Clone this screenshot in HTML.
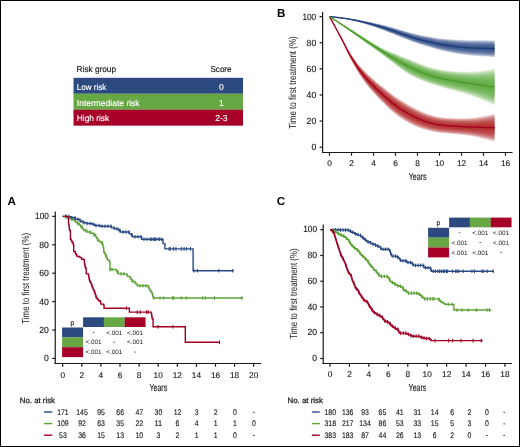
<!DOCTYPE html>
<html><head><meta charset="utf-8"><style>
html,body{margin:0;padding:0;background:#fff;}
body{width:520px;height:447px;overflow:hidden;}
svg{display:block;will-change:transform;font-family:"Liberation Sans", sans-serif;}
</style></head><body>
<svg width="520" height="447" viewBox="0 0 520 447" text-rendering="geometricPrecision">
<rect x="0" y="0" width="520" height="447" fill="#fff"/>
<text x="76.60" y="72.30" font-size="8.6" text-anchor="start" font-weight="normal" fill="#1a1a1a" textLength="39.4" lengthAdjust="spacingAndGlyphs" stroke="#1a1a1a" stroke-width="0.18">Risk group</text>
<text x="221.00" y="72.30" font-size="8.6" text-anchor="middle" font-weight="normal" fill="#1a1a1a" textLength="21" lengthAdjust="spacingAndGlyphs" stroke="#1a1a1a" stroke-width="0.18">Score</text>
<rect x="73.50" y="77.80" width="169.50" height="15.98" fill="#2c4a80"/>
<text x="76.80" y="89.60" font-size="8.6" text-anchor="start" font-weight="normal" fill="#ffffff" textLength="29.4" lengthAdjust="spacingAndGlyphs" stroke="#ffffff" stroke-width="0.15">Low risk</text>
<text x="221.40" y="89.60" font-size="8.6" text-anchor="middle" font-weight="normal" fill="#ffffff" stroke="#ffffff" stroke-width="0.15">0</text>
<rect x="73.50" y="93.73" width="169.50" height="15.98" fill="#67a844"/>
<text x="76.80" y="105.53" font-size="8.6" text-anchor="start" font-weight="normal" fill="#ffffff" textLength="62.8" lengthAdjust="spacingAndGlyphs" stroke="#ffffff" stroke-width="0.15">Intermediate risk</text>
<text x="221.40" y="105.53" font-size="8.6" text-anchor="middle" font-weight="normal" fill="#ffffff" stroke="#ffffff" stroke-width="0.15">1</text>
<rect x="73.50" y="109.66" width="169.50" height="15.98" fill="#a60029"/>
<text x="76.80" y="121.46" font-size="8.6" text-anchor="start" font-weight="normal" fill="#ffffff" textLength="32.3" lengthAdjust="spacingAndGlyphs" stroke="#ffffff" stroke-width="0.15">High risk</text>
<text x="221.40" y="121.46" font-size="8.6" text-anchor="middle" font-weight="normal" fill="#ffffff" stroke="#ffffff" stroke-width="0.15">2-3</text>
<text x="277.00" y="17.00" font-size="11.6" text-anchor="start" font-weight="bold" fill="#000">B</text>
<line x1="322.60" y1="12.00" x2="322.60" y2="153.10" stroke="#1a1a1a" stroke-width="1.2"/>
<line x1="322.00" y1="152.50" x2="512.50" y2="152.50" stroke="#1a1a1a" stroke-width="1.2"/>
<line x1="319.60" y1="147.20" x2="322.60" y2="147.20" stroke="#1a1a1a" stroke-width="1.2"/>
<text x="316.20" y="150.30" font-size="9.0" text-anchor="end" font-weight="normal" fill="#1a1a1a" textLength="4.8" lengthAdjust="spacingAndGlyphs" stroke="#1a1a1a" stroke-width="0.14">0</text>
<line x1="319.60" y1="121.09" x2="322.60" y2="121.09" stroke="#1a1a1a" stroke-width="1.2"/>
<text x="316.20" y="124.19" font-size="9.0" text-anchor="end" font-weight="normal" fill="#1a1a1a" textLength="9.6" lengthAdjust="spacingAndGlyphs" stroke="#1a1a1a" stroke-width="0.14">20</text>
<line x1="319.60" y1="94.98" x2="322.60" y2="94.98" stroke="#1a1a1a" stroke-width="1.2"/>
<text x="316.20" y="98.08" font-size="9.0" text-anchor="end" font-weight="normal" fill="#1a1a1a" textLength="9.6" lengthAdjust="spacingAndGlyphs" stroke="#1a1a1a" stroke-width="0.14">40</text>
<line x1="319.60" y1="68.87" x2="322.60" y2="68.87" stroke="#1a1a1a" stroke-width="1.2"/>
<text x="316.20" y="71.97" font-size="9.0" text-anchor="end" font-weight="normal" fill="#1a1a1a" textLength="9.6" lengthAdjust="spacingAndGlyphs" stroke="#1a1a1a" stroke-width="0.14">60</text>
<line x1="319.60" y1="42.76" x2="322.60" y2="42.76" stroke="#1a1a1a" stroke-width="1.2"/>
<text x="316.20" y="45.86" font-size="9.0" text-anchor="end" font-weight="normal" fill="#1a1a1a" textLength="9.6" lengthAdjust="spacingAndGlyphs" stroke="#1a1a1a" stroke-width="0.14">80</text>
<line x1="319.60" y1="16.65" x2="322.60" y2="16.65" stroke="#1a1a1a" stroke-width="1.2"/>
<text x="316.20" y="19.75" font-size="9.0" text-anchor="end" font-weight="normal" fill="#1a1a1a" textLength="13.8" lengthAdjust="spacingAndGlyphs" stroke="#1a1a1a" stroke-width="0.14">100</text>
<line x1="329.50" y1="152.50" x2="329.50" y2="155.70" stroke="#1a1a1a" stroke-width="1.2"/>
<text x="329.50" y="166.10" font-size="8.3" text-anchor="middle" font-weight="normal" fill="#1a1a1a" stroke="#1a1a1a" stroke-width="0.14">0</text>
<line x1="351.50" y1="152.50" x2="351.50" y2="155.70" stroke="#1a1a1a" stroke-width="1.2"/>
<text x="351.50" y="166.10" font-size="8.3" text-anchor="middle" font-weight="normal" fill="#1a1a1a" stroke="#1a1a1a" stroke-width="0.14">2</text>
<line x1="373.50" y1="152.50" x2="373.50" y2="155.70" stroke="#1a1a1a" stroke-width="1.2"/>
<text x="373.50" y="166.10" font-size="8.3" text-anchor="middle" font-weight="normal" fill="#1a1a1a" stroke="#1a1a1a" stroke-width="0.14">4</text>
<line x1="395.50" y1="152.50" x2="395.50" y2="155.70" stroke="#1a1a1a" stroke-width="1.2"/>
<text x="395.50" y="166.10" font-size="8.3" text-anchor="middle" font-weight="normal" fill="#1a1a1a" stroke="#1a1a1a" stroke-width="0.14">6</text>
<line x1="417.50" y1="152.50" x2="417.50" y2="155.70" stroke="#1a1a1a" stroke-width="1.2"/>
<text x="417.50" y="166.10" font-size="8.3" text-anchor="middle" font-weight="normal" fill="#1a1a1a" stroke="#1a1a1a" stroke-width="0.14">8</text>
<line x1="439.50" y1="152.50" x2="439.50" y2="155.70" stroke="#1a1a1a" stroke-width="1.2"/>
<text x="439.50" y="166.10" font-size="8.3" text-anchor="middle" font-weight="normal" fill="#1a1a1a" stroke="#1a1a1a" stroke-width="0.14">10</text>
<line x1="461.50" y1="152.50" x2="461.50" y2="155.70" stroke="#1a1a1a" stroke-width="1.2"/>
<text x="461.50" y="166.10" font-size="8.3" text-anchor="middle" font-weight="normal" fill="#1a1a1a" stroke="#1a1a1a" stroke-width="0.14">12</text>
<line x1="483.50" y1="152.50" x2="483.50" y2="155.70" stroke="#1a1a1a" stroke-width="1.2"/>
<text x="483.50" y="166.10" font-size="8.3" text-anchor="middle" font-weight="normal" fill="#1a1a1a" stroke="#1a1a1a" stroke-width="0.14">14</text>
<line x1="505.50" y1="152.50" x2="505.50" y2="155.70" stroke="#1a1a1a" stroke-width="1.2"/>
<text x="505.50" y="166.10" font-size="8.3" text-anchor="middle" font-weight="normal" fill="#1a1a1a" stroke="#1a1a1a" stroke-width="0.14">16</text>
<text x="417.60" y="179.80" font-size="10.2" text-anchor="middle" font-weight="normal" fill="#1a1a1a" textLength="17.8" lengthAdjust="spacingAndGlyphs" stroke="#1a1a1a" stroke-width="0.14">Years</text>
<text transform="translate(295.7,82.45) rotate(-90)" font-size="10.2" text-anchor="middle" fill="#1a1a1a" textLength="92.5" lengthAdjust="spacingAndGlyphs">Time to first treatment (%)</text>
<polygon points="329.5,16.6 330.9,16.2 332.3,16.3 333.7,16.4 335.0,16.6 336.4,16.7 337.8,16.9 339.2,17.1 340.6,17.2 342.0,17.4 343.4,17.6 344.8,17.8 346.1,18.0 347.5,18.3 348.9,18.5 350.3,18.6 351.7,18.8 353.1,19.0 354.5,19.2 355.8,19.5 357.2,19.7 358.6,19.9 360.0,20.2 361.4,20.4 362.8,20.7 364.2,20.9 365.6,21.2 366.9,21.5 368.3,21.7 369.7,22.0 371.1,22.3 372.5,22.6 373.9,22.9 375.3,23.2 376.6,23.5 378.0,23.8 379.4,24.1 380.8,24.4 382.2,24.8 383.6,25.1 385.0,25.5 386.3,25.8 387.7,26.2 389.1,26.6 390.5,26.9 391.9,27.3 393.3,27.7 394.7,28.1 396.1,28.5 397.4,28.9 398.8,29.3 400.2,29.7 401.6,30.1 403.0,30.5 404.4,30.9 405.8,31.3 407.1,31.7 408.5,32.1 409.9,32.5 411.3,32.9 412.7,33.3 414.1,33.6 415.5,34.0 416.9,34.3 418.2,34.6 419.6,34.9 421.0,35.2 422.4,35.5 423.8,35.7 425.2,36.0 426.6,36.2 427.9,36.5 429.3,36.7 430.7,37.0 432.1,37.2 433.5,37.4 434.9,37.7 436.3,37.9 437.7,38.1 439.0,38.2 440.4,38.4 441.8,38.5 443.2,38.6 444.6,38.8 446.0,38.9 447.4,39.0 448.7,39.1 450.1,39.2 451.5,39.3 452.9,39.4 454.3,39.5 455.7,39.6 457.1,39.7 458.4,39.8 459.8,39.9 461.2,40.0 462.6,40.0 464.0,40.1 465.4,40.1 466.8,40.2 468.2,40.2 469.5,40.2 470.9,40.3 472.3,40.3 473.7,40.3 475.1,40.3 476.5,40.3 477.9,40.3 479.2,40.3 480.6,40.3 482.0,40.3 483.4,40.3 484.8,40.3 486.2,40.3 487.6,40.3 489.0,40.3 490.3,40.3 491.7,40.4 493.1,40.4 494.5,40.4 494.5,57.1 493.1,57.0 491.7,57.0 490.3,56.9 489.0,56.8 487.6,56.7 486.2,56.6 484.8,56.5 483.4,56.5 482.0,56.4 480.6,56.3 479.2,56.2 477.9,56.1 476.5,56.0 475.1,55.9 473.7,55.8 472.3,55.7 470.9,55.5 469.5,55.4 468.2,55.3 466.8,55.1 465.4,54.9 464.0,54.8 462.6,54.6 461.2,54.4 459.8,54.2 458.4,54.0 457.1,53.8 455.7,53.5 454.3,53.3 452.9,53.0 451.5,52.8 450.1,52.5 448.7,52.2 447.4,51.9 446.0,51.6 444.6,51.3 443.2,51.0 441.8,50.7 440.4,50.3 439.0,50.0 437.7,49.6 436.3,49.2 434.9,48.8 433.5,48.4 432.1,48.0 430.7,47.5 429.3,47.1 427.9,46.7 426.6,46.3 425.2,45.9 423.8,45.5 422.4,45.1 421.0,44.6 419.6,44.2 418.2,43.7 416.9,43.3 415.5,42.8 414.1,42.3 412.7,41.8 411.3,41.2 409.9,40.7 408.5,40.2 407.1,39.6 405.8,39.1 404.4,38.5 403.0,38.0 401.6,37.4 400.2,36.9 398.8,36.3 397.4,35.8 396.1,35.2 394.7,34.7 393.3,34.1 391.9,33.6 390.5,33.0 389.1,32.5 387.7,31.9 386.3,31.4 385.0,30.8 383.6,30.3 382.2,29.8 380.8,29.3 379.4,28.8 378.0,28.3 376.6,27.8 375.3,27.3 373.9,26.8 372.5,26.3 371.1,25.9 369.7,25.4 368.3,24.9 366.9,24.5 365.6,24.0 364.2,23.6 362.8,23.2 361.4,22.8 360.0,22.4 358.6,22.0 357.2,21.6 355.8,21.3 354.5,20.9 353.1,20.6 351.7,20.3 350.3,20.0 348.9,19.7 347.5,19.4 346.1,19.2 344.8,19.0 343.4,18.8 342.0,18.6 340.6,18.4 339.2,18.3 337.8,18.1 336.4,17.9 335.0,17.8 333.7,17.6 332.3,17.5 330.9,17.4 329.5,16.6" fill="#2c4a85" fill-opacity="0.2"/>
<polygon points="329.5,16.6 330.9,16.2 332.3,16.4 333.7,16.5 335.0,16.6 336.4,16.8 337.8,17.0 339.2,17.1 340.6,17.3 342.0,17.5 343.4,17.7 344.8,17.9 346.1,18.1 347.5,18.3 348.9,18.5 350.3,18.7 351.7,18.9 353.1,19.1 354.5,19.3 355.8,19.5 357.2,19.8 358.6,20.0 360.0,20.3 361.4,20.5 362.8,20.8 364.2,21.0 365.6,21.3 366.9,21.6 368.3,21.9 369.7,22.2 371.1,22.5 372.5,22.8 373.9,23.1 375.3,23.4 376.6,23.7 378.0,24.0 379.4,24.3 380.8,24.6 382.2,25.0 383.6,25.3 385.0,25.7 386.3,26.0 387.7,26.4 389.1,26.8 390.5,27.2 391.9,27.6 393.3,28.0 394.7,28.4 396.1,28.8 397.4,29.2 398.8,29.6 400.2,30.0 401.6,30.4 403.0,30.8 404.4,31.2 405.8,31.6 407.1,32.0 408.5,32.4 409.9,32.8 411.3,33.2 412.7,33.6 414.1,34.0 415.5,34.3 416.9,34.7 418.2,35.0 419.6,35.3 421.0,35.6 422.4,35.9 423.8,36.1 425.2,36.4 426.6,36.6 427.9,36.9 429.3,37.1 430.7,37.4 432.1,37.6 433.5,37.9 434.9,38.1 436.3,38.3 437.7,38.5 439.0,38.7 440.4,38.9 441.8,39.0 443.2,39.2 444.6,39.3 446.0,39.4 447.4,39.5 448.7,39.6 450.1,39.7 451.5,39.9 452.9,40.0 454.3,40.1 455.7,40.2 457.1,40.3 458.4,40.4 459.8,40.5 461.2,40.6 462.6,40.6 464.0,40.7 465.4,40.7 466.8,40.8 468.2,40.8 469.5,40.9 470.9,40.9 472.3,40.9 473.7,40.9 475.1,40.9 476.5,40.9 477.9,40.9 479.2,40.9 480.6,40.9 482.0,40.9 483.4,41.0 484.8,41.0 486.2,41.0 487.6,41.0 489.0,41.0 490.3,41.0 491.7,41.1 493.1,41.1 494.5,41.1 494.5,56.4 493.1,56.4 491.7,56.3 490.3,56.2 489.0,56.1 487.6,56.0 486.2,56.0 484.8,55.9 483.4,55.8 482.0,55.7 480.6,55.6 479.2,55.5 477.9,55.4 476.5,55.3 475.1,55.2 473.7,55.1 472.3,55.0 470.9,54.9 469.5,54.8 468.2,54.6 466.8,54.5 465.4,54.3 464.0,54.1 462.6,54.0 461.2,53.8 459.8,53.6 458.4,53.4 457.1,53.2 455.7,52.9 454.3,52.7 452.9,52.5 451.5,52.2 450.1,51.9 448.7,51.7 447.4,51.4 446.0,51.1 444.6,50.8 443.2,50.5 441.8,50.2 440.4,49.8 439.0,49.5 437.7,49.1 436.3,48.7 434.9,48.3 433.5,47.9 432.1,47.5 430.7,47.1 429.3,46.7 427.9,46.3 426.6,45.9 425.2,45.5 423.8,45.1 422.4,44.7 421.0,44.2 419.6,43.8 418.2,43.4 416.9,42.9 415.5,42.4 414.1,41.9 412.7,41.4 411.3,40.9 409.9,40.4 408.5,39.8 407.1,39.3 405.8,38.8 404.4,38.2 403.0,37.7 401.6,37.1 400.2,36.6 398.8,36.0 397.4,35.5 396.1,34.9 394.7,34.4 393.3,33.8 391.9,33.3 390.5,32.8 389.1,32.2 387.7,31.7 386.3,31.1 385.0,30.6 383.6,30.1 382.2,29.6 380.8,29.1 379.4,28.6 378.0,28.1 376.6,27.6 375.3,27.1 373.9,26.6 372.5,26.2 371.1,25.7 369.7,25.2 368.3,24.8 366.9,24.4 365.6,23.9 364.2,23.5 362.8,23.1 361.4,22.7 360.0,22.3 358.6,21.9 357.2,21.6 355.8,21.2 354.5,20.9 353.1,20.5 351.7,20.2 350.3,19.9 348.9,19.6 347.5,19.4 346.1,19.2 344.8,18.9 343.4,18.7 342.0,18.6 340.6,18.4 339.2,18.2 337.8,18.0 336.4,17.9 335.0,17.7 333.7,17.6 332.3,17.4 330.9,17.3 329.5,16.6" fill="#2c4a85" fill-opacity="0.2"/>
<polygon points="329.5,16.6 330.9,16.3 332.3,16.4 333.7,16.5 335.0,16.7 336.4,16.8 337.8,17.0 339.2,17.2 340.6,17.3 342.0,17.5 343.4,17.7 344.8,17.9 346.1,18.1 347.5,18.4 348.9,18.6 350.3,18.7 351.7,18.9 353.1,19.2 354.5,19.4 355.8,19.6 357.2,19.9 358.6,20.1 360.0,20.4 361.4,20.6 362.8,20.9 364.2,21.2 365.6,21.4 366.9,21.7 368.3,22.0 369.7,22.3 371.1,22.6 372.5,22.9 373.9,23.2 375.3,23.5 376.6,23.9 378.0,24.2 379.4,24.5 380.8,24.9 382.2,25.2 383.6,25.5 385.0,25.9 386.3,26.3 387.7,26.7 389.1,27.0 390.5,27.4 391.9,27.8 393.3,28.3 394.7,28.7 396.1,29.1 397.4,29.5 398.8,29.9 400.2,30.3 401.6,30.7 403.0,31.1 404.4,31.6 405.8,32.0 407.1,32.4 408.5,32.8 409.9,33.2 411.3,33.6 412.7,34.0 414.1,34.3 415.5,34.7 416.9,35.1 418.2,35.4 419.6,35.7 421.0,36.0 422.4,36.3 423.8,36.5 425.2,36.8 426.6,37.1 427.9,37.3 429.3,37.6 430.7,37.8 432.1,38.1 433.5,38.3 434.9,38.6 436.3,38.8 437.7,39.0 439.0,39.2 440.4,39.4 441.8,39.5 443.2,39.7 444.6,39.8 446.0,39.9 447.4,40.1 448.7,40.2 450.1,40.3 451.5,40.4 452.9,40.5 454.3,40.7 455.7,40.8 457.1,40.9 458.4,41.0 459.8,41.1 461.2,41.2 462.6,41.2 464.0,41.3 465.4,41.4 466.8,41.4 468.2,41.5 469.5,41.5 470.9,41.5 472.3,41.6 473.7,41.6 475.1,41.6 476.5,41.6 477.9,41.6 479.2,41.6 480.6,41.6 482.0,41.6 483.4,41.6 484.8,41.6 486.2,41.7 487.6,41.7 489.0,41.7 490.3,41.7 491.7,41.7 493.1,41.8 494.5,41.8 494.5,55.7 493.1,55.7 491.7,55.6 490.3,55.5 489.0,55.4 487.6,55.4 486.2,55.3 484.8,55.2 483.4,55.1 482.0,55.0 480.6,54.9 479.2,54.9 477.9,54.8 476.5,54.7 475.1,54.6 473.7,54.5 472.3,54.4 470.9,54.3 469.5,54.1 468.2,54.0 466.8,53.9 465.4,53.7 464.0,53.5 462.6,53.4 461.2,53.2 459.8,53.0 458.4,52.8 457.1,52.6 455.7,52.4 454.3,52.1 452.9,51.9 451.5,51.6 450.1,51.4 448.7,51.1 447.4,50.9 446.0,50.6 444.6,50.3 443.2,50.0 441.8,49.7 440.4,49.3 439.0,49.0 437.7,48.6 436.3,48.3 434.9,47.9 433.5,47.5 432.1,47.1 430.7,46.7 429.3,46.3 427.9,45.9 426.6,45.5 425.2,45.1 423.8,44.7 422.4,44.3 421.0,43.8 419.6,43.4 418.2,43.0 416.9,42.5 415.5,42.1 414.1,41.6 412.7,41.1 411.3,40.5 409.9,40.0 408.5,39.5 407.1,39.0 405.8,38.4 404.4,37.9 403.0,37.4 401.6,36.8 400.2,36.3 398.8,35.7 397.4,35.2 396.1,34.6 394.7,34.1 393.3,33.6 391.9,33.0 390.5,32.5 389.1,32.0 387.7,31.4 386.3,30.9 385.0,30.4 383.6,29.9 382.2,29.4 380.8,28.9 379.4,28.4 378.0,27.9 376.6,27.4 375.3,26.9 373.9,26.5 372.5,26.0 371.1,25.6 369.7,25.1 368.3,24.7 366.9,24.2 365.6,23.8 364.2,23.4 362.8,23.0 361.4,22.6 360.0,22.2 358.6,21.8 357.2,21.5 355.8,21.1 354.5,20.8 353.1,20.5 351.7,20.2 350.3,19.9 348.9,19.6 347.5,19.3 346.1,19.1 344.8,18.9 343.4,18.7 342.0,18.5 340.6,18.3 339.2,18.2 337.8,18.0 336.4,17.8 335.0,17.7 333.7,17.5 332.3,17.4 330.9,17.3 329.5,16.6" fill="#2c4a85" fill-opacity="0.2"/>
<polygon points="329.5,16.6 330.9,16.3 332.3,16.5 333.7,16.6 335.0,16.7 336.4,16.9 337.8,17.1 339.2,17.2 340.6,17.4 342.0,17.6 343.4,17.8 344.8,18.0 346.1,18.2 347.5,18.4 348.9,18.6 350.3,18.8 351.7,19.0 353.1,19.2 354.5,19.4 355.8,19.7 357.2,19.9 358.6,20.2 360.0,20.5 361.4,20.7 362.8,21.0 364.2,21.3 365.6,21.5 366.9,21.8 368.3,22.1 369.7,22.4 371.1,22.8 372.5,23.1 373.9,23.4 375.3,23.7 376.6,24.0 378.0,24.4 379.4,24.7 380.8,25.1 382.2,25.4 383.6,25.8 385.0,26.1 386.3,26.5 387.7,26.9 389.1,27.3 390.5,27.7 391.9,28.1 393.3,28.5 394.7,28.9 396.1,29.3 397.4,29.8 398.8,30.2 400.2,30.6 401.6,31.0 403.0,31.5 404.4,31.9 405.8,32.3 407.1,32.7 408.5,33.1 409.9,33.5 411.3,33.9 412.7,34.3 414.1,34.7 415.5,35.1 416.9,35.4 418.2,35.8 419.6,36.1 421.0,36.4 422.4,36.7 423.8,36.9 425.2,37.2 426.6,37.5 427.9,37.7 429.3,38.0 430.7,38.3 432.1,38.5 433.5,38.8 434.9,39.1 436.3,39.3 437.7,39.5 439.0,39.7 440.4,39.9 441.8,40.0 443.2,40.2 444.6,40.3 446.0,40.5 447.4,40.6 448.7,40.7 450.1,40.9 451.5,41.0 452.9,41.1 454.3,41.2 455.7,41.4 457.1,41.5 458.4,41.6 459.8,41.7 461.2,41.8 462.6,41.8 464.0,41.9 465.4,42.0 466.8,42.0 468.2,42.1 469.5,42.1 470.9,42.2 472.3,42.2 473.7,42.2 475.1,42.2 476.5,42.3 477.9,42.3 479.2,42.3 480.6,42.3 482.0,42.3 483.4,42.3 484.8,42.3 486.2,42.3 487.6,42.4 489.0,42.4 490.3,42.4 491.7,42.4 493.1,42.5 494.5,42.5 494.5,55.0 493.1,55.0 491.7,54.9 490.3,54.8 489.0,54.7 487.6,54.7 486.2,54.6 484.8,54.5 483.4,54.4 482.0,54.4 480.6,54.3 479.2,54.2 477.9,54.1 476.5,54.0 475.1,53.9 473.7,53.8 472.3,53.7 470.9,53.6 469.5,53.5 468.2,53.4 466.8,53.2 465.4,53.1 464.0,52.9 462.6,52.8 461.2,52.6 459.8,52.4 458.4,52.2 457.1,52.0 455.7,51.8 454.3,51.6 452.9,51.3 451.5,51.1 450.1,50.8 448.7,50.6 447.4,50.3 446.0,50.0 444.6,49.8 443.2,49.5 441.8,49.2 440.4,48.8 439.0,48.5 437.7,48.2 436.3,47.8 434.9,47.4 433.5,47.0 432.1,46.6 430.7,46.2 429.3,45.8 427.9,45.4 426.6,45.0 425.2,44.6 423.8,44.3 422.4,43.9 421.0,43.4 419.6,43.0 418.2,42.6 416.9,42.2 415.5,41.7 414.1,41.2 412.7,40.7 411.3,40.2 409.9,39.7 408.5,39.2 407.1,38.6 405.8,38.1 404.4,37.6 403.0,37.1 401.6,36.5 400.2,36.0 398.8,35.4 397.4,34.9 396.1,34.4 394.7,33.8 393.3,33.3 391.9,32.8 390.5,32.2 389.1,31.7 387.7,31.2 386.3,30.7 385.0,30.2 383.6,29.7 382.2,29.2 380.8,28.7 379.4,28.2 378.0,27.7 376.6,27.2 375.3,26.8 373.9,26.3 372.5,25.9 371.1,25.4 369.7,25.0 368.3,24.5 366.9,24.1 365.6,23.7 364.2,23.3 362.8,22.9 361.4,22.5 360.0,22.1 358.6,21.8 357.2,21.4 355.8,21.1 354.5,20.7 353.1,20.4 351.7,20.1 350.3,19.8 348.9,19.5 347.5,19.3 346.1,19.1 344.8,18.9 343.4,18.6 342.0,18.5 340.6,18.3 339.2,18.1 337.8,17.9 336.4,17.8 335.0,17.6 333.7,17.5 332.3,17.3 330.9,17.2 329.5,16.6" fill="#2c4a85" fill-opacity="0.2"/>
<polygon points="329.5,16.6 330.9,16.4 332.3,16.5 333.7,16.6 335.0,16.8 336.4,16.9 337.8,17.1 339.2,17.3 340.6,17.4 342.0,17.6 343.4,17.8 344.8,18.0 346.1,18.2 347.5,18.5 348.9,18.7 350.3,18.9 351.7,19.1 353.1,19.3 354.5,19.5 355.8,19.8 357.2,20.0 358.6,20.3 360.0,20.6 361.4,20.8 362.8,21.1 364.2,21.4 365.6,21.7 366.9,22.0 368.3,22.3 369.7,22.6 371.1,22.9 372.5,23.2 373.9,23.5 375.3,23.9 376.6,24.2 378.0,24.5 379.4,24.9 380.8,25.3 382.2,25.6 383.6,26.0 385.0,26.4 386.3,26.7 387.7,27.1 389.1,27.5 390.5,28.0 391.9,28.4 393.3,28.8 394.7,29.2 396.1,29.6 397.4,30.0 398.8,30.5 400.2,30.9 401.6,31.3 403.0,31.8 404.4,32.2 405.8,32.6 407.1,33.0 408.5,33.4 409.9,33.9 411.3,34.3 412.7,34.7 414.1,35.1 415.5,35.4 416.9,35.8 418.2,36.1 419.6,36.5 421.0,36.8 422.4,37.1 423.8,37.3 425.2,37.6 426.6,37.9 427.9,38.2 429.3,38.4 430.7,38.7 432.1,39.0 433.5,39.3 434.9,39.5 436.3,39.8 437.7,40.0 439.0,40.2 440.4,40.4 441.8,40.5 443.2,40.7 444.6,40.9 446.0,41.0 447.4,41.1 448.7,41.3 450.1,41.4 451.5,41.5 452.9,41.7 454.3,41.8 455.7,41.9 457.1,42.1 458.4,42.2 459.8,42.3 461.2,42.4 462.6,42.4 464.0,42.5 465.4,42.6 466.8,42.7 468.2,42.7 469.5,42.8 470.9,42.8 472.3,42.8 473.7,42.9 475.1,42.9 476.5,42.9 477.9,42.9 479.2,42.9 480.6,42.9 482.0,43.0 483.4,43.0 484.8,43.0 486.2,43.0 487.6,43.0 489.0,43.1 490.3,43.1 491.7,43.1 493.1,43.2 494.5,43.2 494.5,54.3 493.1,54.3 491.7,54.2 490.3,54.1 489.0,54.1 487.6,54.0 486.2,53.9 484.8,53.8 483.4,53.8 482.0,53.7 480.6,53.6 479.2,53.5 477.9,53.5 476.5,53.4 475.1,53.3 473.7,53.2 472.3,53.1 470.9,53.0 469.5,52.9 468.2,52.7 466.8,52.6 465.4,52.5 464.0,52.3 462.6,52.1 461.2,52.0 459.8,51.8 458.4,51.6 457.1,51.4 455.7,51.2 454.3,51.0 452.9,50.8 451.5,50.5 450.1,50.3 448.7,50.0 447.4,49.8 446.0,49.5 444.6,49.2 443.2,49.0 441.8,48.7 440.4,48.3 439.0,48.0 437.7,47.7 436.3,47.3 434.9,46.9 433.5,46.6 432.1,46.2 430.7,45.8 429.3,45.4 427.9,45.0 426.6,44.6 425.2,44.2 423.8,43.8 422.4,43.5 421.0,43.1 419.6,42.6 418.2,42.2 416.9,41.8 415.5,41.3 414.1,40.8 412.7,40.3 411.3,39.8 409.9,39.3 408.5,38.8 407.1,38.3 405.8,37.8 404.4,37.3 403.0,36.7 401.6,36.2 400.2,35.7 398.8,35.1 397.4,34.6 396.1,34.1 394.7,33.6 393.3,33.0 391.9,32.5 390.5,32.0 389.1,31.5 387.7,31.0 386.3,30.5 385.0,29.9 383.6,29.5 382.2,29.0 380.8,28.5 379.4,28.0 378.0,27.5 376.6,27.1 375.3,26.6 373.9,26.2 372.5,25.7 371.1,25.3 369.7,24.8 368.3,24.4 366.9,24.0 365.6,23.6 364.2,23.2 362.8,22.8 361.4,22.4 360.0,22.0 358.6,21.7 357.2,21.3 355.8,21.0 354.5,20.7 353.1,20.3 351.7,20.0 350.3,19.8 348.9,19.5 347.5,19.2 346.1,19.0 344.8,18.8 343.4,18.6 342.0,18.4 340.6,18.2 339.2,18.1 337.8,17.9 336.4,17.7 335.0,17.6 333.7,17.4 332.3,17.3 330.9,17.2 329.5,16.6" fill="#2c4a85" fill-opacity="0.2"/>
<polygon points="329.5,16.6 330.9,16.4 332.3,16.6 333.7,16.7 335.0,16.8 336.4,17.0 337.8,17.2 339.2,17.3 340.6,17.5 342.0,17.7 343.4,17.9 344.8,18.1 346.1,18.3 347.5,18.5 348.9,18.7 350.3,18.9 351.7,19.1 353.1,19.4 354.5,19.6 355.8,19.8 357.2,20.1 358.6,20.4 360.0,20.6 361.4,20.9 362.8,21.2 364.2,21.5 365.6,21.8 366.9,22.1 368.3,22.4 369.7,22.7 371.1,23.0 372.5,23.4 373.9,23.7 375.3,24.0 376.6,24.4 378.0,24.7 379.4,25.1 380.8,25.5 382.2,25.8 383.6,26.2 385.0,26.6 386.3,27.0 387.7,27.4 389.1,27.8 390.5,28.2 391.9,28.6 393.3,29.0 394.7,29.5 396.1,29.9 397.4,30.3 398.8,30.8 400.2,31.2 401.6,31.6 403.0,32.1 404.4,32.5 405.8,32.9 407.1,33.4 408.5,33.8 409.9,34.2 411.3,34.6 412.7,35.0 414.1,35.4 415.5,35.8 416.9,36.2 418.2,36.5 419.6,36.8 421.0,37.2 422.4,37.5 423.8,37.8 425.2,38.0 426.6,38.3 427.9,38.6 429.3,38.9 430.7,39.2 432.1,39.4 433.5,39.7 434.9,40.0 436.3,40.2 437.7,40.5 439.0,40.7 440.4,40.9 441.8,41.1 443.2,41.2 444.6,41.4 446.0,41.5 447.4,41.7 448.7,41.8 450.1,42.0 451.5,42.1 452.9,42.2 454.3,42.4 455.7,42.5 457.1,42.6 458.4,42.8 459.8,42.9 461.2,43.0 462.6,43.0 464.0,43.1 465.4,43.2 466.8,43.3 468.2,43.3 469.5,43.4 470.9,43.4 472.3,43.5 473.7,43.5 475.1,43.5 476.5,43.6 477.9,43.6 479.2,43.6 480.6,43.6 482.0,43.6 483.4,43.7 484.8,43.7 486.2,43.7 487.6,43.7 489.0,43.8 490.3,43.8 491.7,43.8 493.1,43.9 494.5,43.9 494.5,53.6 493.1,53.6 491.7,53.5 490.3,53.4 489.0,53.4 487.6,53.3 486.2,53.2 484.8,53.2 483.4,53.1 482.0,53.0 480.6,52.9 479.2,52.9 477.9,52.8 476.5,52.7 475.1,52.6 473.7,52.6 472.3,52.5 470.9,52.4 469.5,52.2 468.2,52.1 466.8,52.0 465.4,51.8 464.0,51.7 462.6,51.5 461.2,51.4 459.8,51.2 458.4,51.0 457.1,50.8 455.7,50.6 454.3,50.4 452.9,50.2 451.5,50.0 450.1,49.7 448.7,49.5 447.4,49.2 446.0,49.0 444.6,48.7 443.2,48.4 441.8,48.1 440.4,47.8 439.0,47.5 437.7,47.2 436.3,46.9 434.9,46.5 433.5,46.1 432.1,45.7 430.7,45.3 429.3,45.0 427.9,44.6 426.6,44.2 425.2,43.8 423.8,43.4 422.4,43.1 421.0,42.7 419.6,42.3 418.2,41.8 416.9,41.4 415.5,41.0 414.1,40.5 412.7,40.0 411.3,39.5 409.9,39.0 408.5,38.5 407.1,38.0 405.8,37.5 404.4,37.0 403.0,36.4 401.6,35.9 400.2,35.4 398.8,34.9 397.4,34.3 396.1,33.8 394.7,33.3 393.3,32.8 391.9,32.3 390.5,31.7 389.1,31.2 387.7,30.7 386.3,30.2 385.0,29.7 383.6,29.2 382.2,28.8 380.8,28.3 379.4,27.8 378.0,27.3 376.6,26.9 375.3,26.4 373.9,26.0 372.5,25.5 371.1,25.1 369.7,24.7 368.3,24.3 366.9,23.9 365.6,23.4 364.2,23.1 362.8,22.7 361.4,22.3 360.0,21.9 358.6,21.6 357.2,21.2 355.8,20.9 354.5,20.6 353.1,20.3 351.7,20.0 350.3,19.7 348.9,19.4 347.5,19.2 346.1,19.0 344.8,18.8 343.4,18.6 342.0,18.4 340.6,18.2 339.2,18.0 337.8,17.8 336.4,17.7 335.0,17.5 333.7,17.4 332.3,17.2 330.9,17.1 329.5,16.6" fill="#2c4a85" fill-opacity="0.2"/>
<polygon points="329.5,16.6 330.9,16.5 332.3,16.6 333.7,16.7 335.0,16.9 336.4,17.0 337.8,17.2 339.2,17.4 340.6,17.5 342.0,17.7 343.4,17.9 344.8,18.1 346.1,18.3 347.5,18.5 348.9,18.8 350.3,19.0 351.7,19.2 353.1,19.4 354.5,19.7 355.8,19.9 357.2,20.2 358.6,20.5 360.0,20.7 361.4,21.0 362.8,21.3 364.2,21.6 365.6,21.9 366.9,22.2 368.3,22.5 369.7,22.9 371.1,23.2 372.5,23.5 373.9,23.9 375.3,24.2 376.6,24.6 378.0,24.9 379.4,25.3 380.8,25.7 382.2,26.0 383.6,26.4 385.0,26.8 386.3,27.2 387.7,27.6 389.1,28.0 390.5,28.5 391.9,28.9 393.3,29.3 394.7,29.7 396.1,30.2 397.4,30.6 398.8,31.1 400.2,31.5 401.6,31.9 403.0,32.4 404.4,32.8 405.8,33.3 407.1,33.7 408.5,34.1 409.9,34.5 411.3,35.0 412.7,35.4 414.1,35.8 415.5,36.2 416.9,36.5 418.2,36.9 419.6,37.2 421.0,37.6 422.4,37.9 423.8,38.2 425.2,38.5 426.6,38.7 427.9,39.0 429.3,39.3 430.7,39.6 432.1,39.9 433.5,40.2 434.9,40.4 436.3,40.7 437.7,40.9 439.0,41.2 440.4,41.4 441.8,41.6 443.2,41.7 444.6,41.9 446.0,42.1 447.4,42.2 448.7,42.4 450.1,42.5 451.5,42.7 452.9,42.8 454.3,42.9 455.7,43.1 457.1,43.2 458.4,43.3 459.8,43.5 461.2,43.6 462.6,43.7 464.0,43.7 465.4,43.8 466.8,43.9 468.2,44.0 469.5,44.0 470.9,44.1 472.3,44.1 473.7,44.2 475.1,44.2 476.5,44.2 477.9,44.2 479.2,44.3 480.6,44.3 482.0,44.3 483.4,44.3 484.8,44.4 486.2,44.4 487.6,44.4 489.0,44.4 490.3,44.5 491.7,44.5 493.1,44.6 494.5,44.6 494.5,52.9 493.1,52.9 491.7,52.8 490.3,52.8 489.0,52.7 487.6,52.6 486.2,52.6 484.8,52.5 483.4,52.4 482.0,52.3 480.6,52.3 479.2,52.2 477.9,52.1 476.5,52.1 475.1,52.0 473.7,51.9 472.3,51.8 470.9,51.7 469.5,51.6 468.2,51.5 466.8,51.4 465.4,51.2 464.0,51.1 462.6,50.9 461.2,50.8 459.8,50.6 458.4,50.4 457.1,50.2 455.7,50.0 454.3,49.8 452.9,49.6 451.5,49.4 450.1,49.2 448.7,48.9 447.4,48.7 446.0,48.4 444.6,48.2 443.2,47.9 441.8,47.6 440.4,47.4 439.0,47.0 437.7,46.7 436.3,46.4 434.9,46.0 433.5,45.6 432.1,45.3 430.7,44.9 429.3,44.5 427.9,44.1 426.6,43.8 425.2,43.4 423.8,43.0 422.4,42.7 421.0,42.3 419.6,41.9 418.2,41.5 416.9,41.0 415.5,40.6 414.1,40.1 412.7,39.6 411.3,39.1 409.9,38.6 408.5,38.1 407.1,37.6 405.8,37.1 404.4,36.6 403.0,36.1 401.6,35.6 400.2,35.1 398.8,34.6 397.4,34.0 396.1,33.5 394.7,33.0 393.3,32.5 391.9,32.0 390.5,31.5 389.1,31.0 387.7,30.5 386.3,30.0 385.0,29.5 383.6,29.0 382.2,28.5 380.8,28.1 379.4,27.6 378.0,27.2 376.6,26.7 375.3,26.3 373.9,25.8 372.5,25.4 371.1,25.0 369.7,24.5 368.3,24.1 366.9,23.7 365.6,23.3 364.2,22.9 362.8,22.6 361.4,22.2 360.0,21.8 358.6,21.5 357.2,21.2 355.8,20.8 354.5,20.5 353.1,20.2 351.7,19.9 350.3,19.6 348.9,19.4 347.5,19.1 346.1,18.9 344.8,18.7 343.4,18.5 342.0,18.3 340.6,18.1 339.2,18.0 337.8,17.8 336.4,17.6 335.0,17.5 333.7,17.3 332.3,17.2 330.9,17.1 329.5,16.6" fill="#2c4a85" fill-opacity="0.2"/>
<polygon points="329.5,16.6 330.9,16.5 332.3,16.7 333.7,16.8 335.0,16.9 336.4,17.1 337.8,17.3 339.2,17.4 340.6,17.6 342.0,17.8 343.4,18.0 344.8,18.2 346.1,18.4 347.5,18.6 348.9,18.8 350.3,19.0 351.7,19.2 353.1,19.5 354.5,19.7 355.8,20.0 357.2,20.3 358.6,20.5 360.0,20.8 361.4,21.1 362.8,21.4 364.2,21.7 365.6,22.0 366.9,22.3 368.3,22.7 369.7,23.0 371.1,23.3 372.5,23.7 373.9,24.0 375.3,24.4 376.6,24.7 378.0,25.1 379.4,25.5 380.8,25.9 382.2,26.2 383.6,26.6 385.0,27.0 386.3,27.4 387.7,27.9 389.1,28.3 390.5,28.7 391.9,29.1 393.3,29.6 394.7,30.0 396.1,30.5 397.4,30.9 398.8,31.3 400.2,31.8 401.6,32.3 403.0,32.7 404.4,33.1 405.8,33.6 407.1,34.0 408.5,34.4 409.9,34.9 411.3,35.3 412.7,35.7 414.1,36.1 415.5,36.5 416.9,36.9 418.2,37.3 419.6,37.6 421.0,37.9 422.4,38.3 423.8,38.6 425.2,38.9 426.6,39.2 427.9,39.5 429.3,39.7 430.7,40.0 432.1,40.3 433.5,40.6 434.9,40.9 436.3,41.2 437.7,41.4 439.0,41.7 440.4,41.9 441.8,42.1 443.2,42.3 444.6,42.4 446.0,42.6 447.4,42.8 448.7,42.9 450.1,43.1 451.5,43.2 452.9,43.4 454.3,43.5 455.7,43.7 457.1,43.8 458.4,43.9 459.8,44.1 461.2,44.2 462.6,44.3 464.0,44.4 465.4,44.4 466.8,44.5 468.2,44.6 469.5,44.7 470.9,44.7 472.3,44.8 473.7,44.8 475.1,44.8 476.5,44.9 477.9,44.9 479.2,44.9 480.6,44.9 482.0,45.0 483.4,45.0 484.8,45.0 486.2,45.1 487.6,45.1 489.0,45.1 490.3,45.2 491.7,45.2 493.1,45.2 494.5,45.3 494.5,52.2 493.1,52.2 491.7,52.1 490.3,52.1 489.0,52.0 487.6,51.9 486.2,51.9 484.8,51.8 483.4,51.7 482.0,51.7 480.6,51.6 479.2,51.5 477.9,51.5 476.5,51.4 475.1,51.3 473.7,51.3 472.3,51.2 470.9,51.1 469.5,51.0 468.2,50.9 466.8,50.7 465.4,50.6 464.0,50.5 462.6,50.3 461.2,50.2 459.8,50.0 458.4,49.8 457.1,49.7 455.7,49.5 454.3,49.3 452.9,49.1 451.5,48.8 450.1,48.6 448.7,48.4 447.4,48.2 446.0,47.9 444.6,47.7 443.2,47.4 441.8,47.1 440.4,46.9 439.0,46.6 437.7,46.2 436.3,45.9 434.9,45.6 433.5,45.2 432.1,44.8 430.7,44.5 429.3,44.1 427.9,43.7 426.6,43.4 425.2,43.0 423.8,42.6 422.4,42.3 421.0,41.9 419.6,41.5 418.2,41.1 416.9,40.7 415.5,40.2 414.1,39.8 412.7,39.3 411.3,38.8 409.9,38.3 408.5,37.8 407.1,37.3 405.8,36.8 404.4,36.3 403.0,35.8 401.6,35.3 400.2,34.8 398.8,34.3 397.4,33.8 396.1,33.2 394.7,32.7 393.3,32.2 391.9,31.7 390.5,31.2 389.1,30.7 387.7,30.2 386.3,29.8 385.0,29.3 383.6,28.8 382.2,28.3 380.8,27.9 379.4,27.4 378.0,27.0 376.6,26.5 375.3,26.1 373.9,25.7 372.5,25.2 371.1,24.8 369.7,24.4 368.3,24.0 366.9,23.6 365.6,23.2 364.2,22.8 362.8,22.5 361.4,22.1 360.0,21.8 358.6,21.4 357.2,21.1 355.8,20.8 354.5,20.4 353.1,20.1 351.7,19.9 350.3,19.6 348.9,19.3 347.5,19.1 346.1,18.9 344.8,18.7 343.4,18.5 342.0,18.3 340.6,18.1 339.2,17.9 337.8,17.7 336.4,17.6 335.0,17.4 333.7,17.3 332.3,17.1 330.9,17.0 329.5,16.6" fill="#2c4a85" fill-opacity="0.2"/>
<polygon points="329.5,16.6 330.9,16.6 332.3,16.7 333.7,16.8 335.0,17.0 336.4,17.1 337.8,17.3 339.2,17.5 340.6,17.6 342.0,17.8 343.4,18.0 344.8,18.2 346.1,18.4 347.5,18.6 348.9,18.9 350.3,19.1 351.7,19.3 353.1,19.5 354.5,19.8 355.8,20.1 357.2,20.3 358.6,20.6 360.0,20.9 361.4,21.2 362.8,21.5 364.2,21.8 365.6,22.1 366.9,22.5 368.3,22.8 369.7,23.1 371.1,23.5 372.5,23.8 373.9,24.2 375.3,24.6 376.6,24.9 378.0,25.3 379.4,25.7 380.8,26.1 382.2,26.5 383.6,26.9 385.0,27.3 386.3,27.7 387.7,28.1 389.1,28.5 390.5,29.0 391.9,29.4 393.3,29.8 394.7,30.3 396.1,30.7 397.4,31.2 398.8,31.6 400.2,32.1 401.6,32.6 403.0,33.0 404.4,33.5 405.8,33.9 407.1,34.3 408.5,34.8 409.9,35.2 411.3,35.7 412.7,36.1 414.1,36.5 415.5,36.9 416.9,37.3 418.2,37.7 419.6,38.0 421.0,38.3 422.4,38.7 423.8,39.0 425.2,39.3 426.6,39.6 427.9,39.9 429.3,40.2 430.7,40.5 432.1,40.8 433.5,41.1 434.9,41.4 436.3,41.7 437.7,41.9 439.0,42.2 440.4,42.4 441.8,42.6 443.2,42.8 444.6,43.0 446.0,43.1 447.4,43.3 448.7,43.5 450.1,43.6 451.5,43.8 452.9,43.9 454.3,44.1 455.7,44.2 457.1,44.4 458.4,44.5 459.8,44.7 461.2,44.8 462.6,44.9 464.0,45.0 465.4,45.1 466.8,45.1 468.2,45.2 469.5,45.3 470.9,45.4 472.3,45.4 473.7,45.5 475.1,45.5 476.5,45.5 477.9,45.6 479.2,45.6 480.6,45.6 482.0,45.6 483.4,45.7 484.8,45.7 486.2,45.7 487.6,45.8 489.0,45.8 490.3,45.9 491.7,45.9 493.1,45.9 494.5,46.0 494.5,51.6 493.1,51.5 491.7,51.4 490.3,51.4 489.0,51.3 487.6,51.3 486.2,51.2 484.8,51.1 483.4,51.1 482.0,51.0 480.6,50.9 479.2,50.9 477.9,50.8 476.5,50.8 475.1,50.7 473.7,50.6 472.3,50.5 470.9,50.4 469.5,50.3 468.2,50.2 466.8,50.1 465.4,50.0 464.0,49.9 462.6,49.7 461.2,49.6 459.8,49.4 458.4,49.3 457.1,49.1 455.7,48.9 454.3,48.7 452.9,48.5 451.5,48.3 450.1,48.1 448.7,47.8 447.4,47.6 446.0,47.4 444.6,47.1 443.2,46.9 441.8,46.6 440.4,46.4 439.0,46.1 437.7,45.8 436.3,45.4 434.9,45.1 433.5,44.7 432.1,44.4 430.7,44.0 429.3,43.6 427.9,43.3 426.6,42.9 425.2,42.6 423.8,42.2 422.4,41.9 421.0,41.5 419.6,41.1 418.2,40.7 416.9,40.3 415.5,39.8 414.1,39.4 412.7,38.9 411.3,38.4 409.9,38.0 408.5,37.5 407.1,37.0 405.8,36.5 404.4,36.0 403.0,35.5 401.6,35.0 400.2,34.5 398.8,34.0 397.4,33.5 396.1,33.0 394.7,32.5 393.3,32.0 391.9,31.5 390.5,31.0 389.1,30.5 387.7,30.0 386.3,29.5 385.0,29.1 383.6,28.6 382.2,28.1 380.8,27.7 379.4,27.2 378.0,26.8 376.6,26.3 375.3,25.9 373.9,25.5 372.5,25.1 371.1,24.7 369.7,24.3 368.3,23.9 366.9,23.5 365.6,23.1 364.2,22.7 362.8,22.4 361.4,22.0 360.0,21.7 358.6,21.3 357.2,21.0 355.8,20.7 354.5,20.4 353.1,20.1 351.7,19.8 350.3,19.5 348.9,19.3 347.5,19.0 346.1,18.8 344.8,18.6 343.4,18.4 342.0,18.2 340.6,18.0 339.2,17.9 337.8,17.7 336.4,17.5 335.0,17.4 333.7,17.2 332.3,17.1 330.9,17.0 329.5,16.6" fill="#2c4a85" fill-opacity="0.2"/>
<polygon points="329.5,16.6 330.9,16.6 332.3,16.8 333.7,16.9 335.0,17.0 336.4,17.2 337.8,17.4 339.2,17.5 340.6,17.7 342.0,17.9 343.4,18.1 344.8,18.3 346.1,18.5 347.5,18.7 348.9,18.9 350.3,19.1 351.7,19.4 353.1,19.6 354.5,19.9 355.8,20.1 357.2,20.4 358.6,20.7 360.0,21.0 361.4,21.3 362.8,21.6 364.2,21.9 365.6,22.3 366.9,22.6 368.3,22.9 369.7,23.3 371.1,23.6 372.5,24.0 373.9,24.4 375.3,24.7 376.6,25.1 378.0,25.5 379.4,25.9 380.8,26.3 382.2,26.7 383.6,27.1 385.0,27.5 386.3,27.9 387.7,28.3 389.1,28.8 390.5,29.2 391.9,29.7 393.3,30.1 394.7,30.6 396.1,31.0 397.4,31.5 398.8,31.9 400.2,32.4 401.6,32.9 403.0,33.3 404.4,33.8 405.8,34.2 407.1,34.7 408.5,35.1 409.9,35.6 411.3,36.0 412.7,36.4 414.1,36.9 415.5,37.3 416.9,37.7 418.2,38.0 419.6,38.4 421.0,38.7 422.4,39.1 423.8,39.4 425.2,39.7 426.6,40.0 427.9,40.3 429.3,40.6 430.7,40.9 432.1,41.2 433.5,41.5 434.9,41.8 436.3,42.1 437.7,42.4 439.0,42.6 440.4,42.9 441.8,43.1 443.2,43.3 444.6,43.5 446.0,43.7 447.4,43.8 448.7,44.0 450.1,44.2 451.5,44.3 452.9,44.5 454.3,44.7 455.7,44.8 457.1,45.0 458.4,45.1 459.8,45.3 461.2,45.4 462.6,45.5 464.0,45.6 465.4,45.7 466.8,45.8 468.2,45.8 469.5,45.9 470.9,46.0 472.3,46.0 473.7,46.1 475.1,46.1 476.5,46.2 477.9,46.2 479.2,46.2 480.6,46.3 482.0,46.3 483.4,46.3 484.8,46.4 486.2,46.4 487.6,46.5 489.0,46.5 490.3,46.5 491.7,46.6 493.1,46.6 494.5,46.7 494.5,50.9 493.1,50.8 491.7,50.7 490.3,50.7 489.0,50.6 487.6,50.6 486.2,50.5 484.8,50.5 483.4,50.4 482.0,50.3 480.6,50.3 479.2,50.2 477.9,50.2 476.5,50.1 475.1,50.0 473.7,50.0 472.3,49.9 470.9,49.8 469.5,49.7 468.2,49.6 466.8,49.5 465.4,49.4 464.0,49.2 462.6,49.1 461.2,49.0 459.8,48.8 458.4,48.7 457.1,48.5 455.7,48.3 454.3,48.1 452.9,47.9 451.5,47.7 450.1,47.5 448.7,47.3 447.4,47.1 446.0,46.9 444.6,46.6 443.2,46.4 441.8,46.1 440.4,45.9 439.0,45.6 437.7,45.3 436.3,45.0 434.9,44.6 433.5,44.3 432.1,43.9 430.7,43.6 429.3,43.2 427.9,42.9 426.6,42.5 425.2,42.2 423.8,41.8 422.4,41.5 421.0,41.1 419.6,40.7 418.2,40.3 416.9,39.9 415.5,39.5 414.1,39.0 412.7,38.6 411.3,38.1 409.9,37.6 408.5,37.1 407.1,36.7 405.8,36.2 404.4,35.7 403.0,35.2 401.6,34.7 400.2,34.2 398.8,33.7 397.4,33.2 396.1,32.7 394.7,32.2 393.3,31.7 391.9,31.2 390.5,30.7 389.1,30.2 387.7,29.8 386.3,29.3 385.0,28.8 383.6,28.4 382.2,27.9 380.8,27.5 379.4,27.0 378.0,26.6 376.6,26.2 375.3,25.7 373.9,25.3 372.5,24.9 371.1,24.5 369.7,24.1 368.3,23.7 366.9,23.3 365.6,23.0 364.2,22.6 362.8,22.3 361.4,21.9 360.0,21.6 358.6,21.2 357.2,20.9 355.8,20.6 354.5,20.3 353.1,20.0 351.7,19.7 350.3,19.5 348.9,19.2 347.5,19.0 346.1,18.8 344.8,18.6 343.4,18.4 342.0,18.2 340.6,18.0 339.2,17.8 337.8,17.6 336.4,17.5 335.0,17.3 333.7,17.2 332.3,17.0 330.9,16.9 329.5,16.6" fill="#2c4a85" fill-opacity="0.2"/>
<polygon points="329.5,16.6 330.9,16.7 332.3,16.8 333.7,16.9 335.0,17.1 336.4,17.2 337.8,17.4 339.2,17.6 340.6,17.7 342.0,17.9 343.4,18.1 344.8,18.3 346.1,18.5 347.5,18.7 348.9,19.0 350.3,19.2 351.7,19.4 353.1,19.7 354.5,19.9 355.8,20.2 357.2,20.5 358.6,20.8 360.0,21.1 361.4,21.4 362.8,21.7 364.2,22.0 365.6,22.4 366.9,22.7 368.3,23.1 369.7,23.4 371.1,23.8 372.5,24.2 373.9,24.5 375.3,24.9 376.6,25.3 378.0,25.7 379.4,26.1 380.8,26.5 382.2,26.9 383.6,27.3 385.0,27.7 386.3,28.1 387.7,28.6 389.1,29.0 390.5,29.5 391.9,29.9 393.3,30.4 394.7,30.8 396.1,31.3 397.4,31.8 398.8,32.2 400.2,32.7 401.6,33.2 403.0,33.6 404.4,34.1 405.8,34.6 407.1,35.0 408.5,35.5 409.9,35.9 411.3,36.4 412.7,36.8 414.1,37.2 415.5,37.6 416.9,38.0 418.2,38.4 419.6,38.8 421.0,39.1 422.4,39.5 423.8,39.8 425.2,40.1 426.6,40.4 427.9,40.7 429.3,41.0 430.7,41.4 432.1,41.7 433.5,42.0 434.9,42.3 436.3,42.6 437.7,42.9 439.0,43.1 440.4,43.4 441.8,43.6 443.2,43.8 444.6,44.0 446.0,44.2 447.4,44.4 448.7,44.6 450.1,44.7 451.5,44.9 452.9,45.1 454.3,45.2 455.7,45.4 457.1,45.6 458.4,45.7 459.8,45.8 461.2,46.0 462.6,46.1 464.0,46.2 465.4,46.3 466.8,46.4 468.2,46.5 469.5,46.6 470.9,46.6 472.3,46.7 473.7,46.7 475.1,46.8 476.5,46.8 477.9,46.9 479.2,46.9 480.6,46.9 482.0,47.0 483.4,47.0 484.8,47.1 486.2,47.1 487.6,47.2 489.0,47.2 490.3,47.2 491.7,47.3 493.1,47.3 494.5,47.4 494.5,50.2 493.1,50.1 491.7,50.1 490.3,50.0 489.0,49.9 487.6,49.9 486.2,49.8 484.8,49.8 483.4,49.7 482.0,49.7 480.6,49.6 479.2,49.6 477.9,49.5 476.5,49.5 475.1,49.4 473.7,49.3 472.3,49.3 470.9,49.2 469.5,49.1 468.2,49.0 466.8,48.9 465.4,48.8 464.0,48.6 462.6,48.5 461.2,48.4 459.8,48.2 458.4,48.1 457.1,47.9 455.7,47.7 454.3,47.5 452.9,47.3 451.5,47.2 450.1,47.0 448.7,46.7 447.4,46.5 446.0,46.3 444.6,46.1 443.2,45.9 441.8,45.6 440.4,45.4 439.0,45.1 437.7,44.8 436.3,44.5 434.9,44.2 433.5,43.8 432.1,43.5 430.7,43.1 429.3,42.8 427.9,42.4 426.6,42.1 425.2,41.8 423.8,41.4 422.4,41.1 421.0,40.7 419.6,40.3 418.2,39.9 416.9,39.5 415.5,39.1 414.1,38.7 412.7,38.2 411.3,37.8 409.9,37.3 408.5,36.8 407.1,36.3 405.8,35.8 404.4,35.4 403.0,34.9 401.6,34.4 400.2,33.9 398.8,33.4 397.4,32.9 396.1,32.4 394.7,31.9 393.3,31.4 391.9,31.0 390.5,30.5 389.1,30.0 387.7,29.5 386.3,29.1 385.0,28.6 383.6,28.2 382.2,27.7 380.8,27.3 379.4,26.8 378.0,26.4 376.6,26.0 375.3,25.6 373.9,25.2 372.5,24.8 371.1,24.4 369.7,24.0 368.3,23.6 366.9,23.2 365.6,22.9 364.2,22.5 362.8,22.1 361.4,21.8 360.0,21.5 358.6,21.2 357.2,20.8 355.8,20.5 354.5,20.2 353.1,19.9 351.7,19.7 350.3,19.4 348.9,19.2 347.5,18.9 346.1,18.7 344.8,18.5 343.4,18.3 342.0,18.1 340.6,17.9 339.2,17.8 337.8,17.6 336.4,17.4 335.0,17.3 333.7,17.1 332.3,17.0 330.9,16.9 329.5,16.6" fill="#2c4a85" fill-opacity="0.2"/>
<polygon points="329.5,16.6 330.9,16.7 332.3,16.9 333.7,17.0 335.0,17.1 336.4,17.3 337.8,17.4 339.2,17.6 340.6,17.8 342.0,18.0 343.4,18.2 344.8,18.4 346.1,18.6 347.5,18.8 348.9,19.0 350.3,19.3 351.7,19.5 353.1,19.7 354.5,20.0 355.8,20.3 357.2,20.6 358.6,20.9 360.0,21.2 361.4,21.5 362.8,21.8 364.2,22.2 365.6,22.5 366.9,22.8 368.3,23.2 369.7,23.6 371.1,23.9 372.5,24.3 373.9,24.7 375.3,25.1 376.6,25.5 378.0,25.9 379.4,26.3 380.8,26.7 382.2,27.1 383.6,27.5 385.0,27.9 386.3,28.4 387.7,28.8 389.1,29.3 390.5,29.7 391.9,30.2 393.3,30.6 394.7,31.1 396.1,31.6 397.4,32.0 398.8,32.5 400.2,33.0 401.6,33.5 403.0,33.9 404.4,34.4 405.8,34.9 407.1,35.3 408.5,35.8 409.9,36.3 411.3,36.7 412.7,37.2 414.1,37.6 415.5,38.0 416.9,38.4 418.2,38.8 419.6,39.2 421.0,39.5 422.4,39.9 423.8,40.2 425.2,40.5 426.6,40.8 427.9,41.2 429.3,41.5 430.7,41.8 432.1,42.1 433.5,42.5 434.9,42.8 436.3,43.1 437.7,43.4 439.0,43.6 440.4,43.9 441.8,44.1 443.2,44.3 444.6,44.5 446.0,44.7 447.4,44.9 448.7,45.1 450.1,45.3 451.5,45.5 452.9,45.6 454.3,45.8 455.7,46.0 457.1,46.2 458.4,46.3 459.8,46.4 461.2,46.6 462.6,46.7 464.0,46.8 465.4,46.9 466.8,47.0 468.2,47.1 469.5,47.2 470.9,47.3 472.3,47.3 473.7,47.4 475.1,47.4 476.5,47.5 477.9,47.5 479.2,47.6 480.6,47.6 482.0,47.7 483.4,47.7 484.8,47.7 486.2,47.8 487.6,47.8 489.0,47.9 490.3,47.9 491.7,48.0 493.1,48.0 494.5,48.1 494.5,49.5 493.1,49.4 491.7,49.4 490.3,49.3 489.0,49.3 487.6,49.2 486.2,49.1 484.8,49.1 483.4,49.0 482.0,49.0 480.6,48.9 479.2,48.9 477.9,48.8 476.5,48.8 475.1,48.7 473.7,48.7 472.3,48.6 470.9,48.5 469.5,48.5 468.2,48.4 466.8,48.3 465.4,48.1 464.0,48.0 462.6,47.9 461.2,47.8 459.8,47.6 458.4,47.5 457.1,47.3 455.7,47.1 454.3,47.0 452.9,46.8 451.5,46.6 450.1,46.4 448.7,46.2 447.4,46.0 446.0,45.8 444.6,45.6 443.2,45.3 441.8,45.1 440.4,44.9 439.0,44.6 437.7,44.3 436.3,44.0 434.9,43.7 433.5,43.4 432.1,43.0 430.7,42.7 429.3,42.3 427.9,42.0 426.6,41.7 425.2,41.3 423.8,41.0 422.4,40.7 421.0,40.3 419.6,39.9 418.2,39.6 416.9,39.2 415.5,38.7 414.1,38.3 412.7,37.9 411.3,37.4 409.9,36.9 408.5,36.5 407.1,36.0 405.8,35.5 404.4,35.0 403.0,34.6 401.6,34.1 400.2,33.6 398.8,33.1 397.4,32.6 396.1,32.1 394.7,31.7 393.3,31.2 391.9,30.7 390.5,30.2 389.1,29.8 387.7,29.3 386.3,28.8 385.0,28.4 383.6,27.9 382.2,27.5 380.8,27.1 379.4,26.6 378.0,26.2 376.6,25.8 375.3,25.4 373.9,25.0 372.5,24.6 371.1,24.2 369.7,23.8 368.3,23.5 366.9,23.1 365.6,22.7 364.2,22.4 362.8,22.0 361.4,21.7 360.0,21.4 358.6,21.1 357.2,20.8 355.8,20.4 354.5,20.2 353.1,19.9 351.7,19.6 350.3,19.4 348.9,19.1 347.5,18.9 346.1,18.7 344.8,18.5 343.4,18.3 342.0,18.1 340.6,17.9 339.2,17.7 337.8,17.5 336.4,17.4 335.0,17.2 333.7,17.1 332.3,16.9 330.9,16.8 329.5,16.6" fill="#2c4a85" fill-opacity="0.2"/>
<polyline points="329.50,16.65 330.89,16.77 332.27,16.90 333.66,17.04 335.05,17.18 336.43,17.34 337.82,17.50 339.21,17.66 340.59,17.84 341.98,18.02 343.37,18.21 344.75,18.41 346.14,18.62 347.53,18.84 348.91,19.07 350.30,19.31 351.68,19.56 353.07,19.81 354.46,20.09 355.84,20.37 357.23,20.67 358.62,20.98 360.00,21.29 361.39,21.61 362.78,21.94 364.16,22.27 365.55,22.62 366.94,22.97 368.32,23.33 369.71,23.71 371.10,24.08 372.48,24.46 373.87,24.85 375.26,25.24 376.64,25.64 378.03,26.04 379.42,26.45 380.80,26.87 382.19,27.29 383.58,27.72 384.96,28.15 386.35,28.60 387.74,29.05 389.12,29.51 390.51,29.97 391.89,30.44 393.28,30.91 394.67,31.38 396.05,31.85 397.44,32.33 398.83,32.81 400.21,33.29 401.60,33.77 402.99,34.26 404.37,34.73 405.76,35.20 407.15,35.66 408.53,36.13 409.92,36.59 411.31,37.05 412.69,37.51 414.08,37.95 415.47,38.38 416.85,38.79 418.24,39.18 419.63,39.55 421.01,39.91 422.40,40.26 423.79,40.60 425.17,40.93 426.56,41.26 427.95,41.58 429.33,41.91 430.72,42.25 432.11,42.58 433.49,42.91 434.88,43.23 436.26,43.54 437.65,43.84 439.04,44.11 440.42,44.36 441.81,44.60 443.20,44.83 444.58,45.05 445.97,45.26 447.36,45.46 448.74,45.65 450.13,45.84 451.52,46.03 452.90,46.21 454.29,46.39 455.68,46.57 457.06,46.74 458.45,46.89 459.84,47.04 461.22,47.17 462.61,47.30 464.00,47.41 465.38,47.53 466.77,47.63 468.16,47.73 469.54,47.82 470.93,47.90 472.32,47.97 473.70,48.04 475.09,48.09 476.47,48.14 477.86,48.19 479.25,48.23 480.63,48.28 482.02,48.32 483.41,48.37 484.79,48.42 486.18,48.47 487.57,48.52 488.95,48.57 490.34,48.62 491.73,48.67 493.11,48.72 494.50,48.77" fill="none" stroke="#1f3d78" stroke-width="1.3"/>
<polygon points="329.5,16.6 330.9,18.5 332.3,21.0 333.7,23.6 335.0,26.1 336.4,28.6 337.8,31.0 339.2,33.5 340.6,35.9 342.0,38.3 343.4,40.9 344.8,43.4 346.1,45.9 347.5,48.4 348.9,50.8 350.3,53.1 351.7,55.2 353.1,57.2 354.5,59.2 355.8,61.0 357.2,62.9 358.6,64.6 360.0,66.2 361.4,67.8 362.8,69.3 364.2,70.7 365.6,72.1 366.9,73.4 368.3,74.7 369.7,75.9 371.1,77.2 372.5,78.4 373.9,79.6 375.3,80.8 376.6,82.0 378.0,83.1 379.4,84.3 380.8,85.4 382.2,86.4 383.6,87.5 385.0,88.5 386.3,89.6 387.7,90.6 389.1,91.7 390.5,92.8 391.9,93.9 393.3,95.0 394.7,96.0 396.1,97.0 397.4,97.9 398.8,98.8 400.2,99.7 401.6,100.6 403.0,101.4 404.4,102.3 405.8,103.1 407.1,103.9 408.5,104.6 409.9,105.4 411.3,106.2 412.7,107.0 414.1,107.7 415.5,108.5 416.9,109.2 418.2,109.9 419.6,110.5 421.0,111.2 422.4,111.8 423.8,112.4 425.2,113.0 426.6,113.5 427.9,114.0 429.3,114.4 430.7,114.9 432.1,115.3 433.5,115.7 434.9,116.0 436.3,116.4 437.7,116.7 439.0,116.9 440.4,117.1 441.8,117.3 443.2,117.5 444.6,117.6 446.0,117.7 447.4,117.8 448.7,117.9 450.1,118.0 451.5,118.1 452.9,118.1 454.3,118.2 455.7,118.2 457.1,118.3 458.4,118.3 459.8,118.3 461.2,118.3 462.6,118.4 464.0,118.3 465.4,118.3 466.8,118.3 468.2,118.2 469.5,118.1 470.9,118.0 472.3,117.9 473.7,117.7 475.1,117.6 476.5,117.4 477.9,117.2 479.2,117.0 480.6,116.7 482.0,116.5 483.4,116.2 484.8,116.0 486.2,115.7 487.6,115.4 489.0,115.1 490.3,114.7 491.7,114.4 493.1,114.1 494.5,113.7 494.5,141.8 493.1,141.4 491.7,141.0 490.3,140.6 489.0,140.2 487.6,139.8 486.2,139.4 484.8,139.1 483.4,138.7 482.0,138.4 480.6,138.1 479.2,137.7 477.9,137.4 476.5,137.1 475.1,136.8 473.7,136.6 472.3,136.3 470.9,136.1 469.5,135.8 468.2,135.6 466.8,135.4 465.4,135.2 464.0,135.1 462.6,134.9 461.2,134.8 459.8,134.6 458.4,134.5 457.1,134.4 455.7,134.3 454.3,134.2 452.9,134.0 451.5,133.9 450.1,133.8 448.7,133.6 447.4,133.5 446.0,133.4 444.6,133.3 443.2,133.1 441.8,133.0 440.4,132.9 439.0,132.7 437.7,132.5 436.3,132.3 434.9,132.1 433.5,131.8 432.1,131.5 430.7,131.2 429.3,130.8 427.9,130.5 426.6,130.1 425.2,129.7 423.8,129.3 422.4,128.9 421.0,128.4 419.6,128.0 418.2,127.5 416.9,127.0 415.5,126.4 414.1,125.8 412.7,125.1 411.3,124.4 409.9,123.7 408.5,122.9 407.1,122.1 405.8,121.3 404.4,120.4 403.0,119.6 401.6,118.6 400.2,117.7 398.8,116.7 397.4,115.7 396.1,114.7 394.7,113.6 393.3,112.5 391.9,111.3 390.5,110.1 389.1,108.9 387.7,107.6 386.3,106.2 385.0,104.9 383.6,103.5 382.2,102.1 380.8,100.7 379.4,99.2 378.0,97.8 376.6,96.3 375.3,94.8 373.9,93.3 372.5,91.7 371.1,90.1 369.7,88.5 368.3,86.8 366.9,85.0 365.6,83.2 364.2,81.3 362.8,79.4 361.4,77.3 360.0,75.2 358.6,72.9 357.2,70.7 355.8,68.3 354.5,65.9 353.1,63.5 351.7,61.0 350.3,58.3 348.9,55.5 347.5,52.7 346.1,49.7 344.8,46.7 343.4,43.7 342.0,40.8 340.6,38.0 339.2,35.2 337.8,32.5 336.4,29.8 335.0,27.3 333.7,24.7 332.3,22.2 330.9,19.7 329.5,16.6" fill="#ae2222" fill-opacity="0.2"/>
<polygon points="329.5,16.6 330.9,18.6 332.3,21.1 333.7,23.6 335.0,26.1 336.4,28.7 337.8,31.1 339.2,33.5 340.6,36.0 342.0,38.4 343.4,41.0 344.8,43.6 346.1,46.1 347.5,48.6 348.9,51.0 350.3,53.3 351.7,55.4 353.1,57.5 354.5,59.4 355.8,61.3 357.2,63.2 358.6,64.9 360.0,66.6 361.4,68.2 362.8,69.7 364.2,71.1 365.6,72.5 366.9,73.9 368.3,75.2 369.7,76.5 371.1,77.7 372.5,79.0 373.9,80.2 375.3,81.4 376.6,82.6 378.0,83.8 379.4,84.9 380.8,86.0 382.2,87.1 383.6,88.1 385.0,89.2 386.3,90.3 387.7,91.4 389.1,92.5 390.5,93.6 391.9,94.7 393.3,95.7 394.7,96.7 396.1,97.7 397.4,98.6 398.8,99.6 400.2,100.5 401.6,101.3 403.0,102.2 404.4,103.0 405.8,103.8 407.1,104.6 408.5,105.4 409.9,106.2 411.3,106.9 412.7,107.7 414.1,108.5 415.5,109.2 416.9,109.9 418.2,110.6 419.6,111.3 421.0,111.9 422.4,112.5 423.8,113.1 425.2,113.7 426.6,114.2 427.9,114.7 429.3,115.1 430.7,115.5 432.1,115.9 433.5,116.3 434.9,116.7 436.3,117.0 437.7,117.3 439.0,117.6 440.4,117.8 441.8,118.0 443.2,118.1 444.6,118.3 446.0,118.4 447.4,118.5 448.7,118.6 450.1,118.7 451.5,118.7 452.9,118.8 454.3,118.9 455.7,118.9 457.1,118.9 458.4,119.0 459.8,119.0 461.2,119.0 462.6,119.0 464.0,119.0 465.4,119.0 466.8,119.0 468.2,118.9 469.5,118.8 470.9,118.8 472.3,118.6 473.7,118.5 475.1,118.4 476.5,118.2 477.9,118.0 479.2,117.8 480.6,117.6 482.0,117.4 483.4,117.2 484.8,116.9 486.2,116.7 487.6,116.4 489.0,116.1 490.3,115.8 491.7,115.5 493.1,115.2 494.5,114.9 494.5,140.6 493.1,140.2 491.7,139.9 490.3,139.5 489.0,139.1 487.6,138.8 486.2,138.5 484.8,138.1 483.4,137.8 482.0,137.5 480.6,137.2 479.2,136.9 477.9,136.6 476.5,136.3 475.1,136.0 473.7,135.8 472.3,135.5 470.9,135.3 469.5,135.1 468.2,134.9 466.8,134.7 465.4,134.5 464.0,134.4 462.6,134.2 461.2,134.1 459.8,134.0 458.4,133.8 457.1,133.7 455.7,133.6 454.3,133.5 452.9,133.4 451.5,133.2 450.1,133.1 448.7,133.0 447.4,132.9 446.0,132.7 444.6,132.6 443.2,132.5 441.8,132.4 440.4,132.2 439.0,132.1 437.7,131.9 436.3,131.6 434.9,131.4 433.5,131.1 432.1,130.8 430.7,130.5 429.3,130.1 427.9,129.8 426.6,129.4 425.2,129.0 423.8,128.6 422.4,128.2 421.0,127.7 419.6,127.2 418.2,126.7 416.9,126.2 415.5,125.7 414.1,125.0 412.7,124.4 411.3,123.7 409.9,122.9 408.5,122.1 407.1,121.3 405.8,120.5 404.4,119.7 403.0,118.8 401.6,117.9 400.2,117.0 398.8,116.0 397.4,115.0 396.1,114.0 394.7,112.9 393.3,111.8 391.9,110.6 390.5,109.4 389.1,108.2 387.7,106.9 386.3,105.5 385.0,104.2 383.6,102.8 382.2,101.4 380.8,100.0 379.4,98.6 378.0,97.2 376.6,95.7 375.3,94.3 373.9,92.7 372.5,91.2 371.1,89.6 369.7,88.0 368.3,86.3 366.9,84.6 365.6,82.8 364.2,80.9 362.8,78.9 361.4,76.9 360.0,74.8 358.6,72.6 357.2,70.3 355.8,68.0 354.5,65.7 353.1,63.2 351.7,60.7 350.3,58.1 348.9,55.3 347.5,52.5 346.1,49.5 344.8,46.6 343.4,43.6 342.0,40.7 340.6,37.9 339.2,35.2 337.8,32.4 336.4,29.8 335.0,27.2 333.7,24.7 332.3,22.2 330.9,19.7 329.5,16.6" fill="#ae2222" fill-opacity="0.2"/>
<polygon points="329.5,16.6 330.9,18.6 332.3,21.1 333.7,23.7 335.0,26.2 336.4,28.7 337.8,31.2 339.2,33.6 340.6,36.0 342.0,38.5 343.4,41.1 344.8,43.7 346.1,46.3 347.5,48.8 348.9,51.2 350.3,53.5 351.7,55.7 353.1,57.7 354.5,59.7 355.8,61.7 357.2,63.5 358.6,65.3 360.0,67.0 361.4,68.6 362.8,70.1 364.2,71.6 365.6,73.0 366.9,74.4 368.3,75.7 369.7,77.0 371.1,78.3 372.5,79.5 373.9,80.8 375.3,82.0 376.6,83.2 378.0,84.4 379.4,85.5 380.8,86.6 382.2,87.7 383.6,88.8 385.0,89.9 386.3,91.0 387.7,92.1 389.1,93.2 390.5,94.3 391.9,95.4 393.3,96.4 394.7,97.5 396.1,98.4 397.4,99.4 398.8,100.3 400.2,101.2 401.6,102.1 403.0,102.9 404.4,103.8 405.8,104.6 407.1,105.4 408.5,106.2 409.9,106.9 411.3,107.7 412.7,108.5 414.1,109.2 415.5,109.9 416.9,110.6 418.2,111.3 419.6,112.0 421.0,112.6 422.4,113.2 423.8,113.8 425.2,114.4 426.6,114.9 427.9,115.4 429.3,115.8 430.7,116.2 432.1,116.6 433.5,117.0 434.9,117.4 436.3,117.7 437.7,118.0 439.0,118.2 440.4,118.4 441.8,118.6 443.2,118.8 444.6,118.9 446.0,119.0 447.4,119.1 448.7,119.2 450.1,119.3 451.5,119.4 452.9,119.5 454.3,119.5 455.7,119.6 457.1,119.6 458.4,119.7 459.8,119.7 461.2,119.7 462.6,119.7 464.0,119.7 465.4,119.7 466.8,119.7 468.2,119.7 469.5,119.6 470.9,119.5 472.3,119.4 473.7,119.3 475.1,119.2 476.5,119.0 477.9,118.9 479.2,118.7 480.6,118.5 482.0,118.3 483.4,118.1 484.8,117.9 486.2,117.7 487.6,117.4 489.0,117.2 490.3,116.9 491.7,116.6 493.1,116.3 494.5,116.1 494.5,139.4 493.1,139.1 491.7,138.8 490.3,138.4 489.0,138.1 487.6,137.8 486.2,137.5 484.8,137.2 483.4,136.9 482.0,136.6 480.6,136.3 479.2,136.0 477.9,135.7 476.5,135.5 475.1,135.2 473.7,135.0 472.3,134.8 470.9,134.6 469.5,134.3 468.2,134.2 466.8,134.0 465.4,133.8 464.0,133.7 462.6,133.5 461.2,133.4 459.8,133.3 458.4,133.2 457.1,133.1 455.7,132.9 454.3,132.8 452.9,132.7 451.5,132.6 450.1,132.5 448.7,132.3 447.4,132.2 446.0,132.1 444.6,132.0 443.2,131.8 441.8,131.7 440.4,131.6 439.0,131.4 437.7,131.2 436.3,131.0 434.9,130.7 433.5,130.4 432.1,130.1 430.7,129.8 429.3,129.5 427.9,129.1 426.6,128.7 425.2,128.3 423.8,127.9 422.4,127.5 421.0,127.0 419.6,126.5 418.2,126.0 416.9,125.5 415.5,124.9 414.1,124.3 412.7,123.6 411.3,122.9 409.9,122.2 408.5,121.4 407.1,120.6 405.8,119.8 404.4,118.9 403.0,118.0 401.6,117.1 400.2,116.2 398.8,115.2 397.4,114.2 396.1,113.2 394.7,112.2 393.3,111.0 391.9,109.9 390.5,108.7 389.1,107.4 387.7,106.2 386.3,104.8 385.0,103.5 383.6,102.1 382.2,100.8 380.8,99.4 379.4,98.0 378.0,96.6 376.6,95.1 375.3,93.7 373.9,92.2 372.5,90.6 371.1,89.0 369.7,87.4 368.3,85.8 366.9,84.1 365.6,82.3 364.2,80.4 362.8,78.5 361.4,76.5 360.0,74.4 358.6,72.2 357.2,70.0 355.8,67.7 354.5,65.4 353.1,63.0 351.7,60.5 350.3,57.9 348.9,55.1 347.5,52.3 346.1,49.4 344.8,46.4 343.4,43.5 342.0,40.6 340.6,37.8 339.2,35.1 337.8,32.4 336.4,29.7 335.0,27.2 333.7,24.6 332.3,22.1 330.9,19.6 329.5,16.6" fill="#ae2222" fill-opacity="0.2"/>
<polygon points="329.5,16.6 330.9,18.7 332.3,21.2 333.7,23.7 335.0,26.2 336.4,28.8 337.8,31.2 339.2,33.7 340.6,36.1 342.0,38.7 343.4,41.2 344.8,43.8 346.1,46.4 347.5,49.0 348.9,51.4 350.3,53.7 351.7,55.9 353.1,58.0 354.5,60.0 355.8,62.0 357.2,63.8 358.6,65.6 360.0,67.3 361.4,69.0 362.8,70.5 364.2,72.0 365.6,73.4 366.9,74.8 368.3,76.2 369.7,77.5 371.1,78.8 372.5,80.1 373.9,81.4 375.3,82.6 376.6,83.8 378.0,85.0 379.4,86.1 380.8,87.3 382.2,88.4 383.6,89.5 385.0,90.6 386.3,91.7 387.7,92.8 389.1,93.9 390.5,95.0 391.9,96.1 393.3,97.2 394.7,98.2 396.1,99.2 397.4,100.1 398.8,101.1 400.2,102.0 401.6,102.8 403.0,103.7 404.4,104.5 405.8,105.3 407.1,106.1 408.5,106.9 409.9,107.7 411.3,108.5 412.7,109.2 414.1,110.0 415.5,110.7 416.9,111.4 418.2,112.1 419.6,112.7 421.0,113.3 422.4,113.9 423.8,114.5 425.2,115.1 426.6,115.6 427.9,116.1 429.3,116.5 430.7,116.9 432.1,117.3 433.5,117.7 434.9,118.0 436.3,118.3 437.7,118.6 439.0,118.9 440.4,119.1 441.8,119.3 443.2,119.4 444.6,119.6 446.0,119.7 447.4,119.8 448.7,119.9 450.1,120.0 451.5,120.1 452.9,120.1 454.3,120.2 455.7,120.2 457.1,120.3 458.4,120.3 459.8,120.4 461.2,120.4 462.6,120.4 464.0,120.4 465.4,120.4 466.8,120.4 468.2,120.4 469.5,120.3 470.9,120.3 472.3,120.2 473.7,120.1 475.1,120.0 476.5,119.8 477.9,119.7 479.2,119.6 480.6,119.4 482.0,119.2 483.4,119.1 484.8,118.9 486.2,118.6 487.6,118.4 489.0,118.2 490.3,118.0 491.7,117.7 493.1,117.5 494.5,117.2 494.5,138.3 493.1,138.0 491.7,137.7 490.3,137.4 489.0,137.1 487.6,136.8 486.2,136.5 484.8,136.2 483.4,135.9 482.0,135.7 480.6,135.4 479.2,135.1 477.9,134.9 476.5,134.7 475.1,134.4 473.7,134.2 472.3,134.0 470.9,133.8 469.5,133.6 468.2,133.4 466.8,133.3 465.4,133.1 464.0,133.0 462.6,132.8 461.2,132.7 459.8,132.6 458.4,132.5 457.1,132.4 455.7,132.3 454.3,132.2 452.9,132.0 451.5,131.9 450.1,131.8 448.7,131.7 447.4,131.6 446.0,131.4 444.6,131.3 443.2,131.2 441.8,131.1 440.4,130.9 439.0,130.7 437.7,130.5 436.3,130.3 434.9,130.1 433.5,129.8 432.1,129.4 430.7,129.1 429.3,128.8 427.9,128.4 426.6,128.0 425.2,127.6 423.8,127.2 422.4,126.8 421.0,126.3 419.6,125.8 418.2,125.3 416.9,124.7 415.5,124.2 414.1,123.5 412.7,122.9 411.3,122.2 409.9,121.4 408.5,120.6 407.1,119.8 405.8,119.0 404.4,118.2 403.0,117.3 401.6,116.4 400.2,115.5 398.8,114.5 397.4,113.5 396.1,112.5 394.7,111.4 393.3,110.3 391.9,109.2 390.5,108.0 389.1,106.7 387.7,105.5 386.3,104.2 385.0,102.8 383.6,101.5 382.2,100.1 380.8,98.8 379.4,97.4 378.0,96.0 376.6,94.5 375.3,93.1 373.9,91.6 372.5,90.1 371.1,88.5 369.7,86.9 368.3,85.3 366.9,83.6 365.6,81.8 364.2,80.0 362.8,78.1 361.4,76.1 360.0,74.0 358.6,71.9 357.2,69.7 355.8,67.4 354.5,65.1 353.1,62.7 351.7,60.2 350.3,57.7 348.9,55.0 347.5,52.1 346.1,49.2 344.8,46.3 343.4,43.4 342.0,40.5 340.6,37.7 339.2,35.0 337.8,32.3 336.4,29.7 335.0,27.1 333.7,24.6 332.3,22.1 330.9,19.6 329.5,16.6" fill="#ae2222" fill-opacity="0.2"/>
<polygon points="329.5,16.6 330.9,18.7 332.3,21.2 333.7,23.8 335.0,26.3 336.4,28.8 337.8,31.3 339.2,33.7 340.6,36.2 342.0,38.8 343.4,41.3 344.8,44.0 346.1,46.6 347.5,49.1 348.9,51.6 350.3,54.0 351.7,56.2 353.1,58.3 354.5,60.3 355.8,62.3 357.2,64.2 358.6,66.0 360.0,67.7 361.4,69.4 362.8,70.9 364.2,72.5 365.6,73.9 366.9,75.3 368.3,76.7 369.7,78.0 371.1,79.4 372.5,80.6 373.9,81.9 375.3,83.2 376.6,84.4 378.0,85.6 379.4,86.8 380.8,87.9 382.2,89.0 383.6,90.1 385.0,91.2 386.3,92.4 387.7,93.5 389.1,94.6 390.5,95.7 391.9,96.8 393.3,97.9 394.7,98.9 396.1,99.9 397.4,100.9 398.8,101.8 400.2,102.7 401.6,103.6 403.0,104.4 404.4,105.3 405.8,106.1 407.1,106.9 408.5,107.7 409.9,108.5 411.3,109.2 412.7,110.0 414.1,110.7 415.5,111.4 416.9,112.1 418.2,112.8 419.6,113.4 421.0,114.1 422.4,114.7 423.8,115.2 425.2,115.8 426.6,116.3 427.9,116.7 429.3,117.2 430.7,117.6 432.1,118.0 433.5,118.3 434.9,118.7 436.3,119.0 437.7,119.3 439.0,119.5 440.4,119.7 441.8,119.9 443.2,120.1 444.6,120.2 446.0,120.3 447.4,120.5 448.7,120.6 450.1,120.6 451.5,120.7 452.9,120.8 454.3,120.9 455.7,120.9 457.1,121.0 458.4,121.0 459.8,121.0 461.2,121.1 462.6,121.1 464.0,121.1 465.4,121.1 466.8,121.1 468.2,121.1 469.5,121.1 470.9,121.0 472.3,120.9 473.7,120.9 475.1,120.8 476.5,120.7 477.9,120.6 479.2,120.4 480.6,120.3 482.0,120.1 483.4,120.0 484.8,119.8 486.2,119.6 487.6,119.5 489.0,119.3 490.3,119.1 491.7,118.8 493.1,118.6 494.5,118.4 494.5,137.1 493.1,136.8 491.7,136.5 490.3,136.3 489.0,136.0 487.6,135.7 486.2,135.5 484.8,135.2 483.4,135.0 482.0,134.7 480.6,134.5 479.2,134.3 477.9,134.0 476.5,133.8 475.1,133.6 473.7,133.4 472.3,133.2 470.9,133.0 469.5,132.9 468.2,132.7 466.8,132.6 465.4,132.4 464.0,132.3 462.6,132.1 461.2,132.0 459.8,131.9 458.4,131.8 457.1,131.7 455.7,131.6 454.3,131.5 452.9,131.4 451.5,131.3 450.1,131.1 448.7,131.0 447.4,130.9 446.0,130.8 444.6,130.7 443.2,130.5 441.8,130.4 440.4,130.2 439.0,130.1 437.7,129.9 436.3,129.6 434.9,129.4 433.5,129.1 432.1,128.8 430.7,128.4 429.3,128.1 427.9,127.7 426.6,127.3 425.2,126.9 423.8,126.5 422.4,126.0 421.0,125.6 419.6,125.1 418.2,124.5 416.9,124.0 415.5,123.4 414.1,122.8 412.7,122.1 411.3,121.4 409.9,120.6 408.5,119.9 407.1,119.1 405.8,118.2 404.4,117.4 403.0,116.5 401.6,115.6 400.2,114.7 398.8,113.7 397.4,112.8 396.1,111.7 394.7,110.7 393.3,109.6 391.9,108.4 390.5,107.2 389.1,106.0 387.7,104.8 386.3,103.5 385.0,102.1 383.6,100.8 382.2,99.5 380.8,98.1 379.4,96.8 378.0,95.4 376.6,94.0 375.3,92.5 373.9,91.0 372.5,89.5 371.1,88.0 369.7,86.4 368.3,84.8 366.9,83.1 365.6,81.4 364.2,79.6 362.8,77.7 361.4,75.7 360.0,73.7 358.6,71.5 357.2,69.4 355.8,67.1 354.5,64.8 353.1,62.4 351.7,60.0 350.3,57.5 348.9,54.8 347.5,51.9 346.1,49.1 344.8,46.2 343.4,43.3 342.0,40.4 340.6,37.6 339.2,34.9 337.8,32.3 336.4,29.6 335.0,27.1 333.7,24.5 332.3,22.0 330.9,19.5 329.5,16.6" fill="#ae2222" fill-opacity="0.2"/>
<polygon points="329.5,16.6 330.9,18.8 332.3,21.3 333.7,23.8 335.0,26.3 336.4,28.9 337.8,31.3 339.2,33.8 340.6,36.3 342.0,38.9 343.4,41.5 344.8,44.1 346.1,46.7 347.5,49.3 348.9,51.8 350.3,54.2 351.7,56.4 353.1,58.5 354.5,60.6 355.8,62.6 357.2,64.5 358.6,66.3 360.0,68.1 361.4,69.8 362.8,71.4 364.2,72.9 365.6,74.4 366.9,75.8 368.3,77.2 369.7,78.6 371.1,79.9 372.5,81.2 373.9,82.5 375.3,83.8 376.6,85.0 378.0,86.2 379.4,87.4 380.8,88.5 382.2,89.7 383.6,90.8 385.0,91.9 386.3,93.0 387.7,94.2 389.1,95.3 390.5,96.4 391.9,97.6 393.3,98.6 394.7,99.7 396.1,100.7 397.4,101.6 398.8,102.5 400.2,103.5 401.6,104.3 403.0,105.2 404.4,106.0 405.8,106.9 407.1,107.7 408.5,108.4 409.9,109.2 411.3,110.0 412.7,110.7 414.1,111.5 415.5,112.2 416.9,112.9 418.2,113.5 419.6,114.2 421.0,114.8 422.4,115.4 423.8,115.9 425.2,116.5 426.6,117.0 427.9,117.4 429.3,117.8 430.7,118.2 432.1,118.6 433.5,119.0 434.9,119.4 436.3,119.7 437.7,120.0 439.0,120.2 440.4,120.4 441.8,120.6 443.2,120.7 444.6,120.9 446.0,121.0 447.4,121.1 448.7,121.2 450.1,121.3 451.5,121.4 452.9,121.5 454.3,121.5 455.7,121.6 457.1,121.6 458.4,121.7 459.8,121.7 461.2,121.8 462.6,121.8 464.0,121.8 465.4,121.8 466.8,121.8 468.2,121.8 469.5,121.8 470.9,121.8 472.3,121.7 473.7,121.7 475.1,121.6 476.5,121.5 477.9,121.4 479.2,121.3 480.6,121.2 482.0,121.1 483.4,120.9 484.8,120.8 486.2,120.6 487.6,120.5 489.0,120.3 490.3,120.1 491.7,119.9 493.1,119.8 494.5,119.6 494.5,135.9 493.1,135.7 491.7,135.4 490.3,135.2 489.0,135.0 487.6,134.7 486.2,134.5 484.8,134.3 483.4,134.0 482.0,133.8 480.6,133.6 479.2,133.4 477.9,133.2 476.5,133.0 475.1,132.8 473.7,132.6 472.3,132.5 470.9,132.3 469.5,132.1 468.2,132.0 466.8,131.8 465.4,131.7 464.0,131.6 462.6,131.5 461.2,131.3 459.8,131.2 458.4,131.1 457.1,131.0 455.7,130.9 454.3,130.8 452.9,130.7 451.5,130.6 450.1,130.5 448.7,130.4 447.4,130.3 446.0,130.1 444.6,130.0 443.2,129.9 441.8,129.7 440.4,129.6 439.0,129.4 437.7,129.2 436.3,129.0 434.9,128.7 433.5,128.4 432.1,128.1 430.7,127.8 429.3,127.4 427.9,127.0 426.6,126.7 425.2,126.2 423.8,125.8 422.4,125.3 421.0,124.8 419.6,124.3 418.2,123.8 416.9,123.3 415.5,122.7 414.1,122.0 412.7,121.3 411.3,120.6 409.9,119.9 408.5,119.1 407.1,118.3 405.8,117.5 404.4,116.6 403.0,115.8 401.6,114.9 400.2,114.0 398.8,113.0 397.4,112.0 396.1,111.0 394.7,109.9 393.3,108.8 391.9,107.7 390.5,106.5 389.1,105.3 387.7,104.0 386.3,102.8 385.0,101.5 383.6,100.1 382.2,98.8 380.8,97.5 379.4,96.1 378.0,94.8 376.6,93.4 375.3,91.9 373.9,90.5 372.5,89.0 371.1,87.4 369.7,85.9 368.3,84.3 366.9,82.6 365.6,80.9 364.2,79.1 362.8,77.2 361.4,75.3 360.0,73.3 358.6,71.2 357.2,69.0 355.8,66.8 354.5,64.5 353.1,62.2 351.7,59.8 350.3,57.2 348.9,54.6 347.5,51.8 346.1,48.9 344.8,46.0 343.4,43.1 342.0,40.3 340.6,37.5 339.2,34.9 337.8,32.2 336.4,29.6 335.0,27.0 333.7,24.5 332.3,22.0 330.9,19.5 329.5,16.6" fill="#ae2222" fill-opacity="0.2"/>
<polygon points="329.5,16.6 330.9,18.8 332.3,21.3 333.7,23.9 335.0,26.4 336.4,28.9 337.8,31.4 339.2,33.9 340.6,36.4 342.0,39.0 343.4,41.6 344.8,44.2 346.1,46.9 347.5,49.5 348.9,52.0 350.3,54.4 351.7,56.6 353.1,58.8 354.5,60.9 355.8,62.9 357.2,64.8 358.6,66.7 360.0,68.5 361.4,70.2 362.8,71.8 364.2,73.3 365.6,74.8 366.9,76.3 368.3,77.7 369.7,79.1 371.1,80.4 372.5,81.8 373.9,83.1 375.3,84.3 376.6,85.6 378.0,86.8 379.4,88.0 380.8,89.2 382.2,90.3 383.6,91.5 385.0,92.6 386.3,93.7 387.7,94.9 389.1,96.0 390.5,97.2 391.9,98.3 393.3,99.4 394.7,100.4 396.1,101.4 397.4,102.4 398.8,103.3 400.2,104.2 401.6,105.1 403.0,106.0 404.4,106.8 405.8,107.6 407.1,108.4 408.5,109.2 409.9,110.0 411.3,110.7 412.7,111.5 414.1,112.2 415.5,112.9 416.9,113.6 418.2,114.3 419.6,114.9 421.0,115.5 422.4,116.1 423.8,116.6 425.2,117.2 426.6,117.7 427.9,118.1 429.3,118.5 430.7,118.9 432.1,119.3 433.5,119.7 434.9,120.0 436.3,120.3 437.7,120.6 439.0,120.9 440.4,121.1 441.8,121.2 443.2,121.4 444.6,121.5 446.0,121.6 447.4,121.8 448.7,121.9 450.1,122.0 451.5,122.0 452.9,122.1 454.3,122.2 455.7,122.2 457.1,122.3 458.4,122.4 459.8,122.4 461.2,122.5 462.6,122.5 464.0,122.5 465.4,122.5 466.8,122.6 468.2,122.6 469.5,122.5 470.9,122.5 472.3,122.5 473.7,122.4 475.1,122.4 476.5,122.3 477.9,122.2 479.2,122.2 480.6,122.1 482.0,122.0 483.4,121.9 484.8,121.7 486.2,121.6 487.6,121.5 489.0,121.4 490.3,121.2 491.7,121.1 493.1,120.9 494.5,120.7 494.5,134.8 493.1,134.5 491.7,134.3 490.3,134.1 489.0,133.9 487.6,133.7 486.2,133.5 484.8,133.3 483.4,133.1 482.0,132.9 480.6,132.7 479.2,132.5 477.9,132.4 476.5,132.2 475.1,132.0 473.7,131.9 472.3,131.7 470.9,131.5 469.5,131.4 468.2,131.3 466.8,131.1 465.4,131.0 464.0,130.9 462.6,130.8 461.2,130.7 459.8,130.6 458.4,130.5 457.1,130.4 455.7,130.3 454.3,130.2 452.9,130.1 451.5,129.9 450.1,129.8 448.7,129.7 447.4,129.6 446.0,129.5 444.6,129.4 443.2,129.2 441.8,129.1 440.4,128.9 439.0,128.8 437.7,128.6 436.3,128.3 434.9,128.0 433.5,127.7 432.1,127.4 430.7,127.1 429.3,126.7 427.9,126.4 426.6,126.0 425.2,125.5 423.8,125.1 422.4,124.6 421.0,124.1 419.6,123.6 418.2,123.1 416.9,122.5 415.5,121.9 414.1,121.3 412.7,120.6 411.3,119.9 409.9,119.1 408.5,118.3 407.1,117.5 405.8,116.7 404.4,115.9 403.0,115.0 401.6,114.1 400.2,113.2 398.8,112.3 397.4,111.3 396.1,110.3 394.7,109.2 393.3,108.1 391.9,107.0 390.5,105.8 389.1,104.6 387.7,103.3 386.3,102.1 385.0,100.8 383.6,99.5 382.2,98.2 380.8,96.8 379.4,95.5 378.0,94.1 376.6,92.8 375.3,91.3 373.9,89.9 372.5,88.4 371.1,86.9 369.7,85.3 368.3,83.8 366.9,82.1 365.6,80.4 364.2,78.7 362.8,76.8 361.4,74.9 360.0,72.9 358.6,70.8 357.2,68.7 355.8,66.5 354.5,64.2 353.1,61.9 351.7,59.5 350.3,57.0 348.9,54.4 347.5,51.6 346.1,48.8 344.8,45.9 343.4,43.0 342.0,40.2 340.6,37.5 339.2,34.8 337.8,32.1 336.4,29.5 335.0,27.0 333.7,24.4 332.3,21.9 330.9,19.4 329.5,16.6" fill="#ae2222" fill-opacity="0.2"/>
<polygon points="329.5,16.6 330.9,18.9 332.3,21.4 333.7,23.9 335.0,26.4 336.4,29.0 337.8,31.5 339.2,34.0 340.6,36.5 342.0,39.1 343.4,41.7 344.8,44.4 346.1,47.0 347.5,49.7 348.9,52.2 350.3,54.6 351.7,56.9 353.1,59.0 354.5,61.1 355.8,63.2 357.2,65.1 358.6,67.0 360.0,68.8 361.4,70.6 362.8,72.2 364.2,73.8 365.6,75.3 366.9,76.8 368.3,78.2 369.7,79.6 371.1,81.0 372.5,82.3 373.9,83.6 375.3,84.9 376.6,86.2 378.0,87.4 379.4,88.6 380.8,89.8 382.2,91.0 383.6,92.1 385.0,93.3 386.3,94.4 387.7,95.6 389.1,96.7 390.5,97.9 391.9,99.0 393.3,100.1 394.7,101.1 396.1,102.1 397.4,103.1 398.8,104.0 400.2,105.0 401.6,105.8 403.0,106.7 404.4,107.6 405.8,108.4 407.1,109.2 408.5,110.0 409.9,110.7 411.3,111.5 412.7,112.3 414.1,113.0 415.5,113.7 416.9,114.4 418.2,115.0 419.6,115.6 421.0,116.2 422.4,116.8 423.8,117.3 425.2,117.9 426.6,118.4 427.9,118.8 429.3,119.2 430.7,119.6 432.1,120.0 433.5,120.4 434.9,120.7 436.3,121.0 437.7,121.3 439.0,121.5 440.4,121.7 441.8,121.9 443.2,122.0 444.6,122.2 446.0,122.3 447.4,122.4 448.7,122.5 450.1,122.6 451.5,122.7 452.9,122.8 454.3,122.8 455.7,122.9 457.1,123.0 458.4,123.0 459.8,123.1 461.2,123.1 462.6,123.2 464.0,123.2 465.4,123.3 466.8,123.3 468.2,123.3 469.5,123.3 470.9,123.3 472.3,123.2 473.7,123.2 475.1,123.2 476.5,123.1 477.9,123.1 479.2,123.0 480.6,123.0 482.0,122.9 483.4,122.8 484.8,122.7 486.2,122.6 487.6,122.5 489.0,122.4 490.3,122.3 491.7,122.2 493.1,122.0 494.5,121.9 494.5,133.6 493.1,133.4 491.7,133.2 490.3,133.0 489.0,132.9 487.6,132.7 486.2,132.5 484.8,132.3 483.4,132.2 482.0,132.0 480.6,131.8 479.2,131.7 477.9,131.5 476.5,131.4 475.1,131.2 473.7,131.1 472.3,130.9 470.9,130.8 469.5,130.7 468.2,130.5 466.8,130.4 465.4,130.3 464.0,130.2 462.6,130.1 461.2,130.0 459.8,129.9 458.4,129.8 457.1,129.7 455.7,129.6 454.3,129.5 452.9,129.4 451.5,129.3 450.1,129.2 448.7,129.1 447.4,129.0 446.0,128.8 444.6,128.7 443.2,128.6 441.8,128.4 440.4,128.3 439.0,128.1 437.7,127.9 436.3,127.7 434.9,127.4 433.5,127.1 432.1,126.7 430.7,126.4 429.3,126.0 427.9,125.7 426.6,125.3 425.2,124.8 423.8,124.4 422.4,123.9 421.0,123.4 419.6,122.9 418.2,122.3 416.9,121.8 415.5,121.2 414.1,120.5 412.7,119.8 411.3,119.1 409.9,118.4 408.5,117.6 407.1,116.8 405.8,116.0 404.4,115.1 403.0,114.3 401.6,113.4 400.2,112.5 398.8,111.5 397.4,110.5 396.1,109.5 394.7,108.5 393.3,107.4 391.9,106.3 390.5,105.1 389.1,103.9 387.7,102.6 386.3,101.4 385.0,100.1 383.6,98.8 382.2,97.5 380.8,96.2 379.4,94.9 378.0,93.5 376.6,92.2 375.3,90.8 373.9,89.3 372.5,87.8 371.1,86.3 369.7,84.8 368.3,83.3 366.9,81.6 365.6,80.0 364.2,78.2 362.8,76.4 361.4,74.5 360.0,72.5 358.6,70.5 357.2,68.4 355.8,66.2 354.5,64.0 353.1,61.7 351.7,59.3 350.3,56.8 348.9,54.2 347.5,51.4 346.1,48.6 344.8,45.7 343.4,42.9 342.0,40.1 340.6,37.4 339.2,34.7 337.8,32.1 336.4,29.5 335.0,26.9 333.7,24.4 332.3,21.9 330.9,19.4 329.5,16.6" fill="#ae2222" fill-opacity="0.2"/>
<polygon points="329.5,16.6 330.9,18.9 332.3,21.4 333.7,24.0 335.0,26.5 336.4,29.0 337.8,31.5 339.2,34.0 340.6,36.6 342.0,39.2 343.4,41.8 344.8,44.5 346.1,47.2 347.5,49.8 348.9,52.4 350.3,54.8 351.7,57.1 353.1,59.3 354.5,61.4 355.8,63.5 357.2,65.5 358.6,67.4 360.0,69.2 361.4,71.0 362.8,72.6 364.2,74.2 365.6,75.8 366.9,77.3 368.3,78.7 369.7,80.1 371.1,81.5 372.5,82.9 373.9,84.2 375.3,85.5 376.6,86.8 378.0,88.0 379.4,89.3 380.8,90.5 382.2,91.6 383.6,92.8 385.0,94.0 386.3,95.1 387.7,96.3 389.1,97.5 390.5,98.6 391.9,99.7 393.3,100.8 394.7,101.9 396.1,102.9 397.4,103.8 398.8,104.8 400.2,105.7 401.6,106.6 403.0,107.5 404.4,108.3 405.8,109.1 407.1,109.9 408.5,110.7 409.9,111.5 411.3,112.3 412.7,113.0 414.1,113.7 415.5,114.4 416.9,115.1 418.2,115.7 419.6,116.3 421.0,116.9 422.4,117.5 423.8,118.1 425.2,118.6 426.6,119.0 427.9,119.5 429.3,119.9 430.7,120.3 432.1,120.7 433.5,121.0 434.9,121.4 436.3,121.7 437.7,121.9 439.0,122.2 440.4,122.4 441.8,122.5 443.2,122.7 444.6,122.8 446.0,123.0 447.4,123.1 448.7,123.2 450.1,123.3 451.5,123.4 452.9,123.4 454.3,123.5 455.7,123.6 457.1,123.6 458.4,123.7 459.8,123.8 461.2,123.8 462.6,123.9 464.0,123.9 465.4,124.0 466.8,124.0 468.2,124.0 469.5,124.0 470.9,124.0 472.3,124.0 473.7,124.0 475.1,124.0 476.5,124.0 477.9,123.9 479.2,123.9 480.6,123.8 482.0,123.8 483.4,123.7 484.8,123.7 486.2,123.6 487.6,123.5 489.0,123.4 490.3,123.4 491.7,123.3 493.1,123.2 494.5,123.1 494.5,132.4 493.1,132.3 491.7,132.1 490.3,132.0 489.0,131.8 487.6,131.7 486.2,131.5 484.8,131.4 483.4,131.2 482.0,131.1 480.6,131.0 479.2,130.8 477.9,130.7 476.5,130.5 475.1,130.4 473.7,130.3 472.3,130.2 470.9,130.0 469.5,129.9 468.2,129.8 466.8,129.7 465.4,129.6 464.0,129.5 462.6,129.4 461.2,129.3 459.8,129.2 458.4,129.1 457.1,129.0 455.7,128.9 454.3,128.8 452.9,128.7 451.5,128.6 450.1,128.5 448.7,128.4 447.4,128.3 446.0,128.2 444.6,128.1 443.2,127.9 441.8,127.8 440.4,127.6 439.0,127.4 437.7,127.2 436.3,127.0 434.9,126.7 433.5,126.4 432.1,126.1 430.7,125.7 429.3,125.4 427.9,125.0 426.6,124.6 425.2,124.1 423.8,123.7 422.4,123.2 421.0,122.7 419.6,122.2 418.2,121.6 416.9,121.0 415.5,120.4 414.1,119.8 412.7,119.1 411.3,118.4 409.9,117.6 408.5,116.8 407.1,116.0 405.8,115.2 404.4,114.4 403.0,113.5 401.6,112.6 400.2,111.7 398.8,110.8 397.4,109.8 396.1,108.8 394.7,107.7 393.3,106.7 391.9,105.5 390.5,104.4 389.1,103.2 387.7,101.9 386.3,100.7 385.0,99.4 383.6,98.1 382.2,96.9 380.8,95.6 379.4,94.3 378.0,92.9 376.6,91.6 375.3,90.2 373.9,88.7 372.5,87.3 371.1,85.8 369.7,84.3 368.3,82.8 366.9,81.2 365.6,79.5 364.2,77.8 362.8,76.0 361.4,74.1 360.0,72.2 358.6,70.2 357.2,68.1 355.8,65.9 354.5,63.7 353.1,61.4 351.7,59.0 350.3,56.6 348.9,54.0 347.5,51.2 346.1,48.4 344.8,45.6 343.4,42.8 342.0,40.0 340.6,37.3 339.2,34.6 337.8,32.0 336.4,29.4 335.0,26.9 333.7,24.3 332.3,21.8 330.9,19.3 329.5,16.6" fill="#ae2222" fill-opacity="0.2"/>
<polygon points="329.5,16.6 330.9,19.0 332.3,21.5 333.7,24.0 335.0,26.5 336.4,29.1 337.8,31.6 339.2,34.1 340.6,36.7 342.0,39.3 343.4,41.9 344.8,44.7 346.1,47.4 347.5,50.0 348.9,52.6 350.3,55.1 351.7,57.4 353.1,59.6 354.5,61.7 355.8,63.8 357.2,65.8 358.6,67.7 360.0,69.6 361.4,71.3 362.8,73.0 364.2,74.7 365.6,76.2 366.9,77.8 368.3,79.2 369.7,80.6 371.1,82.0 372.5,83.4 373.9,84.8 375.3,86.1 376.6,87.4 378.0,88.6 379.4,89.9 380.8,91.1 382.2,92.3 383.6,93.5 385.0,94.6 386.3,95.8 387.7,97.0 389.1,98.2 390.5,99.3 391.9,100.5 393.3,101.5 394.7,102.6 396.1,103.6 397.4,104.6 398.8,105.5 400.2,106.5 401.6,107.4 403.0,108.2 404.4,109.1 405.8,109.9 407.1,110.7 408.5,111.5 409.9,112.3 411.3,113.0 412.7,113.8 414.1,114.5 415.5,115.2 416.9,115.8 418.2,116.5 419.6,117.1 421.0,117.7 422.4,118.2 423.8,118.8 425.2,119.3 426.6,119.7 427.9,120.2 429.3,120.6 430.7,121.0 432.1,121.3 433.5,121.7 434.9,122.0 436.3,122.3 437.7,122.6 439.0,122.8 440.4,123.0 441.8,123.2 443.2,123.3 444.6,123.5 446.0,123.6 447.4,123.7 448.7,123.8 450.1,123.9 451.5,124.0 452.9,124.1 454.3,124.2 455.7,124.3 457.1,124.3 458.4,124.4 459.8,124.4 461.2,124.5 462.6,124.6 464.0,124.6 465.4,124.7 466.8,124.7 468.2,124.7 469.5,124.8 470.9,124.8 472.3,124.8 473.7,124.8 475.1,124.8 476.5,124.8 477.9,124.8 479.2,124.8 480.6,124.7 482.0,124.7 483.4,124.7 484.8,124.6 486.2,124.6 487.6,124.5 489.0,124.5 490.3,124.4 491.7,124.4 493.1,124.3 494.5,124.2 494.5,131.3 493.1,131.1 491.7,131.0 490.3,130.9 489.0,130.8 487.6,130.7 486.2,130.5 484.8,130.4 483.4,130.3 482.0,130.2 480.6,130.1 479.2,129.9 477.9,129.8 476.5,129.7 475.1,129.6 473.7,129.5 472.3,129.4 470.9,129.3 469.5,129.2 468.2,129.1 466.8,129.0 465.4,128.9 464.0,128.8 462.6,128.7 461.2,128.6 459.8,128.5 458.4,128.4 457.1,128.4 455.7,128.3 454.3,128.2 452.9,128.1 451.5,128.0 450.1,127.9 448.7,127.8 447.4,127.6 446.0,127.5 444.6,127.4 443.2,127.3 441.8,127.1 440.4,127.0 439.0,126.8 437.7,126.6 436.3,126.3 434.9,126.0 433.5,125.7 432.1,125.4 430.7,125.0 429.3,124.7 427.9,124.3 426.6,123.9 425.2,123.5 423.8,123.0 422.4,122.5 421.0,122.0 419.6,121.4 418.2,120.9 416.9,120.3 415.5,119.7 414.1,119.0 412.7,118.3 411.3,117.6 409.9,116.8 408.5,116.1 407.1,115.3 405.8,114.4 404.4,113.6 403.0,112.8 401.6,111.9 400.2,111.0 398.8,110.0 397.4,109.0 396.1,108.0 394.7,107.0 393.3,105.9 391.9,104.8 390.5,103.6 389.1,102.4 387.7,101.2 386.3,100.0 385.0,98.7 383.6,97.5 382.2,96.2 380.8,94.9 379.4,93.6 378.0,92.3 376.6,91.0 375.3,89.6 373.9,88.2 372.5,86.7 371.1,85.3 369.7,83.8 368.3,82.2 366.9,80.7 365.6,79.0 364.2,77.3 362.8,75.6 361.4,73.7 360.0,71.8 358.6,69.8 357.2,67.7 355.8,65.6 354.5,63.4 353.1,61.1 351.7,58.8 350.3,56.4 348.9,53.8 347.5,51.1 346.1,48.3 344.8,45.5 343.4,42.7 342.0,39.9 340.6,37.2 339.2,34.6 337.8,32.0 336.4,29.4 335.0,26.8 333.7,24.3 332.3,21.8 330.9,19.3 329.5,16.6" fill="#ae2222" fill-opacity="0.2"/>
<polygon points="329.5,16.6 330.9,19.0 332.3,21.5 333.7,24.0 335.0,26.6 336.4,29.1 337.8,31.6 339.2,34.2 340.6,36.8 342.0,39.4 343.4,42.1 344.8,44.8 346.1,47.5 347.5,50.2 348.9,52.8 350.3,55.3 351.7,57.6 353.1,59.8 354.5,62.0 355.8,64.1 357.2,66.1 358.6,68.1 360.0,69.9 361.4,71.7 362.8,73.5 364.2,75.1 365.6,76.7 366.9,78.2 368.3,79.7 369.7,81.2 371.1,82.6 372.5,84.0 373.9,85.3 375.3,86.7 376.6,88.0 378.0,89.3 379.4,90.5 380.8,91.7 382.2,92.9 383.6,94.1 385.0,95.3 386.3,96.5 387.7,97.7 389.1,98.9 390.5,100.0 391.9,101.2 393.3,102.3 394.7,103.3 396.1,104.3 397.4,105.3 398.8,106.3 400.2,107.2 401.6,108.1 403.0,109.0 404.4,109.8 405.8,110.7 407.1,111.5 408.5,112.2 409.9,113.0 411.3,113.8 412.7,114.5 414.1,115.2 415.5,115.9 416.9,116.6 418.2,117.2 419.6,117.8 421.0,118.4 422.4,118.9 423.8,119.5 425.2,120.0 426.6,120.4 427.9,120.9 429.3,121.3 430.7,121.6 432.1,122.0 433.5,122.4 434.9,122.7 436.3,123.0 437.7,123.3 439.0,123.5 440.4,123.7 441.8,123.9 443.2,124.0 444.6,124.1 446.0,124.3 447.4,124.4 448.7,124.5 450.1,124.6 451.5,124.7 452.9,124.8 454.3,124.8 455.7,124.9 457.1,125.0 458.4,125.1 459.8,125.1 461.2,125.2 462.6,125.3 464.0,125.3 465.4,125.4 466.8,125.4 468.2,125.5 469.5,125.5 470.9,125.5 472.3,125.6 473.7,125.6 475.1,125.6 476.5,125.6 477.9,125.6 479.2,125.6 480.6,125.6 482.0,125.6 483.4,125.6 484.8,125.6 486.2,125.6 487.6,125.6 489.0,125.5 490.3,125.5 491.7,125.5 493.1,125.4 494.5,125.4 494.5,130.1 493.1,130.0 491.7,129.9 490.3,129.8 489.0,129.7 487.6,129.6 486.2,129.5 484.8,129.4 483.4,129.4 482.0,129.3 480.6,129.2 479.2,129.1 477.9,129.0 476.5,128.9 475.1,128.8 473.7,128.7 472.3,128.6 470.9,128.5 469.5,128.4 468.2,128.4 466.8,128.3 465.4,128.2 464.0,128.1 462.6,128.0 461.2,127.9 459.8,127.8 458.4,127.8 457.1,127.7 455.7,127.6 454.3,127.5 452.9,127.4 451.5,127.3 450.1,127.2 448.7,127.1 447.4,127.0 446.0,126.9 444.6,126.7 443.2,126.6 441.8,126.5 440.4,126.3 439.0,126.1 437.7,125.9 436.3,125.7 434.9,125.4 433.5,125.1 432.1,124.7 430.7,124.4 429.3,124.0 427.9,123.6 426.6,123.2 425.2,122.8 423.8,122.3 422.4,121.8 421.0,121.3 419.6,120.7 418.2,120.1 416.9,119.5 415.5,118.9 414.1,118.3 412.7,117.6 411.3,116.8 409.9,116.1 408.5,115.3 407.1,114.5 405.8,113.7 404.4,112.9 403.0,112.0 401.6,111.1 400.2,110.2 398.8,109.3 397.4,108.3 396.1,107.3 394.7,106.3 393.3,105.2 391.9,104.1 390.5,102.9 389.1,101.7 387.7,100.5 386.3,99.3 385.0,98.1 383.6,96.8 382.2,95.6 380.8,94.3 379.4,93.0 378.0,91.7 376.6,90.4 375.3,89.0 373.9,87.6 372.5,86.2 371.1,84.7 369.7,83.3 368.3,81.7 366.9,80.2 365.6,78.6 364.2,76.9 362.8,75.1 361.4,73.3 360.0,71.4 358.6,69.5 357.2,67.4 355.8,65.3 354.5,63.1 353.1,60.9 351.7,58.6 350.3,56.1 348.9,53.6 347.5,50.9 346.1,48.1 344.8,45.3 343.4,42.5 342.0,39.8 340.6,37.1 339.2,34.5 337.8,31.9 336.4,29.3 335.0,26.8 333.7,24.2 332.3,21.7 330.9,19.2 329.5,16.6" fill="#ae2222" fill-opacity="0.2"/>
<polygon points="329.5,16.6 330.9,19.1 332.3,21.6 333.7,24.1 335.0,26.6 336.4,29.2 337.8,31.7 339.2,34.3 340.6,36.8 342.0,39.5 343.4,42.2 344.8,44.9 346.1,47.7 347.5,50.4 348.9,53.0 350.3,55.5 351.7,57.8 353.1,60.1 354.5,62.3 355.8,64.4 357.2,66.4 358.6,68.4 360.0,70.3 361.4,72.1 362.8,73.9 364.2,75.6 365.6,77.2 366.9,78.7 368.3,80.2 369.7,81.7 371.1,83.1 372.5,84.5 373.9,85.9 375.3,87.3 376.6,88.6 378.0,89.9 379.4,91.1 380.8,92.4 382.2,93.6 383.6,94.8 385.0,96.0 386.3,97.2 387.7,98.4 389.1,99.6 390.5,100.8 391.9,101.9 393.3,103.0 394.7,104.1 396.1,105.1 397.4,106.1 398.8,107.0 400.2,108.0 401.6,108.9 403.0,109.7 404.4,110.6 405.8,111.4 407.1,112.2 408.5,113.0 409.9,113.8 411.3,114.5 412.7,115.3 414.1,116.0 415.5,116.7 416.9,117.3 418.2,117.9 419.6,118.5 421.0,119.1 422.4,119.6 423.8,120.2 425.2,120.7 426.6,121.1 427.9,121.6 429.3,121.9 430.7,122.3 432.1,122.7 433.5,123.0 434.9,123.4 436.3,123.7 437.7,123.9 439.0,124.2 440.4,124.3 441.8,124.5 443.2,124.7 444.6,124.8 446.0,124.9 447.4,125.0 448.7,125.1 450.1,125.2 451.5,125.3 452.9,125.4 454.3,125.5 455.7,125.6 457.1,125.7 458.4,125.7 459.8,125.8 461.2,125.9 462.6,125.9 464.0,126.0 465.4,126.1 466.8,126.1 468.2,126.2 469.5,126.2 470.9,126.3 472.3,126.3 473.7,126.4 475.1,126.4 476.5,126.4 477.9,126.5 479.2,126.5 480.6,126.5 482.0,126.5 483.4,126.5 484.8,126.6 486.2,126.6 487.6,126.6 489.0,126.6 490.3,126.6 491.7,126.6 493.1,126.6 494.5,126.6 494.5,128.9 493.1,128.9 491.7,128.8 490.3,128.7 489.0,128.7 487.6,128.6 486.2,128.6 484.8,128.5 483.4,128.4 482.0,128.4 480.6,128.3 479.2,128.2 477.9,128.1 476.5,128.1 475.1,128.0 473.7,127.9 472.3,127.9 470.9,127.8 469.5,127.7 468.2,127.6 466.8,127.6 465.4,127.5 464.0,127.4 462.6,127.3 461.2,127.2 459.8,127.2 458.4,127.1 457.1,127.0 455.7,126.9 454.3,126.8 452.9,126.7 451.5,126.7 450.1,126.5 448.7,126.4 447.4,126.3 446.0,126.2 444.6,126.1 443.2,126.0 441.8,125.8 440.4,125.7 439.0,125.5 437.7,125.3 436.3,125.0 434.9,124.7 433.5,124.4 432.1,124.0 430.7,123.7 429.3,123.3 427.9,122.9 426.6,122.5 425.2,122.1 423.8,121.6 422.4,121.1 421.0,120.5 419.6,120.0 418.2,119.4 416.9,118.8 415.5,118.2 414.1,117.5 412.7,116.8 411.3,116.1 409.9,115.3 408.5,114.5 407.1,113.7 405.8,112.9 404.4,112.1 403.0,111.2 401.6,110.4 400.2,109.5 398.8,108.5 397.4,107.6 396.1,106.6 394.7,105.5 393.3,104.5 391.9,103.4 390.5,102.2 389.1,101.0 387.7,99.8 386.3,98.6 385.0,97.4 383.6,96.1 382.2,94.9 380.8,93.6 379.4,92.4 378.0,91.1 376.6,89.8 375.3,88.4 373.9,87.0 372.5,85.6 371.1,84.2 369.7,82.7 368.3,81.2 366.9,79.7 365.6,78.1 364.2,76.5 362.8,74.7 361.4,72.9 360.0,71.1 358.6,69.1 357.2,67.1 355.8,65.0 354.5,62.8 353.1,60.6 351.7,58.3 350.3,55.9 348.9,53.4 347.5,50.7 346.1,48.0 344.8,45.2 343.4,42.4 342.0,39.7 340.6,37.0 339.2,34.4 337.8,31.8 336.4,29.3 335.0,26.7 333.7,24.2 332.3,21.7 330.9,19.2 329.5,16.6" fill="#ae2222" fill-opacity="0.2"/>
<polyline points="329.50,16.65 330.89,19.13 332.27,21.63 333.66,24.15 335.05,26.67 336.43,29.22 337.82,31.77 339.21,34.34 340.59,36.93 341.98,39.58 343.37,42.30 344.75,45.06 346.14,47.82 347.53,50.54 348.91,53.18 350.30,55.71 351.68,58.08 353.07,60.35 354.46,62.55 355.84,64.69 357.23,66.76 358.62,68.76 360.00,70.69 361.39,72.54 362.78,74.31 364.16,76.01 365.55,77.64 366.94,79.21 368.32,80.73 369.71,82.21 371.10,83.66 372.48,85.07 373.87,86.47 375.26,87.84 376.64,89.17 378.03,90.48 379.42,91.76 380.80,93.01 382.19,94.25 383.58,95.47 384.96,96.69 386.35,97.90 387.74,99.11 389.12,100.31 390.51,101.48 391.89,102.63 393.28,103.74 394.67,104.81 396.05,105.83 397.44,106.81 398.83,107.77 400.21,108.71 401.60,109.61 402.99,110.49 404.37,111.34 405.76,112.17 407.15,112.98 408.53,113.77 409.92,114.55 411.31,115.31 412.69,116.04 414.08,116.75 415.47,117.43 416.85,118.06 418.24,118.67 419.63,119.25 421.01,119.81 422.40,120.35 423.79,120.87 425.17,121.36 426.56,121.82 427.95,122.24 429.33,122.63 430.72,123.01 432.11,123.37 433.49,123.72 434.88,124.04 436.26,124.33 437.65,124.59 439.04,124.81 440.42,125.00 441.81,125.16 443.20,125.31 444.58,125.44 445.97,125.57 447.36,125.68 448.74,125.79 450.13,125.89 451.52,125.99 452.90,126.09 454.29,126.17 455.68,126.26 457.06,126.33 458.45,126.41 459.84,126.49 461.22,126.56 462.61,126.63 464.00,126.70 465.38,126.77 466.77,126.84 468.16,126.91 469.54,126.97 470.93,127.03 472.32,127.09 473.70,127.14 475.09,127.20 476.47,127.25 477.86,127.30 479.25,127.35 480.63,127.40 482.02,127.44 483.41,127.48 484.79,127.52 486.18,127.56 487.57,127.60 488.95,127.63 490.34,127.66 491.73,127.69 493.11,127.72 494.50,127.75" fill="none" stroke="#a5001f" stroke-width="1.3"/>
<polygon points="329.5,16.6 330.9,16.9 332.3,17.8 333.7,18.7 335.0,19.6 336.4,20.5 337.8,21.4 339.2,22.2 340.6,23.0 342.0,23.8 343.4,24.7 344.8,25.5 346.1,26.3 347.5,27.2 348.9,28.0 350.3,28.9 351.7,29.7 353.1,30.6 354.5,31.4 355.8,32.3 357.2,33.2 358.6,34.1 360.0,34.9 361.4,35.8 362.8,36.7 364.2,37.5 365.6,38.4 366.9,39.3 368.3,40.1 369.7,41.0 371.1,41.8 372.5,42.6 373.9,43.5 375.3,44.3 376.6,45.1 378.0,45.9 379.4,46.7 380.8,47.4 382.2,48.1 383.6,48.8 385.0,49.5 386.3,50.1 387.7,50.7 389.1,51.3 390.5,51.9 391.9,52.5 393.3,53.0 394.7,53.6 396.1,54.1 397.4,54.7 398.8,55.2 400.2,55.8 401.6,56.4 403.0,56.9 404.4,57.4 405.8,57.9 407.1,58.4 408.5,58.9 409.9,59.5 411.3,60.1 412.7,60.7 414.1,61.3 415.5,61.9 416.9,62.4 418.2,63.0 419.6,63.5 421.0,64.1 422.4,64.6 423.8,65.1 425.2,65.6 426.6,66.0 427.9,66.5 429.3,66.9 430.7,67.3 432.1,67.7 433.5,68.0 434.9,68.4 436.3,68.7 437.7,69.0 439.0,69.3 440.4,69.5 441.8,69.8 443.2,70.0 444.6,70.2 446.0,70.4 447.4,70.6 448.7,70.8 450.1,70.9 451.5,71.0 452.9,71.2 454.3,71.3 455.7,71.4 457.1,71.4 458.4,71.5 459.8,71.6 461.2,71.6 462.6,71.7 464.0,71.7 465.4,71.8 466.8,71.8 468.2,71.8 469.5,71.8 470.9,71.7 472.3,71.7 473.7,71.6 475.1,71.5 476.5,71.4 477.9,71.3 479.2,71.2 480.6,71.0 482.0,70.9 483.4,70.7 484.8,70.5 486.2,70.3 487.6,70.1 489.0,69.9 490.3,69.6 491.7,69.4 493.1,69.1 494.5,68.9 494.5,105.4 493.1,104.8 491.7,104.1 490.3,103.5 489.0,102.9 487.6,102.2 486.2,101.6 484.8,101.0 483.4,100.4 482.0,99.8 480.6,99.3 479.2,98.7 477.9,98.1 476.5,97.6 475.1,97.0 473.7,96.5 472.3,96.0 470.9,95.5 469.5,95.1 468.2,94.6 466.8,94.2 465.4,93.8 464.0,93.4 462.6,93.0 461.2,92.6 459.8,92.3 458.4,91.9 457.1,91.5 455.7,91.2 454.3,90.8 452.9,90.4 451.5,90.0 450.1,89.7 448.7,89.3 447.4,88.9 446.0,88.5 444.6,88.1 443.2,87.7 441.8,87.3 440.4,86.9 439.0,86.5 437.7,86.1 436.3,85.7 434.9,85.2 433.5,84.8 432.1,84.3 430.7,83.9 429.3,83.4 427.9,82.9 426.6,82.4 425.2,81.9 423.8,81.4 422.4,80.8 421.0,80.2 419.6,79.6 418.2,79.0 416.9,78.4 415.5,77.8 414.1,77.1 412.7,76.4 411.3,75.6 409.9,74.9 408.5,74.1 407.1,73.2 405.8,72.3 404.4,71.3 403.0,70.3 401.6,69.3 400.2,68.3 398.8,67.3 397.4,66.2 396.1,65.2 394.7,64.1 393.3,63.1 391.9,62.0 390.5,61.0 389.1,59.9 387.7,58.8 386.3,57.8 385.0,56.7 383.6,55.6 382.2,54.6 380.8,53.6 379.4,52.6 378.0,51.6 376.6,50.5 375.3,49.5 373.9,48.6 372.5,47.6 371.1,46.6 369.7,45.6 368.3,44.6 366.9,43.6 365.6,42.6 364.2,41.6 362.8,40.6 361.4,39.6 360.0,38.6 358.6,37.6 357.2,36.6 355.8,35.6 354.5,34.6 353.1,33.6 351.7,32.6 350.3,31.5 348.9,30.5 347.5,29.5 346.1,28.5 344.8,27.5 343.4,26.5 342.0,25.5 340.6,24.5 339.2,23.5 337.8,22.5 336.4,21.7 335.0,20.8 333.7,19.9 332.3,19.0 330.9,18.1 329.5,16.6" fill="#5aa83a" fill-opacity="0.2"/>
<polygon points="329.5,16.6 330.9,17.0 332.3,17.9 333.7,18.7 335.0,19.6 336.4,20.5 337.8,21.4 339.2,22.3 340.6,23.1 342.0,23.9 343.4,24.7 344.8,25.6 346.1,26.4 347.5,27.3 348.9,28.1 350.3,29.0 351.7,29.8 353.1,30.7 354.5,31.6 355.8,32.4 357.2,33.3 358.6,34.2 360.0,35.1 361.4,36.0 362.8,36.8 364.2,37.7 365.6,38.6 366.9,39.4 368.3,40.3 369.7,41.2 371.1,42.0 372.5,42.8 373.9,43.7 375.3,44.5 376.6,45.3 378.0,46.1 379.4,46.9 380.8,47.7 382.2,48.4 383.6,49.1 385.0,49.8 386.3,50.5 387.7,51.1 389.1,51.7 390.5,52.3 391.9,52.9 393.3,53.4 394.7,54.0 396.1,54.6 397.4,55.2 398.8,55.7 400.2,56.3 401.6,56.9 403.0,57.4 404.4,58.0 405.8,58.5 407.1,59.0 408.5,59.6 409.9,60.1 411.3,60.8 412.7,61.4 414.1,62.0 415.5,62.5 416.9,63.1 418.2,63.7 419.6,64.2 421.0,64.7 422.4,65.2 423.8,65.8 425.2,66.2 426.6,66.7 427.9,67.1 429.3,67.6 430.7,68.0 432.1,68.4 433.5,68.7 434.9,69.1 436.3,69.4 437.7,69.7 439.0,70.0 440.4,70.3 441.8,70.5 443.2,70.7 444.6,71.0 446.0,71.2 447.4,71.4 448.7,71.5 450.1,71.7 451.5,71.8 452.9,72.0 454.3,72.1 455.7,72.2 457.1,72.3 458.4,72.4 459.8,72.4 461.2,72.5 462.6,72.6 464.0,72.6 465.4,72.7 466.8,72.7 468.2,72.8 469.5,72.8 470.9,72.7 472.3,72.7 473.7,72.7 475.1,72.6 476.5,72.5 477.9,72.4 479.2,72.3 480.6,72.2 482.0,72.1 483.4,71.9 484.8,71.8 486.2,71.6 487.6,71.4 489.0,71.2 490.3,71.0 491.7,70.8 493.1,70.6 494.5,70.4 494.5,103.9 493.1,103.3 491.7,102.7 490.3,102.1 489.0,101.5 487.6,100.9 486.2,100.3 484.8,99.8 483.4,99.2 482.0,98.6 480.6,98.1 479.2,97.5 477.9,97.0 476.5,96.5 475.1,96.0 473.7,95.5 472.3,95.0 470.9,94.5 469.5,94.1 468.2,93.7 466.8,93.3 465.4,92.9 464.0,92.5 462.6,92.1 461.2,91.8 459.8,91.4 458.4,91.0 457.1,90.7 455.7,90.3 454.3,90.0 452.9,89.6 451.5,89.3 450.1,88.9 448.7,88.5 447.4,88.1 446.0,87.8 444.6,87.4 443.2,87.0 441.8,86.6 440.4,86.2 439.0,85.8 437.7,85.4 436.3,85.0 434.9,84.5 433.5,84.1 432.1,83.6 430.7,83.2 429.3,82.7 427.9,82.2 426.6,81.7 425.2,81.2 423.8,80.7 422.4,80.1 421.0,79.6 419.6,79.0 418.2,78.4 416.9,77.7 415.5,77.1 414.1,76.4 412.7,75.7 411.3,75.0 409.9,74.3 408.5,73.5 407.1,72.6 405.8,71.7 404.4,70.7 403.0,69.8 401.6,68.8 400.2,67.8 398.8,66.8 397.4,65.8 396.1,64.7 394.7,63.7 393.3,62.7 391.9,61.6 390.5,60.6 389.1,59.5 387.7,58.5 386.3,57.4 385.0,56.4 383.6,55.4 382.2,54.3 380.8,53.3 379.4,52.3 378.0,51.3 376.6,50.3 375.3,49.3 373.9,48.3 372.5,47.4 371.1,46.4 369.7,45.4 368.3,44.4 366.9,43.4 365.6,42.4 364.2,41.4 362.8,40.4 361.4,39.4 360.0,38.4 358.6,37.5 357.2,36.4 355.8,35.4 354.5,34.4 353.1,33.4 351.7,32.4 350.3,31.4 348.9,30.4 347.5,29.4 346.1,28.4 344.8,27.4 343.4,26.4 342.0,25.4 340.6,24.4 339.2,23.4 337.8,22.5 336.4,21.6 335.0,20.7 333.7,19.8 332.3,18.9 330.9,18.1 329.5,16.6" fill="#5aa83a" fill-opacity="0.2"/>
<polygon points="329.5,16.6 330.9,17.0 332.3,17.9 333.7,18.8 335.0,19.7 336.4,20.6 337.8,21.5 339.2,22.3 340.6,23.1 342.0,24.0 343.4,24.8 344.8,25.7 346.1,26.5 347.5,27.4 348.9,28.2 350.3,29.1 351.7,30.0 353.1,30.8 354.5,31.7 355.8,32.6 357.2,33.5 358.6,34.4 360.0,35.2 361.4,36.1 362.8,37.0 364.2,37.9 365.6,38.8 366.9,39.6 368.3,40.5 369.7,41.3 371.1,42.2 372.5,43.0 373.9,43.9 375.3,44.7 376.6,45.5 378.0,46.3 379.4,47.1 380.8,47.9 382.2,48.7 383.6,49.4 385.0,50.1 386.3,50.8 387.7,51.4 389.1,52.0 390.5,52.7 391.9,53.3 393.3,53.9 394.7,54.5 396.1,55.0 397.4,55.6 398.8,56.2 400.2,56.9 401.6,57.4 403.0,58.0 404.4,58.6 405.8,59.1 407.1,59.6 408.5,60.2 409.9,60.8 411.3,61.4 412.7,62.0 414.1,62.6 415.5,63.2 416.9,63.8 418.2,64.3 419.6,64.9 421.0,65.4 422.4,65.9 423.8,66.4 425.2,66.9 426.6,67.4 427.9,67.8 429.3,68.3 430.7,68.7 432.1,69.1 433.5,69.4 434.9,69.8 436.3,70.1 437.7,70.4 439.0,70.7 440.4,71.0 441.8,71.2 443.2,71.5 444.6,71.7 446.0,71.9 447.4,72.1 448.7,72.3 450.1,72.5 451.5,72.6 452.9,72.8 454.3,72.9 455.7,73.0 457.1,73.1 458.4,73.2 459.8,73.3 461.2,73.4 462.6,73.5 464.0,73.5 465.4,73.6 466.8,73.7 468.2,73.7 469.5,73.7 470.9,73.7 472.3,73.7 473.7,73.7 475.1,73.7 476.5,73.6 477.9,73.6 479.2,73.5 480.6,73.4 482.0,73.3 483.4,73.2 484.8,73.1 486.2,72.9 487.6,72.8 489.0,72.6 490.3,72.5 491.7,72.3 493.1,72.1 494.5,71.9 494.5,102.4 493.1,101.8 491.7,101.2 490.3,100.7 489.0,100.1 487.6,99.6 486.2,99.0 484.8,98.5 483.4,97.9 482.0,97.4 480.6,96.9 479.2,96.4 477.9,95.9 476.5,95.4 475.1,94.9 473.7,94.4 472.3,94.0 470.9,93.6 469.5,93.1 468.2,92.7 466.8,92.3 465.4,92.0 464.0,91.6 462.6,91.3 461.2,90.9 459.8,90.5 458.4,90.2 457.1,89.8 455.7,89.5 454.3,89.2 452.9,88.8 451.5,88.5 450.1,88.1 448.7,87.7 447.4,87.4 446.0,87.0 444.6,86.6 443.2,86.3 441.8,85.9 440.4,85.5 439.0,85.1 437.7,84.7 436.3,84.3 434.9,83.8 433.5,83.4 432.1,82.9 430.7,82.5 429.3,82.0 427.9,81.6 426.6,81.1 425.2,80.5 423.8,80.0 422.4,79.5 421.0,78.9 419.6,78.3 418.2,77.7 416.9,77.1 415.5,76.4 414.1,75.8 412.7,75.1 411.3,74.4 409.9,73.6 408.5,72.8 407.1,72.0 405.8,71.1 404.4,70.2 403.0,69.2 401.6,68.2 400.2,67.2 398.8,66.3 397.4,65.3 396.1,64.3 394.7,63.3 393.3,62.3 391.9,61.2 390.5,60.2 389.1,59.2 387.7,58.1 386.3,57.1 385.0,56.1 383.6,55.1 382.2,54.1 380.8,53.1 379.4,52.1 378.0,51.1 376.6,50.1 375.3,49.1 373.9,48.1 372.5,47.1 371.1,46.2 369.7,45.2 368.3,44.2 366.9,43.2 365.6,42.2 364.2,41.3 362.8,40.3 361.4,39.3 360.0,38.3 358.6,37.3 357.2,36.3 355.8,35.3 354.5,34.3 353.1,33.3 351.7,32.3 350.3,31.3 348.9,30.3 347.5,29.3 346.1,28.3 344.8,27.3 343.4,26.3 342.0,25.4 340.6,24.4 339.2,23.4 337.8,22.4 336.4,21.6 335.0,20.7 333.7,19.8 332.3,18.9 330.9,18.0 329.5,16.6" fill="#5aa83a" fill-opacity="0.2"/>
<polygon points="329.5,16.6 330.9,17.1 332.3,18.0 333.7,18.8 335.0,19.7 336.4,20.6 337.8,21.5 339.2,22.4 340.6,23.2 342.0,24.1 343.4,24.9 344.8,25.8 346.1,26.6 347.5,27.5 348.9,28.3 350.3,29.2 351.7,30.1 353.1,30.9 354.5,31.8 355.8,32.7 357.2,33.6 358.6,34.5 360.0,35.4 361.4,36.3 362.8,37.2 364.2,38.0 365.6,38.9 366.9,39.8 368.3,40.7 369.7,41.5 371.1,42.4 372.5,43.3 373.9,44.1 375.3,44.9 376.6,45.8 378.0,46.6 379.4,47.4 380.8,48.2 382.2,49.0 383.6,49.7 385.0,50.4 386.3,51.1 387.7,51.8 389.1,52.4 390.5,53.0 391.9,53.7 393.3,54.3 394.7,54.9 396.1,55.5 397.4,56.1 398.8,56.7 400.2,57.4 401.6,58.0 403.0,58.6 404.4,59.1 405.8,59.7 407.1,60.2 408.5,60.8 409.9,61.4 411.3,62.1 412.7,62.7 414.1,63.3 415.5,63.9 416.9,64.4 418.2,65.0 419.6,65.5 421.0,66.1 422.4,66.6 423.8,67.1 425.2,67.6 426.6,68.1 427.9,68.5 429.3,68.9 430.7,69.4 432.1,69.7 433.5,70.1 434.9,70.5 436.3,70.8 437.7,71.1 439.0,71.4 440.4,71.7 441.8,72.0 443.2,72.2 444.6,72.5 446.0,72.7 447.4,72.9 448.7,73.1 450.1,73.3 451.5,73.4 452.9,73.6 454.3,73.7 455.7,73.8 457.1,73.9 458.4,74.1 459.8,74.2 461.2,74.3 462.6,74.4 464.0,74.5 465.4,74.5 466.8,74.6 468.2,74.7 469.5,74.7 470.9,74.7 472.3,74.7 473.7,74.7 475.1,74.7 476.5,74.7 477.9,74.7 479.2,74.6 480.6,74.6 482.0,74.5 483.4,74.4 484.8,74.3 486.2,74.2 487.6,74.1 489.0,74.0 490.3,73.9 491.7,73.7 493.1,73.6 494.5,73.4 494.5,100.9 493.1,100.3 491.7,99.8 490.3,99.3 489.0,98.7 487.6,98.2 486.2,97.7 484.8,97.2 483.4,96.7 482.0,96.2 480.6,95.7 479.2,95.2 477.9,94.8 476.5,94.3 475.1,93.8 473.7,93.4 472.3,93.0 470.9,92.6 469.5,92.2 468.2,91.8 466.8,91.4 465.4,91.1 464.0,90.7 462.6,90.4 461.2,90.0 459.8,89.7 458.4,89.3 457.1,89.0 455.7,88.7 454.3,88.3 452.9,88.0 451.5,87.7 450.1,87.3 448.7,87.0 447.4,86.6 446.0,86.3 444.6,85.9 443.2,85.5 441.8,85.1 440.4,84.8 439.0,84.4 437.7,84.0 436.3,83.5 434.9,83.1 433.5,82.7 432.1,82.3 430.7,81.8 429.3,81.3 427.9,80.9 426.6,80.4 425.2,79.9 423.8,79.3 422.4,78.8 421.0,78.2 419.6,77.6 418.2,77.0 416.9,76.4 415.5,75.8 414.1,75.1 412.7,74.4 411.3,73.7 409.9,73.0 408.5,72.2 407.1,71.4 405.8,70.5 404.4,69.6 403.0,68.6 401.6,67.7 400.2,66.7 398.8,65.8 397.4,64.8 396.1,63.8 394.7,62.8 393.3,61.8 391.9,60.8 390.5,59.8 389.1,58.8 387.7,57.8 386.3,56.8 385.0,55.8 383.6,54.8 382.2,53.8 380.8,52.8 379.4,51.8 378.0,50.8 376.6,49.9 375.3,48.9 373.9,47.9 372.5,46.9 371.1,46.0 369.7,45.0 368.3,44.0 366.9,43.0 365.6,42.1 364.2,41.1 362.8,40.1 361.4,39.1 360.0,38.1 358.6,37.2 357.2,36.2 355.8,35.2 354.5,34.2 353.1,33.2 351.7,32.2 350.3,31.2 348.9,30.2 347.5,29.2 346.1,28.2 344.8,27.2 343.4,26.3 342.0,25.3 340.6,24.3 339.2,23.3 337.8,22.4 336.4,21.5 335.0,20.6 333.7,19.7 332.3,18.8 330.9,18.0 329.5,16.6" fill="#5aa83a" fill-opacity="0.2"/>
<polygon points="329.5,16.6 330.9,17.1 332.3,18.0 333.7,18.9 335.0,19.8 336.4,20.7 337.8,21.6 339.2,22.4 340.6,23.3 342.0,24.1 343.4,25.0 344.8,25.8 346.1,26.7 347.5,27.6 348.9,28.4 350.3,29.3 351.7,30.2 353.1,31.1 354.5,32.0 355.8,32.9 357.2,33.8 358.6,34.7 360.0,35.5 361.4,36.4 362.8,37.3 364.2,38.2 365.6,39.1 366.9,40.0 368.3,40.9 369.7,41.7 371.1,42.6 372.5,43.5 373.9,44.3 375.3,45.1 376.6,46.0 378.0,46.8 379.4,47.6 380.8,48.4 382.2,49.2 383.6,50.0 385.0,50.7 386.3,51.4 387.7,52.1 389.1,52.8 390.5,53.4 391.9,54.1 393.3,54.7 394.7,55.3 396.1,56.0 397.4,56.6 398.8,57.2 400.2,57.9 401.6,58.5 403.0,59.1 404.4,59.7 405.8,60.3 407.1,60.9 408.5,61.5 409.9,62.1 411.3,62.7 412.7,63.3 414.1,63.9 415.5,64.5 416.9,65.1 418.2,65.7 419.6,66.2 421.0,66.8 422.4,67.3 423.8,67.8 425.2,68.3 426.6,68.8 427.9,69.2 429.3,69.6 430.7,70.0 432.1,70.4 433.5,70.8 434.9,71.2 436.3,71.5 437.7,71.8 439.0,72.1 440.4,72.4 441.8,72.7 443.2,73.0 444.6,73.2 446.0,73.4 447.4,73.6 448.7,73.8 450.1,74.0 451.5,74.2 452.9,74.4 454.3,74.5 455.7,74.7 457.1,74.8 458.4,74.9 459.8,75.0 461.2,75.1 462.6,75.3 464.0,75.4 465.4,75.5 466.8,75.5 468.2,75.6 469.5,75.7 470.9,75.7 472.3,75.7 473.7,75.8 475.1,75.8 476.5,75.8 477.9,75.8 479.2,75.8 480.6,75.7 482.0,75.7 483.4,75.7 484.8,75.6 486.2,75.5 487.6,75.5 489.0,75.4 490.3,75.3 491.7,75.2 493.1,75.1 494.5,75.0 494.5,99.3 493.1,98.8 491.7,98.3 490.3,97.9 489.0,97.4 487.6,96.9 486.2,96.4 484.8,95.9 483.4,95.5 482.0,95.0 480.6,94.6 479.2,94.1 477.9,93.7 476.5,93.2 475.1,92.8 473.7,92.4 472.3,92.0 470.9,91.6 469.5,91.2 468.2,90.8 466.8,90.5 465.4,90.1 464.0,89.8 462.6,89.5 461.2,89.1 459.8,88.8 458.4,88.5 457.1,88.2 455.7,87.9 454.3,87.5 452.9,87.2 451.5,86.9 450.1,86.5 448.7,86.2 447.4,85.9 446.0,85.5 444.6,85.1 443.2,84.8 441.8,84.4 440.4,84.0 439.0,83.6 437.7,83.2 436.3,82.8 434.9,82.4 433.5,82.0 432.1,81.6 430.7,81.1 429.3,80.7 427.9,80.2 426.6,79.7 425.2,79.2 423.8,78.6 422.4,78.1 421.0,77.5 419.6,77.0 418.2,76.4 416.9,75.7 415.5,75.1 414.1,74.4 412.7,73.8 411.3,73.1 409.9,72.3 408.5,71.6 407.1,70.7 405.8,69.9 404.4,69.0 403.0,68.1 401.6,67.1 400.2,66.2 398.8,65.3 397.4,64.3 396.1,63.4 394.7,62.4 393.3,61.4 391.9,60.4 390.5,59.4 389.1,58.5 387.7,57.5 386.3,56.5 385.0,55.5 383.6,54.5 382.2,53.5 380.8,52.5 379.4,51.6 378.0,50.6 376.6,49.6 375.3,48.7 373.9,47.7 372.5,46.7 371.1,45.8 369.7,44.8 368.3,43.8 366.9,42.9 365.6,41.9 364.2,40.9 362.8,39.9 361.4,39.0 360.0,38.0 358.6,37.0 357.2,36.0 355.8,35.0 354.5,34.0 353.1,33.1 351.7,32.1 350.3,31.1 348.9,30.1 347.5,29.1 346.1,28.1 344.8,27.2 343.4,26.2 342.0,25.2 340.6,24.2 339.2,23.3 337.8,22.3 336.4,21.5 335.0,20.6 333.7,19.7 332.3,18.8 330.9,17.9 329.5,16.6" fill="#5aa83a" fill-opacity="0.2"/>
<polygon points="329.5,16.6 330.9,17.2 332.3,18.1 333.7,18.9 335.0,19.8 336.4,20.7 337.8,21.6 339.2,22.5 340.6,23.3 342.0,24.2 343.4,25.1 344.8,25.9 346.1,26.8 347.5,27.7 348.9,28.5 350.3,29.4 351.7,30.3 353.1,31.2 354.5,32.1 355.8,33.0 357.2,33.9 358.6,34.8 360.0,35.7 361.4,36.6 362.8,37.5 364.2,38.4 365.6,39.3 366.9,40.2 368.3,41.0 369.7,41.9 371.1,42.8 372.5,43.7 373.9,44.5 375.3,45.4 376.6,46.2 378.0,47.1 379.4,47.9 380.8,48.7 382.2,49.5 383.6,50.3 385.0,51.0 386.3,51.7 387.7,52.4 389.1,53.1 390.5,53.8 391.9,54.5 393.3,55.1 394.7,55.8 396.1,56.4 397.4,57.1 398.8,57.7 400.2,58.4 401.6,59.1 403.0,59.7 404.4,60.3 405.8,60.9 407.1,61.5 408.5,62.1 409.9,62.7 411.3,63.3 412.7,64.0 414.1,64.6 415.5,65.2 416.9,65.8 418.2,66.3 419.6,66.9 421.0,67.4 422.4,68.0 423.8,68.5 425.2,69.0 426.6,69.4 427.9,69.9 429.3,70.3 430.7,70.7 432.1,71.1 433.5,71.5 434.9,71.9 436.3,72.2 437.7,72.6 439.0,72.9 440.4,73.2 441.8,73.4 443.2,73.7 444.6,73.9 446.0,74.2 447.4,74.4 448.7,74.6 450.1,74.8 451.5,75.0 452.9,75.2 454.3,75.3 455.7,75.5 457.1,75.6 458.4,75.8 459.8,75.9 461.2,76.0 462.6,76.1 464.0,76.3 465.4,76.4 466.8,76.5 468.2,76.6 469.5,76.6 470.9,76.7 472.3,76.8 473.7,76.8 475.1,76.8 476.5,76.9 477.9,76.9 479.2,76.9 480.6,76.9 482.0,76.9 483.4,76.9 484.8,76.9 486.2,76.8 487.6,76.8 489.0,76.7 490.3,76.7 491.7,76.6 493.1,76.6 494.5,76.5 494.5,97.8 493.1,97.4 491.7,96.9 490.3,96.4 489.0,96.0 487.6,95.6 486.2,95.1 484.8,94.7 483.4,94.2 482.0,93.8 480.6,93.4 479.2,93.0 477.9,92.5 476.5,92.1 475.1,91.7 473.7,91.3 472.3,91.0 470.9,90.6 469.5,90.2 468.2,89.9 466.8,89.5 465.4,89.2 464.0,88.9 462.6,88.6 461.2,88.3 459.8,88.0 458.4,87.6 457.1,87.3 455.7,87.0 454.3,86.7 452.9,86.4 451.5,86.1 450.1,85.8 448.7,85.4 447.4,85.1 446.0,84.7 444.6,84.4 443.2,84.0 441.8,83.7 440.4,83.3 439.0,82.9 437.7,82.5 436.3,82.1 434.9,81.7 433.5,81.3 432.1,80.9 430.7,80.4 429.3,80.0 427.9,79.5 426.6,79.0 425.2,78.5 423.8,78.0 422.4,77.4 421.0,76.9 419.6,76.3 418.2,75.7 416.9,75.1 415.5,74.4 414.1,73.8 412.7,73.1 411.3,72.4 409.9,71.7 408.5,70.9 407.1,70.1 405.8,69.3 404.4,68.4 403.0,67.5 401.6,66.6 400.2,65.7 398.8,64.8 397.4,63.8 396.1,62.9 394.7,61.9 393.3,61.0 391.9,60.0 390.5,59.1 389.1,58.1 387.7,57.1 386.3,56.2 385.0,55.2 383.6,54.2 382.2,53.3 380.8,52.3 379.4,51.3 378.0,50.4 376.6,49.4 375.3,48.4 373.9,47.5 372.5,46.5 371.1,45.6 369.7,44.6 368.3,43.6 366.9,42.7 365.6,41.7 364.2,40.7 362.8,39.8 361.4,38.8 360.0,37.8 358.6,36.9 357.2,35.9 355.8,34.9 354.5,33.9 353.1,32.9 351.7,32.0 350.3,31.0 348.9,30.0 347.5,29.0 346.1,28.1 344.8,27.1 343.4,26.1 342.0,25.1 340.6,24.2 339.2,23.2 337.8,22.3 336.4,21.4 335.0,20.5 333.7,19.6 332.3,18.7 330.9,17.9 329.5,16.6" fill="#5aa83a" fill-opacity="0.2"/>
<polygon points="329.5,16.6 330.9,17.2 332.3,18.1 333.7,19.0 335.0,19.9 336.4,20.8 337.8,21.7 339.2,22.5 340.6,23.4 342.0,24.3 343.4,25.1 344.8,26.0 346.1,26.9 347.5,27.8 348.9,28.6 350.3,29.5 351.7,30.4 353.1,31.3 354.5,32.2 355.8,33.1 357.2,34.0 358.6,34.9 360.0,35.9 361.4,36.8 362.8,37.7 364.2,38.6 365.6,39.5 366.9,40.3 368.3,41.2 369.7,42.1 371.1,43.0 372.5,43.9 373.9,44.7 375.3,45.6 376.6,46.4 378.0,47.3 379.4,48.1 380.8,49.0 382.2,49.8 383.6,50.5 385.0,51.3 386.3,52.0 387.7,52.8 389.1,53.5 390.5,54.2 391.9,54.9 393.3,55.5 394.7,56.2 396.1,56.9 397.4,57.6 398.8,58.2 400.2,58.9 401.6,59.6 403.0,60.2 404.4,60.9 405.8,61.5 407.1,62.1 408.5,62.7 409.9,63.4 411.3,64.0 412.7,64.6 414.1,65.2 415.5,65.8 416.9,66.4 418.2,67.0 419.6,67.6 421.0,68.1 422.4,68.6 423.8,69.1 425.2,69.6 426.6,70.1 427.9,70.6 429.3,71.0 430.7,71.4 432.1,71.8 433.5,72.2 434.9,72.6 436.3,72.9 437.7,73.3 439.0,73.6 440.4,73.9 441.8,74.2 443.2,74.4 444.6,74.7 446.0,74.9 447.4,75.2 448.7,75.4 450.1,75.6 451.5,75.8 452.9,76.0 454.3,76.1 455.7,76.3 457.1,76.5 458.4,76.6 459.8,76.7 461.2,76.9 462.6,77.0 464.0,77.2 465.4,77.3 466.8,77.4 468.2,77.5 469.5,77.6 470.9,77.7 472.3,77.8 473.7,77.8 475.1,77.9 476.5,78.0 477.9,78.0 479.2,78.1 480.6,78.1 482.0,78.1 483.4,78.1 484.8,78.1 486.2,78.1 487.6,78.1 489.0,78.1 490.3,78.1 491.7,78.1 493.1,78.0 494.5,78.0 494.5,96.3 493.1,95.9 491.7,95.5 490.3,95.0 489.0,94.6 487.6,94.2 486.2,93.8 484.8,93.4 483.4,93.0 482.0,92.6 480.6,92.2 479.2,91.8 477.9,91.4 476.5,91.0 475.1,90.7 473.7,90.3 472.3,89.9 470.9,89.6 469.5,89.3 468.2,88.9 466.8,88.6 465.4,88.3 464.0,88.0 462.6,87.7 461.2,87.4 459.8,87.1 458.4,86.8 457.1,86.5 455.7,86.2 454.3,85.9 452.9,85.6 451.5,85.3 450.1,85.0 448.7,84.7 447.4,84.3 446.0,84.0 444.6,83.7 443.2,83.3 441.8,82.9 440.4,82.6 439.0,82.2 437.7,81.8 436.3,81.4 434.9,81.0 433.5,80.6 432.1,80.2 430.7,79.7 429.3,79.3 427.9,78.8 426.6,78.3 425.2,77.8 423.8,77.3 422.4,76.7 421.0,76.2 419.6,75.6 418.2,75.0 416.9,74.4 415.5,73.8 414.1,73.1 412.7,72.5 411.3,71.8 409.9,71.0 408.5,70.3 407.1,69.5 405.8,68.7 404.4,67.8 403.0,67.0 401.6,66.1 400.2,65.2 398.8,64.3 397.4,63.3 396.1,62.4 394.7,61.5 393.3,60.6 391.9,59.6 390.5,58.7 389.1,57.7 387.7,56.8 386.3,55.8 385.0,54.9 383.6,53.9 382.2,53.0 380.8,52.0 379.4,51.1 378.0,50.1 376.6,49.2 375.3,48.2 373.9,47.3 372.5,46.3 371.1,45.4 369.7,44.4 368.3,43.5 366.9,42.5 365.6,41.5 364.2,40.6 362.8,39.6 361.4,38.7 360.0,37.7 358.6,36.7 357.2,35.7 355.8,34.8 354.5,33.8 353.1,32.8 351.7,31.8 350.3,30.9 348.9,29.9 347.5,28.9 346.1,28.0 344.8,27.0 343.4,26.0 342.0,25.1 340.6,24.1 339.2,23.2 337.8,22.3 336.4,21.4 335.0,20.5 333.7,19.6 332.3,18.7 330.9,17.8 329.5,16.6" fill="#5aa83a" fill-opacity="0.2"/>
<polygon points="329.5,16.6 330.9,17.3 332.3,18.2 333.7,19.0 335.0,19.9 336.4,20.8 337.8,21.7 339.2,22.6 340.6,23.5 342.0,24.3 343.4,25.2 344.8,26.1 346.1,27.0 347.5,27.9 348.9,28.8 350.3,29.6 351.7,30.5 353.1,31.4 354.5,32.4 355.8,33.3 357.2,34.2 358.6,35.1 360.0,36.0 361.4,36.9 362.8,37.8 364.2,38.7 365.6,39.6 366.9,40.5 368.3,41.4 369.7,42.3 371.1,43.2 372.5,44.1 373.9,44.9 375.3,45.8 376.6,46.7 378.0,47.5 379.4,48.4 380.8,49.2 382.2,50.0 383.6,50.8 385.0,51.6 386.3,52.4 387.7,53.1 389.1,53.8 390.5,54.5 391.9,55.3 393.3,56.0 394.7,56.7 396.1,57.4 397.4,58.0 398.8,58.8 400.2,59.5 401.6,60.1 403.0,60.8 404.4,61.5 405.8,62.1 407.1,62.7 408.5,63.3 409.9,64.0 411.3,64.6 412.7,65.3 414.1,65.9 415.5,66.5 416.9,67.1 418.2,67.7 419.6,68.2 421.0,68.8 422.4,69.3 423.8,69.8 425.2,70.3 426.6,70.8 427.9,71.3 429.3,71.7 430.7,72.1 432.1,72.5 433.5,72.9 434.9,73.3 436.3,73.6 437.7,74.0 439.0,74.3 440.4,74.6 441.8,74.9 443.2,75.2 444.6,75.4 446.0,75.7 447.4,75.9 448.7,76.2 450.1,76.4 451.5,76.6 452.9,76.8 454.3,77.0 455.7,77.1 457.1,77.3 458.4,77.5 459.8,77.6 461.2,77.8 462.6,77.9 464.0,78.1 465.4,78.2 466.8,78.3 468.2,78.5 469.5,78.6 470.9,78.7 472.3,78.8 473.7,78.9 475.1,79.0 476.5,79.1 477.9,79.1 479.2,79.2 480.6,79.3 482.0,79.3 483.4,79.4 484.8,79.4 486.2,79.4 487.6,79.5 489.0,79.5 490.3,79.5 491.7,79.5 493.1,79.5 494.5,79.5 494.5,94.8 493.1,94.4 491.7,94.0 490.3,93.6 489.0,93.2 487.6,92.9 486.2,92.5 484.8,92.1 483.4,91.8 482.0,91.4 480.6,91.0 479.2,90.7 477.9,90.3 476.5,89.9 475.1,89.6 473.7,89.3 472.3,88.9 470.9,88.6 469.5,88.3 468.2,88.0 466.8,87.7 465.4,87.4 464.0,87.1 462.6,86.8 461.2,86.5 459.8,86.2 458.4,85.9 457.1,85.7 455.7,85.4 454.3,85.1 452.9,84.8 451.5,84.5 450.1,84.2 448.7,83.9 447.4,83.6 446.0,83.2 444.6,82.9 443.2,82.6 441.8,82.2 440.4,81.9 439.0,81.5 437.7,81.1 436.3,80.7 434.9,80.3 433.5,79.9 432.1,79.5 430.7,79.0 429.3,78.6 427.9,78.1 426.6,77.6 425.2,77.1 423.8,76.6 422.4,76.1 421.0,75.5 419.6,74.9 418.2,74.4 416.9,73.7 415.5,73.1 414.1,72.5 412.7,71.8 411.3,71.1 409.9,70.4 408.5,69.7 407.1,68.9 405.8,68.1 404.4,67.3 403.0,66.4 401.6,65.5 400.2,64.6 398.8,63.8 397.4,62.9 396.1,62.0 394.7,61.1 393.3,60.2 391.9,59.2 390.5,58.3 389.1,57.4 387.7,56.5 386.3,55.5 385.0,54.6 383.6,53.7 382.2,52.7 380.8,51.8 379.4,50.8 378.0,49.9 376.6,49.0 375.3,48.0 373.9,47.1 372.5,46.1 371.1,45.2 369.7,44.2 368.3,43.3 366.9,42.3 365.6,41.4 364.2,40.4 362.8,39.5 361.4,38.5 360.0,37.5 358.6,36.6 357.2,35.6 355.8,34.6 354.5,33.7 353.1,32.7 351.7,31.7 350.3,30.8 348.9,29.8 347.5,28.8 346.1,27.9 344.8,26.9 343.4,26.0 342.0,25.0 340.6,24.1 339.2,23.1 337.8,22.2 336.4,21.3 335.0,20.4 333.7,19.5 332.3,18.6 330.9,17.8 329.5,16.6" fill="#5aa83a" fill-opacity="0.2"/>
<polygon points="329.5,16.6 330.9,17.3 332.3,18.2 333.7,19.1 335.0,20.0 336.4,20.9 337.8,21.8 339.2,22.6 340.6,23.5 342.0,24.4 343.4,25.3 344.8,26.2 346.1,27.1 347.5,28.0 348.9,28.9 350.3,29.8 351.7,30.7 353.1,31.6 354.5,32.5 355.8,33.4 357.2,34.3 358.6,35.2 360.0,36.2 361.4,37.1 362.8,38.0 364.2,38.9 365.6,39.8 366.9,40.7 368.3,41.6 369.7,42.5 371.1,43.4 372.5,44.3 373.9,45.2 375.3,46.0 376.6,46.9 378.0,47.8 379.4,48.6 380.8,49.5 382.2,50.3 383.6,51.1 385.0,51.9 386.3,52.7 387.7,53.4 389.1,54.2 390.5,54.9 391.9,55.7 393.3,56.4 394.7,57.1 396.1,57.8 397.4,58.5 398.8,59.3 400.2,60.0 401.6,60.7 403.0,61.4 404.4,62.0 405.8,62.7 407.1,63.3 408.5,64.0 409.9,64.6 411.3,65.3 412.7,65.9 414.1,66.6 415.5,67.2 416.9,67.8 418.2,68.3 419.6,68.9 421.0,69.4 422.4,70.0 423.8,70.5 425.2,71.0 426.6,71.5 427.9,71.9 429.3,72.4 430.7,72.8 432.1,73.2 433.5,73.6 434.9,74.0 436.3,74.4 437.7,74.7 439.0,75.0 440.4,75.3 441.8,75.6 443.2,75.9 444.6,76.2 446.0,76.4 447.4,76.7 448.7,76.9 450.1,77.2 451.5,77.4 452.9,77.6 454.3,77.8 455.7,78.0 457.1,78.1 458.4,78.3 459.8,78.5 461.2,78.6 462.6,78.8 464.0,79.0 465.4,79.1 466.8,79.3 468.2,79.4 469.5,79.5 470.9,79.7 472.3,79.8 473.7,79.9 475.1,80.0 476.5,80.1 477.9,80.3 479.2,80.4 480.6,80.4 482.0,80.5 483.4,80.6 484.8,80.7 486.2,80.8 487.6,80.8 489.0,80.9 490.3,80.9 491.7,81.0 493.1,81.0 494.5,81.1 494.5,93.2 493.1,92.9 491.7,92.6 490.3,92.2 489.0,91.9 487.6,91.5 486.2,91.2 484.8,90.9 483.4,90.5 482.0,90.2 480.6,89.8 479.2,89.5 477.9,89.2 476.5,88.9 475.1,88.5 473.7,88.2 472.3,87.9 470.9,87.6 469.5,87.3 468.2,87.0 466.8,86.7 465.4,86.5 464.0,86.2 462.6,85.9 461.2,85.6 459.8,85.4 458.4,85.1 457.1,84.8 455.7,84.6 454.3,84.3 452.9,84.0 451.5,83.7 450.1,83.4 448.7,83.1 447.4,82.8 446.0,82.5 444.6,82.2 443.2,81.8 441.8,81.5 440.4,81.1 439.0,80.8 437.7,80.4 436.3,80.0 434.9,79.6 433.5,79.2 432.1,78.8 430.7,78.3 429.3,77.9 427.9,77.4 426.6,77.0 425.2,76.5 423.8,75.9 422.4,75.4 421.0,74.8 419.6,74.3 418.2,73.7 416.9,73.1 415.5,72.5 414.1,71.8 412.7,71.2 411.3,70.5 409.9,69.8 408.5,69.0 407.1,68.3 405.8,67.5 404.4,66.7 403.0,65.8 401.6,65.0 400.2,64.1 398.8,63.3 397.4,62.4 396.1,61.5 394.7,60.6 393.3,59.7 391.9,58.8 390.5,57.9 389.1,57.0 387.7,56.1 386.3,55.2 385.0,54.3 383.6,53.4 382.2,52.4 380.8,51.5 379.4,50.6 378.0,49.7 376.6,48.7 375.3,47.8 373.9,46.9 372.5,45.9 371.1,45.0 369.7,44.0 368.3,43.1 366.9,42.1 365.6,41.2 364.2,40.2 362.8,39.3 361.4,38.3 360.0,37.4 358.6,36.4 357.2,35.5 355.8,34.5 354.5,33.5 353.1,32.6 351.7,31.6 350.3,30.7 348.9,29.7 347.5,28.7 346.1,27.8 344.8,26.8 343.4,25.9 342.0,24.9 340.6,24.0 339.2,23.1 337.8,22.2 336.4,21.3 335.0,20.4 333.7,19.5 332.3,18.6 330.9,17.7 329.5,16.6" fill="#5aa83a" fill-opacity="0.2"/>
<polygon points="329.5,16.6 330.9,17.4 332.3,18.3 333.7,19.1 335.0,20.0 336.4,20.9 337.8,21.8 339.2,22.7 340.6,23.6 342.0,24.5 343.4,25.4 344.8,26.3 346.1,27.2 347.5,28.1 348.9,29.0 350.3,29.9 351.7,30.8 353.1,31.7 354.5,32.6 355.8,33.5 357.2,34.5 358.6,35.4 360.0,36.3 361.4,37.2 362.8,38.1 364.2,39.1 365.6,40.0 366.9,40.9 368.3,41.8 369.7,42.7 371.1,43.6 372.5,44.5 373.9,45.4 375.3,46.2 376.6,47.1 378.0,48.0 379.4,48.9 380.8,49.7 382.2,50.6 383.6,51.4 385.0,52.2 386.3,53.0 387.7,53.8 389.1,54.5 390.5,55.3 391.9,56.1 393.3,56.8 394.7,57.5 396.1,58.3 397.4,59.0 398.8,59.8 400.2,60.5 401.6,61.2 403.0,61.9 404.4,62.6 405.8,63.3 407.1,64.0 408.5,64.6 409.9,65.3 411.3,65.9 412.7,66.6 414.1,67.2 415.5,67.8 416.9,68.4 418.2,69.0 419.6,69.6 421.0,70.1 422.4,70.7 423.8,71.2 425.2,71.7 426.6,72.2 427.9,72.6 429.3,73.1 430.7,73.5 432.1,73.9 433.5,74.3 434.9,74.7 436.3,75.1 437.7,75.4 439.0,75.7 440.4,76.1 441.8,76.4 443.2,76.7 444.6,76.9 446.0,77.2 447.4,77.5 448.7,77.7 450.1,77.9 451.5,78.2 452.9,78.4 454.3,78.6 455.7,78.8 457.1,79.0 458.4,79.2 459.8,79.3 461.2,79.5 462.6,79.7 464.0,79.9 465.4,80.0 466.8,80.2 468.2,80.4 469.5,80.5 470.9,80.7 472.3,80.8 473.7,81.0 475.1,81.1 476.5,81.2 477.9,81.4 479.2,81.5 480.6,81.6 482.0,81.7 483.4,81.9 484.8,82.0 486.2,82.1 487.6,82.2 489.0,82.2 490.3,82.3 491.7,82.4 493.1,82.5 494.5,82.6 494.5,91.7 493.1,91.4 491.7,91.1 490.3,90.8 489.0,90.5 487.6,90.2 486.2,89.9 484.8,89.6 483.4,89.3 482.0,89.0 480.6,88.7 479.2,88.4 477.9,88.1 476.5,87.8 475.1,87.5 473.7,87.2 472.3,86.9 470.9,86.6 469.5,86.3 468.2,86.1 466.8,85.8 465.4,85.5 464.0,85.3 462.6,85.0 461.2,84.8 459.8,84.5 458.4,84.2 457.1,84.0 455.7,83.7 454.3,83.5 452.9,83.2 451.5,82.9 450.1,82.6 448.7,82.3 447.4,82.0 446.0,81.7 444.6,81.4 443.2,81.1 441.8,80.8 440.4,80.4 439.0,80.1 437.7,79.7 436.3,79.3 434.9,78.9 433.5,78.5 432.1,78.1 430.7,77.7 429.3,77.2 427.9,76.8 426.6,76.3 425.2,75.8 423.8,75.3 422.4,74.7 421.0,74.2 419.6,73.6 418.2,73.0 416.9,72.4 415.5,71.8 414.1,71.2 412.7,70.5 411.3,69.8 409.9,69.1 408.5,68.4 407.1,67.7 405.8,66.9 404.4,66.1 403.0,65.3 401.6,64.4 400.2,63.6 398.8,62.8 397.4,61.9 396.1,61.0 394.7,60.2 393.3,59.3 391.9,58.4 390.5,57.6 389.1,56.7 387.7,55.8 386.3,54.9 385.0,54.0 383.6,53.1 382.2,52.2 380.8,51.3 379.4,50.3 378.0,49.4 376.6,48.5 375.3,47.6 373.9,46.6 372.5,45.7 371.1,44.8 369.7,43.8 368.3,42.9 366.9,42.0 365.6,41.0 364.2,40.1 362.8,39.1 361.4,38.2 360.0,37.2 358.6,36.3 357.2,35.3 355.8,34.4 354.5,33.4 353.1,32.4 351.7,31.5 350.3,30.5 348.9,29.6 347.5,28.6 346.1,27.7 344.8,26.8 343.4,25.8 342.0,24.9 340.6,23.9 339.2,23.0 337.8,22.1 336.4,21.2 335.0,20.3 333.7,19.4 332.3,18.5 330.9,17.7 329.5,16.6" fill="#5aa83a" fill-opacity="0.2"/>
<polygon points="329.5,16.6 330.9,17.4 332.3,18.3 333.7,19.2 335.0,20.1 336.4,21.0 337.8,21.9 339.2,22.7 340.6,23.6 342.0,24.5 343.4,25.4 344.8,26.3 346.1,27.2 347.5,28.2 348.9,29.1 350.3,30.0 351.7,30.9 353.1,31.8 354.5,32.7 355.8,33.7 357.2,34.6 358.6,35.5 360.0,36.5 361.4,37.4 362.8,38.3 364.2,39.2 365.6,40.1 366.9,41.1 368.3,42.0 369.7,42.9 371.1,43.8 372.5,44.7 373.9,45.6 375.3,46.5 376.6,47.4 378.0,48.2 379.4,49.1 380.8,50.0 382.2,50.8 383.6,51.7 385.0,52.5 386.3,53.3 387.7,54.1 389.1,54.9 390.5,55.7 391.9,56.5 393.3,57.2 394.7,58.0 396.1,58.7 397.4,59.5 398.8,60.3 400.2,61.0 401.6,61.8 403.0,62.5 404.4,63.2 405.8,63.9 407.1,64.6 408.5,65.2 409.9,65.9 411.3,66.6 412.7,67.2 414.1,67.9 415.5,68.5 416.9,69.1 418.2,69.7 419.6,70.2 421.0,70.8 422.4,71.3 423.8,71.9 425.2,72.4 426.6,72.9 427.9,73.3 429.3,73.8 430.7,74.2 432.1,74.6 433.5,75.0 434.9,75.4 436.3,75.8 437.7,76.1 439.0,76.5 440.4,76.8 441.8,77.1 443.2,77.4 444.6,77.7 446.0,78.0 447.4,78.2 448.7,78.5 450.1,78.7 451.5,79.0 452.9,79.2 454.3,79.4 455.7,79.6 457.1,79.8 458.4,80.0 459.8,80.2 461.2,80.4 462.6,80.6 464.0,80.8 465.4,81.0 466.8,81.1 468.2,81.3 469.5,81.5 470.9,81.7 472.3,81.8 473.7,82.0 475.1,82.2 476.5,82.3 477.9,82.5 479.2,82.6 480.6,82.8 482.0,82.9 483.4,83.1 484.8,83.2 486.2,83.4 487.6,83.5 489.0,83.6 490.3,83.7 491.7,83.9 493.1,84.0 494.5,84.1 494.5,90.2 493.1,89.9 491.7,89.7 490.3,89.4 489.0,89.1 487.6,88.9 486.2,88.6 484.8,88.3 483.4,88.0 482.0,87.8 480.6,87.5 479.2,87.2 477.9,87.0 476.5,86.7 475.1,86.4 473.7,86.1 472.3,85.9 470.9,85.6 469.5,85.4 468.2,85.1 466.8,84.9 465.4,84.6 464.0,84.4 462.6,84.1 461.2,83.9 459.8,83.6 458.4,83.4 457.1,83.2 455.7,82.9 454.3,82.7 452.9,82.4 451.5,82.1 450.1,81.9 448.7,81.6 447.4,81.3 446.0,81.0 444.6,80.7 443.2,80.3 441.8,80.0 440.4,79.7 439.0,79.3 437.7,79.0 436.3,78.6 434.9,78.2 433.5,77.8 432.1,77.4 430.7,77.0 429.3,76.5 427.9,76.1 426.6,75.6 425.2,75.1 423.8,74.6 422.4,74.0 421.0,73.5 419.6,72.9 418.2,72.3 416.9,71.8 415.5,71.1 414.1,70.5 412.7,69.8 411.3,69.2 409.9,68.5 408.5,67.8 407.1,67.0 405.8,66.3 404.4,65.5 403.0,64.7 401.6,63.9 400.2,63.1 398.8,62.3 397.4,61.4 396.1,60.6 394.7,59.7 393.3,58.9 391.9,58.0 390.5,57.2 389.1,56.3 387.7,55.5 386.3,54.6 385.0,53.7 383.6,52.8 382.2,51.9 380.8,51.0 379.4,50.1 378.0,49.2 376.6,48.3 375.3,47.3 373.9,46.4 372.5,45.5 371.1,44.6 369.7,43.7 368.3,42.7 366.9,41.8 365.6,40.8 364.2,39.9 362.8,39.0 361.4,38.0 360.0,37.1 358.6,36.1 357.2,35.2 355.8,34.2 354.5,33.3 353.1,32.3 351.7,31.4 350.3,30.4 348.9,29.5 347.5,28.5 346.1,27.6 344.8,26.7 343.4,25.7 342.0,24.8 340.6,23.9 339.2,23.0 337.8,22.1 336.4,21.2 335.0,20.3 333.7,19.4 332.3,18.5 330.9,17.6 329.5,16.6" fill="#5aa83a" fill-opacity="0.2"/>
<polygon points="329.5,16.6 330.9,17.5 332.3,18.4 333.7,19.2 335.0,20.1 336.4,21.0 337.8,21.9 339.2,22.8 340.6,23.7 342.0,24.6 343.4,25.5 344.8,26.4 346.1,27.3 347.5,28.3 348.9,29.2 350.3,30.1 351.7,31.0 353.1,31.9 354.5,32.9 355.8,33.8 357.2,34.7 358.6,35.7 360.0,36.6 361.4,37.5 362.8,38.5 364.2,39.4 365.6,40.3 366.9,41.2 368.3,42.2 369.7,43.1 371.1,44.0 372.5,44.9 373.9,45.8 375.3,46.7 376.6,47.6 378.0,48.5 379.4,49.4 380.8,50.2 382.2,51.1 383.6,52.0 385.0,52.8 386.3,53.6 387.7,54.4 389.1,55.3 390.5,56.1 391.9,56.9 393.3,57.6 394.7,58.4 396.1,59.2 397.4,60.0 398.8,60.8 400.2,61.5 401.6,62.3 403.0,63.0 404.4,63.8 405.8,64.5 407.1,65.2 408.5,65.9 409.9,66.6 411.3,67.2 412.7,67.9 414.1,68.5 415.5,69.2 416.9,69.8 418.2,70.3 419.6,70.9 421.0,71.5 422.4,72.0 423.8,72.5 425.2,73.0 426.6,73.5 427.9,74.0 429.3,74.5 430.7,74.9 432.1,75.3 433.5,75.7 434.9,76.1 436.3,76.5 437.7,76.8 439.0,77.2 440.4,77.5 441.8,77.8 443.2,78.1 444.6,78.4 446.0,78.7 447.4,79.0 448.7,79.3 450.1,79.5 451.5,79.8 452.9,80.0 454.3,80.2 455.7,80.4 457.1,80.6 458.4,80.9 459.8,81.1 461.2,81.3 462.6,81.5 464.0,81.7 465.4,81.9 466.8,82.1 468.2,82.3 469.5,82.5 470.9,82.7 472.3,82.8 473.7,83.0 475.1,83.2 476.5,83.4 477.9,83.6 479.2,83.8 480.6,84.0 482.0,84.2 483.4,84.3 484.8,84.5 486.2,84.7 487.6,84.8 489.0,85.0 490.3,85.2 491.7,85.3 493.1,85.5 494.5,85.6 494.5,88.7 493.1,88.4 491.7,88.2 490.3,88.0 489.0,87.7 487.6,87.5 486.2,87.3 484.8,87.0 483.4,86.8 482.0,86.6 480.6,86.3 479.2,86.1 477.9,85.8 476.5,85.6 475.1,85.3 473.7,85.1 472.3,84.9 470.9,84.6 469.5,84.4 468.2,84.2 466.8,83.9 465.4,83.7 464.0,83.5 462.6,83.3 461.2,83.0 459.8,82.8 458.4,82.6 457.1,82.3 455.7,82.1 454.3,81.8 452.9,81.6 451.5,81.3 450.1,81.1 448.7,80.8 447.4,80.5 446.0,80.2 444.6,79.9 443.2,79.6 441.8,79.3 440.4,79.0 439.0,78.6 437.7,78.3 436.3,77.9 434.9,77.5 433.5,77.1 432.1,76.7 430.7,76.3 429.3,75.8 427.9,75.4 426.6,74.9 425.2,74.4 423.8,73.9 422.4,73.4 421.0,72.8 419.6,72.3 418.2,71.7 416.9,71.1 415.5,70.5 414.1,69.8 412.7,69.2 411.3,68.5 409.9,67.8 408.5,67.1 407.1,66.4 405.8,65.7 404.4,64.9 403.0,64.2 401.6,63.4 400.2,62.6 398.8,61.8 397.4,60.9 396.1,60.1 394.7,59.3 393.3,58.5 391.9,57.6 390.5,56.8 389.1,56.0 387.7,55.1 386.3,54.3 385.0,53.4 383.6,52.5 382.2,51.6 380.8,50.7 379.4,49.9 378.0,48.9 376.6,48.0 375.3,47.1 373.9,46.2 372.5,45.3 371.1,44.4 369.7,43.5 368.3,42.5 366.9,41.6 365.6,40.7 364.2,39.7 362.8,38.8 361.4,37.9 360.0,36.9 358.6,36.0 357.2,35.0 355.8,34.1 354.5,33.1 353.1,32.2 351.7,31.3 350.3,30.3 348.9,29.4 347.5,28.4 346.1,27.5 344.8,26.6 343.4,25.7 342.0,24.7 340.6,23.8 339.2,22.9 337.8,22.0 336.4,21.1 335.0,20.2 333.7,19.3 332.3,18.5 330.9,17.6 329.5,16.6" fill="#5aa83a" fill-opacity="0.2"/>
<polyline points="329.50,16.65 330.89,17.52 332.27,18.40 333.66,19.29 335.05,20.17 336.43,21.06 337.82,21.96 339.21,22.86 340.59,23.76 341.98,24.67 343.37,25.58 344.75,26.50 346.14,27.42 347.53,28.35 348.91,29.28 350.30,30.20 351.68,31.13 353.07,32.07 354.46,33.01 355.84,33.95 357.23,34.89 358.62,35.83 360.00,36.77 361.39,37.71 362.78,38.64 364.16,39.57 365.55,40.50 366.94,41.42 368.32,42.35 369.71,43.27 371.10,44.19 372.48,45.10 373.87,46.00 375.26,46.91 376.64,47.81 378.03,48.71 379.42,49.61 380.80,50.49 382.19,51.37 383.58,52.24 384.96,53.10 386.35,53.94 387.74,54.78 389.12,55.61 390.51,56.43 391.89,57.25 393.28,58.06 394.67,58.86 396.05,59.66 397.44,60.46 398.83,61.26 400.21,62.05 401.60,62.83 402.99,63.60 404.37,64.36 405.76,65.09 407.15,65.81 408.53,66.51 409.92,67.20 411.31,67.88 412.69,68.54 414.08,69.19 415.47,69.82 416.85,70.42 418.24,71.01 419.63,71.58 421.01,72.14 422.40,72.69 423.79,73.22 425.17,73.73 426.56,74.22 427.95,74.69 429.33,75.14 430.72,75.58 432.11,76.00 433.49,76.41 434.88,76.80 436.26,77.18 437.65,77.54 439.04,77.89 440.42,78.23 441.81,78.56 443.20,78.87 444.58,79.17 445.97,79.47 447.36,79.75 448.74,80.02 450.13,80.29 451.52,80.55 452.90,80.79 454.29,81.03 455.68,81.26 457.06,81.48 458.45,81.70 459.84,81.92 461.22,82.14 462.61,82.36 464.00,82.58 465.38,82.79 466.77,83.01 468.16,83.22 469.54,83.43 470.93,83.64 472.32,83.85 473.70,84.07 475.09,84.29 476.47,84.50 477.86,84.72 479.25,84.93 480.63,85.15 482.02,85.36 483.41,85.57 484.79,85.77 486.18,85.97 487.57,86.17 488.95,86.37 490.34,86.57 491.73,86.76 493.11,86.96 494.50,87.15" fill="none" stroke="#4c9a2a" stroke-width="1.3"/>
<text x="7.40" y="205.20" font-size="11.6" text-anchor="start" font-weight="bold" fill="#000">A</text>
<line x1="55.25" y1="211.50" x2="55.25" y2="364.10" stroke="#1a1a1a" stroke-width="1.2"/>
<line x1="54.65" y1="363.50" x2="261.00" y2="363.50" stroke="#1a1a1a" stroke-width="1.2"/>
<line x1="52.25" y1="358.40" x2="55.25" y2="358.40" stroke="#1a1a1a" stroke-width="1.2"/>
<text x="48.90" y="361.40" font-size="9.0" text-anchor="end" font-weight="normal" fill="#1a1a1a" textLength="4.8" lengthAdjust="spacingAndGlyphs" stroke="#1a1a1a" stroke-width="0.14">0</text>
<line x1="52.25" y1="330.00" x2="55.25" y2="330.00" stroke="#1a1a1a" stroke-width="1.2"/>
<text x="48.90" y="333.00" font-size="9.0" text-anchor="end" font-weight="normal" fill="#1a1a1a" textLength="9.6" lengthAdjust="spacingAndGlyphs" stroke="#1a1a1a" stroke-width="0.14">20</text>
<line x1="52.25" y1="301.60" x2="55.25" y2="301.60" stroke="#1a1a1a" stroke-width="1.2"/>
<text x="48.90" y="304.60" font-size="9.0" text-anchor="end" font-weight="normal" fill="#1a1a1a" textLength="9.6" lengthAdjust="spacingAndGlyphs" stroke="#1a1a1a" stroke-width="0.14">40</text>
<line x1="52.25" y1="273.20" x2="55.25" y2="273.20" stroke="#1a1a1a" stroke-width="1.2"/>
<text x="48.90" y="276.20" font-size="9.0" text-anchor="end" font-weight="normal" fill="#1a1a1a" textLength="9.6" lengthAdjust="spacingAndGlyphs" stroke="#1a1a1a" stroke-width="0.14">60</text>
<line x1="52.25" y1="244.80" x2="55.25" y2="244.80" stroke="#1a1a1a" stroke-width="1.2"/>
<text x="48.90" y="247.80" font-size="9.0" text-anchor="end" font-weight="normal" fill="#1a1a1a" textLength="9.6" lengthAdjust="spacingAndGlyphs" stroke="#1a1a1a" stroke-width="0.14">80</text>
<line x1="52.25" y1="216.40" x2="55.25" y2="216.40" stroke="#1a1a1a" stroke-width="1.2"/>
<text x="48.90" y="219.40" font-size="9.0" text-anchor="end" font-weight="normal" fill="#1a1a1a" textLength="13.8" lengthAdjust="spacingAndGlyphs" stroke="#1a1a1a" stroke-width="0.14">100</text>
<line x1="62.70" y1="363.50" x2="62.70" y2="366.70" stroke="#1a1a1a" stroke-width="1.2"/>
<text x="62.70" y="377.60" font-size="8.3" text-anchor="middle" font-weight="normal" fill="#1a1a1a" stroke="#1a1a1a" stroke-width="0.14">0</text>
<line x1="81.80" y1="363.50" x2="81.80" y2="366.70" stroke="#1a1a1a" stroke-width="1.2"/>
<text x="81.80" y="377.60" font-size="8.3" text-anchor="middle" font-weight="normal" fill="#1a1a1a" stroke="#1a1a1a" stroke-width="0.14">2</text>
<line x1="100.90" y1="363.50" x2="100.90" y2="366.70" stroke="#1a1a1a" stroke-width="1.2"/>
<text x="100.90" y="377.60" font-size="8.3" text-anchor="middle" font-weight="normal" fill="#1a1a1a" stroke="#1a1a1a" stroke-width="0.14">4</text>
<line x1="120.00" y1="363.50" x2="120.00" y2="366.70" stroke="#1a1a1a" stroke-width="1.2"/>
<text x="120.00" y="377.60" font-size="8.3" text-anchor="middle" font-weight="normal" fill="#1a1a1a" stroke="#1a1a1a" stroke-width="0.14">6</text>
<line x1="139.10" y1="363.50" x2="139.10" y2="366.70" stroke="#1a1a1a" stroke-width="1.2"/>
<text x="139.10" y="377.60" font-size="8.3" text-anchor="middle" font-weight="normal" fill="#1a1a1a" stroke="#1a1a1a" stroke-width="0.14">8</text>
<line x1="158.20" y1="363.50" x2="158.20" y2="366.70" stroke="#1a1a1a" stroke-width="1.2"/>
<text x="158.20" y="377.60" font-size="8.3" text-anchor="middle" font-weight="normal" fill="#1a1a1a" stroke="#1a1a1a" stroke-width="0.14">10</text>
<line x1="177.30" y1="363.50" x2="177.30" y2="366.70" stroke="#1a1a1a" stroke-width="1.2"/>
<text x="177.30" y="377.60" font-size="8.3" text-anchor="middle" font-weight="normal" fill="#1a1a1a" stroke="#1a1a1a" stroke-width="0.14">12</text>
<line x1="196.40" y1="363.50" x2="196.40" y2="366.70" stroke="#1a1a1a" stroke-width="1.2"/>
<text x="196.40" y="377.60" font-size="8.3" text-anchor="middle" font-weight="normal" fill="#1a1a1a" stroke="#1a1a1a" stroke-width="0.14">14</text>
<line x1="215.50" y1="363.50" x2="215.50" y2="366.70" stroke="#1a1a1a" stroke-width="1.2"/>
<text x="215.50" y="377.60" font-size="8.3" text-anchor="middle" font-weight="normal" fill="#1a1a1a" stroke="#1a1a1a" stroke-width="0.14">16</text>
<line x1="234.60" y1="363.50" x2="234.60" y2="366.70" stroke="#1a1a1a" stroke-width="1.2"/>
<text x="234.60" y="377.60" font-size="8.3" text-anchor="middle" font-weight="normal" fill="#1a1a1a" stroke="#1a1a1a" stroke-width="0.14">18</text>
<line x1="253.70" y1="363.50" x2="253.70" y2="366.70" stroke="#1a1a1a" stroke-width="1.2"/>
<text x="253.70" y="377.60" font-size="8.3" text-anchor="middle" font-weight="normal" fill="#1a1a1a" stroke="#1a1a1a" stroke-width="0.14">20</text>
<text x="158.30" y="391.00" font-size="10.2" text-anchor="middle" font-weight="normal" fill="#1a1a1a" textLength="17.8" lengthAdjust="spacingAndGlyphs" stroke="#1a1a1a" stroke-width="0.14">Years</text>
<text transform="translate(29.2,278.3) rotate(-90)" font-size="10.2" text-anchor="middle" fill="#1a1a1a" textLength="90.7" lengthAdjust="spacingAndGlyphs">Time to first treatment (%)</text>
<path d="M62.70,216.40 H66.20 V217.80 H71.50 V219.70 H75.40 V222.00 H77.30 V223.50 H79.20 V225.00 H80.75 V226.95 H82.30 V228.90 H83.80 V230.50 H86.90 V232.00 H90.80 V233.20 H93.80 V234.70 H95.60 V236.60 H96.55 V238.35 H97.50 V240.10 H99.05 V241.35 H100.60 V242.60 H102.50 V244.50 H103.10 V247.60 H103.75 V252.00 H104.67 V253.88 H105.60 V255.75 H106.23 V257.20 H106.87 V258.65 H107.50 V260.10 H109.40 V262.00 H110.00 V269.50 H115.60 V269.50 H116.25 V270.75 H116.90 V272.00 H118.10 V273.90 H126.25 V273.90 H126.88 V275.15 H127.50 V276.40 H130.00 V277.60 H130.95 V279.50 H131.90 V281.40 H135.00 V283.25 H136.25 V284.50 H137.50 V285.75 H147.50 V285.75 H148.35 V287.57 H149.20 V289.40 H150.13 V290.77 H151.07 V292.13 H152.00 V293.50 H152.43 V295.00 H152.87 V296.50 H153.30 V298.00 H243.30 V298.00" fill="none" stroke="#5ca238" stroke-width="1.4"/>
<line x1="66.00" y1="214.60" x2="66.00" y2="218.20" stroke="#5ca238" stroke-width="1.1"/>
<line x1="70.00" y1="216.00" x2="70.00" y2="219.60" stroke="#5ca238" stroke-width="1.1"/>
<line x1="74.00" y1="217.90" x2="74.00" y2="221.50" stroke="#5ca238" stroke-width="1.1"/>
<line x1="78.00" y1="221.70" x2="78.00" y2="225.30" stroke="#5ca238" stroke-width="1.1"/>
<line x1="82.00" y1="225.15" x2="82.00" y2="228.75" stroke="#5ca238" stroke-width="1.1"/>
<line x1="86.00" y1="228.70" x2="86.00" y2="232.30" stroke="#5ca238" stroke-width="1.1"/>
<line x1="90.00" y1="230.20" x2="90.00" y2="233.80" stroke="#5ca238" stroke-width="1.1"/>
<line x1="94.00" y1="232.90" x2="94.00" y2="236.50" stroke="#5ca238" stroke-width="1.1"/>
<line x1="98.00" y1="238.30" x2="98.00" y2="241.90" stroke="#5ca238" stroke-width="1.1"/>
<line x1="102.00" y1="240.80" x2="102.00" y2="244.40" stroke="#5ca238" stroke-width="1.1"/>
<line x1="106.00" y1="253.95" x2="106.00" y2="257.55" stroke="#5ca238" stroke-width="1.1"/>
<line x1="110.00" y1="267.70" x2="110.00" y2="271.30" stroke="#5ca238" stroke-width="1.1"/>
<line x1="112.00" y1="267.70" x2="112.00" y2="271.30" stroke="#5ca238" stroke-width="1.1"/>
<line x1="118.00" y1="270.20" x2="118.00" y2="273.80" stroke="#5ca238" stroke-width="1.1"/>
<line x1="121.00" y1="272.10" x2="121.00" y2="275.70" stroke="#5ca238" stroke-width="1.1"/>
<line x1="124.00" y1="272.10" x2="124.00" y2="275.70" stroke="#5ca238" stroke-width="1.1"/>
<line x1="133.00" y1="279.60" x2="133.00" y2="283.20" stroke="#5ca238" stroke-width="1.1"/>
<line x1="140.00" y1="283.95" x2="140.00" y2="287.55" stroke="#5ca238" stroke-width="1.1"/>
<line x1="143.00" y1="283.95" x2="143.00" y2="287.55" stroke="#5ca238" stroke-width="1.1"/>
<line x1="146.00" y1="283.95" x2="146.00" y2="287.55" stroke="#5ca238" stroke-width="1.1"/>
<line x1="153.75" y1="296.20" x2="153.75" y2="299.80" stroke="#5ca238" stroke-width="1.1"/>
<line x1="160.00" y1="296.20" x2="160.00" y2="299.80" stroke="#5ca238" stroke-width="1.1"/>
<line x1="163.75" y1="296.20" x2="163.75" y2="299.80" stroke="#5ca238" stroke-width="1.1"/>
<line x1="172.50" y1="296.20" x2="172.50" y2="299.80" stroke="#5ca238" stroke-width="1.1"/>
<line x1="173.75" y1="296.20" x2="173.75" y2="299.80" stroke="#5ca238" stroke-width="1.1"/>
<line x1="181.25" y1="296.20" x2="181.25" y2="299.80" stroke="#5ca238" stroke-width="1.1"/>
<line x1="186.25" y1="296.20" x2="186.25" y2="299.80" stroke="#5ca238" stroke-width="1.1"/>
<line x1="202.70" y1="296.20" x2="202.70" y2="299.80" stroke="#5ca238" stroke-width="1.1"/>
<line x1="205.30" y1="296.20" x2="205.30" y2="299.80" stroke="#5ca238" stroke-width="1.1"/>
<line x1="214.50" y1="296.20" x2="214.50" y2="299.80" stroke="#5ca238" stroke-width="1.1"/>
<line x1="241.70" y1="296.20" x2="241.70" y2="299.80" stroke="#5ca238" stroke-width="1.1"/>
<path d="M62.70,216.40 H68.50 V216.60 H71.50 V217.80 H75.40 V219.30 H80.00 V221.20 H83.10 V222.80 H86.90 V223.50 H92.30 V224.30 H94.60 V225.50 H100.10 V226.30 H109.40 V226.30 H111.50 V227.90 H114.60 V228.90 H118.80 V230.50 H120.30 V232.00 H128.10 V232.00 H129.20 V233.60 H131.20 V235.10 H132.30 V236.70 H140.60 V236.70 H141.60 V239.30 H162.00 V239.30 H163.00 V243.65 H164.90 V243.65 H164.90 V248.90 H193.10 V248.90 H193.10 V270.70 H233.60 V270.70" fill="none" stroke="#2a4a85" stroke-width="1.4"/>
<line x1="66.00" y1="214.60" x2="66.00" y2="218.20" stroke="#2a4a85" stroke-width="1.1"/>
<line x1="69.00" y1="214.80" x2="69.00" y2="218.40" stroke="#2a4a85" stroke-width="1.1"/>
<line x1="72.00" y1="216.00" x2="72.00" y2="219.60" stroke="#2a4a85" stroke-width="1.1"/>
<line x1="75.00" y1="216.00" x2="75.00" y2="219.60" stroke="#2a4a85" stroke-width="1.1"/>
<line x1="78.00" y1="217.50" x2="78.00" y2="221.10" stroke="#2a4a85" stroke-width="1.1"/>
<line x1="81.00" y1="219.40" x2="81.00" y2="223.00" stroke="#2a4a85" stroke-width="1.1"/>
<line x1="84.00" y1="221.00" x2="84.00" y2="224.60" stroke="#2a4a85" stroke-width="1.1"/>
<line x1="87.00" y1="221.70" x2="87.00" y2="225.30" stroke="#2a4a85" stroke-width="1.1"/>
<line x1="90.00" y1="221.70" x2="90.00" y2="225.30" stroke="#2a4a85" stroke-width="1.1"/>
<line x1="93.00" y1="222.50" x2="93.00" y2="226.10" stroke="#2a4a85" stroke-width="1.1"/>
<line x1="96.00" y1="223.70" x2="96.00" y2="227.30" stroke="#2a4a85" stroke-width="1.1"/>
<line x1="99.00" y1="223.70" x2="99.00" y2="227.30" stroke="#2a4a85" stroke-width="1.1"/>
<line x1="102.00" y1="224.50" x2="102.00" y2="228.10" stroke="#2a4a85" stroke-width="1.1"/>
<line x1="105.00" y1="224.50" x2="105.00" y2="228.10" stroke="#2a4a85" stroke-width="1.1"/>
<line x1="108.00" y1="224.50" x2="108.00" y2="228.10" stroke="#2a4a85" stroke-width="1.1"/>
<line x1="111.00" y1="224.50" x2="111.00" y2="228.10" stroke="#2a4a85" stroke-width="1.1"/>
<line x1="114.00" y1="226.10" x2="114.00" y2="229.70" stroke="#2a4a85" stroke-width="1.1"/>
<line x1="117.00" y1="227.10" x2="117.00" y2="230.70" stroke="#2a4a85" stroke-width="1.1"/>
<line x1="120.00" y1="228.70" x2="120.00" y2="232.30" stroke="#2a4a85" stroke-width="1.1"/>
<line x1="123.00" y1="230.20" x2="123.00" y2="233.80" stroke="#2a4a85" stroke-width="1.1"/>
<line x1="126.00" y1="230.20" x2="126.00" y2="233.80" stroke="#2a4a85" stroke-width="1.1"/>
<line x1="129.00" y1="230.20" x2="129.00" y2="233.80" stroke="#2a4a85" stroke-width="1.1"/>
<line x1="132.00" y1="233.30" x2="132.00" y2="236.90" stroke="#2a4a85" stroke-width="1.1"/>
<line x1="135.00" y1="234.90" x2="135.00" y2="238.50" stroke="#2a4a85" stroke-width="1.1"/>
<line x1="138.00" y1="234.90" x2="138.00" y2="238.50" stroke="#2a4a85" stroke-width="1.1"/>
<line x1="141.00" y1="234.90" x2="141.00" y2="238.50" stroke="#2a4a85" stroke-width="1.1"/>
<line x1="144.00" y1="237.50" x2="144.00" y2="241.10" stroke="#2a4a85" stroke-width="1.1"/>
<line x1="147.00" y1="237.50" x2="147.00" y2="241.10" stroke="#2a4a85" stroke-width="1.1"/>
<line x1="150.00" y1="237.50" x2="150.00" y2="241.10" stroke="#2a4a85" stroke-width="1.1"/>
<line x1="153.00" y1="237.50" x2="153.00" y2="241.10" stroke="#2a4a85" stroke-width="1.1"/>
<line x1="156.00" y1="237.50" x2="156.00" y2="241.10" stroke="#2a4a85" stroke-width="1.1"/>
<line x1="159.00" y1="237.50" x2="159.00" y2="241.10" stroke="#2a4a85" stroke-width="1.1"/>
<line x1="151.40" y1="237.50" x2="151.40" y2="241.10" stroke="#2a4a85" stroke-width="1.1"/>
<line x1="154.30" y1="237.50" x2="154.30" y2="241.10" stroke="#2a4a85" stroke-width="1.1"/>
<line x1="155.30" y1="237.50" x2="155.30" y2="241.10" stroke="#2a4a85" stroke-width="1.1"/>
<line x1="159.10" y1="237.50" x2="159.10" y2="241.10" stroke="#2a4a85" stroke-width="1.1"/>
<line x1="161.50" y1="237.50" x2="161.50" y2="241.10" stroke="#2a4a85" stroke-width="1.1"/>
<line x1="169.20" y1="247.10" x2="169.20" y2="250.70" stroke="#2a4a85" stroke-width="1.1"/>
<line x1="170.20" y1="247.10" x2="170.20" y2="250.70" stroke="#2a4a85" stroke-width="1.1"/>
<line x1="173.60" y1="247.10" x2="173.60" y2="250.70" stroke="#2a4a85" stroke-width="1.1"/>
<line x1="176.00" y1="247.10" x2="176.00" y2="250.70" stroke="#2a4a85" stroke-width="1.1"/>
<line x1="181.25" y1="247.10" x2="181.25" y2="250.70" stroke="#2a4a85" stroke-width="1.1"/>
<line x1="184.10" y1="247.10" x2="184.10" y2="250.70" stroke="#2a4a85" stroke-width="1.1"/>
<line x1="186.50" y1="247.10" x2="186.50" y2="250.70" stroke="#2a4a85" stroke-width="1.1"/>
<line x1="190.40" y1="247.10" x2="190.40" y2="250.70" stroke="#2a4a85" stroke-width="1.1"/>
<line x1="194.00" y1="268.90" x2="194.00" y2="272.50" stroke="#2a4a85" stroke-width="1.1"/>
<line x1="197.50" y1="268.90" x2="197.50" y2="272.50" stroke="#2a4a85" stroke-width="1.1"/>
<line x1="218.80" y1="268.90" x2="218.80" y2="272.50" stroke="#2a4a85" stroke-width="1.1"/>
<line x1="232.70" y1="268.90" x2="232.70" y2="272.50" stroke="#2a4a85" stroke-width="1.1"/>
<path d="M62.70,216.40 H67.70 V216.60 H68.50 V222.80 H68.72 V224.34 H68.94 V225.88 H69.16 V227.42 H69.38 V228.96 H69.60 V230.50 H70.40 V239.20 H71.25 V240.85 H72.10 V242.50 H73.20 V244.80 H73.70 V251.50 H75.40 V253.70 H76.25 V255.10 H77.10 V256.50 H79.90 V257.60 H81.60 V259.30 H83.80 V259.90 H84.40 V263.80 H84.77 V265.30 H85.13 V266.80 H85.50 V268.30 H86.20 V273.90 H88.50 V276.20 H88.87 V277.87 H89.23 V279.53 H89.60 V281.20 H90.45 V282.85 H91.30 V284.50 H91.85 V286.20 H92.40 V287.90 H93.25 V289.60 H94.10 V291.30 H94.65 V292.95 H95.20 V294.60 H95.75 V296.30 H96.30 V298.00 H97.40 V299.40 H98.50 V300.80 H100.20 V301.90 H100.80 V304.10 H103.60 V305.20 H104.10 V308.30 H129.40 V308.30 H129.40 V312.10 H151.10 V312.10 H151.38 V313.78 H151.65 V315.45 H151.92 V317.12 H152.20 V318.80 H153.10 V326.80 H185.30 V326.80 H185.30 V342.30 H220.00 V342.30" fill="none" stroke="#a00024" stroke-width="1.4"/>
<line x1="126.50" y1="306.50" x2="126.50" y2="310.10" stroke="#a00024" stroke-width="1.1"/>
<line x1="137.20" y1="310.30" x2="137.20" y2="313.90" stroke="#a00024" stroke-width="1.1"/>
<line x1="140.10" y1="310.30" x2="140.10" y2="313.90" stroke="#a00024" stroke-width="1.1"/>
<line x1="146.50" y1="310.30" x2="146.50" y2="313.90" stroke="#a00024" stroke-width="1.1"/>
<line x1="148.20" y1="310.30" x2="148.20" y2="313.90" stroke="#a00024" stroke-width="1.1"/>
<line x1="158.00" y1="325.00" x2="158.00" y2="328.60" stroke="#a00024" stroke-width="1.1"/>
<line x1="173.00" y1="325.00" x2="173.00" y2="328.60" stroke="#a00024" stroke-width="1.1"/>
<line x1="219.50" y1="340.50" x2="219.50" y2="344.10" stroke="#a00024" stroke-width="1.1"/>
<text x="72.50" y="324.90" font-size="6.8" text-anchor="middle" font-weight="normal" fill="#1a1a1a" stroke="#1a1a1a" stroke-width="0.14">p</text>
<rect x="83.10" y="317.30" width="20.85" height="9.70" fill="#2c4a80"/>
<rect x="62.10" y="327.50" width="21.00" height="9.90" fill="#2c4a80"/>
<rect x="103.90" y="317.30" width="20.85" height="9.70" fill="#67a844"/>
<rect x="62.10" y="337.35" width="21.00" height="9.90" fill="#67a844"/>
<rect x="124.70" y="317.30" width="20.85" height="9.70" fill="#a60029"/>
<rect x="62.10" y="347.20" width="21.00" height="9.90" fill="#a60029"/>
<line x1="92.70" y1="332.40" x2="94.30" y2="332.40" stroke="#333" stroke-width="0.8"/>
<text x="114.30" y="334.60" font-size="6.3" text-anchor="middle" font-weight="normal" fill="#1a1a1a" textLength="16.1" lengthAdjust="spacingAndGlyphs" stroke="none">&lt;.001</text>
<text x="135.10" y="334.60" font-size="6.3" text-anchor="middle" font-weight="normal" fill="#1a1a1a" textLength="16.1" lengthAdjust="spacingAndGlyphs" stroke="none">&lt;.001</text>
<text x="93.50" y="344.45" font-size="6.3" text-anchor="middle" font-weight="normal" fill="#1a1a1a" textLength="16.1" lengthAdjust="spacingAndGlyphs" stroke="none">&lt;.001</text>
<line x1="113.50" y1="342.25" x2="115.10" y2="342.25" stroke="#333" stroke-width="0.8"/>
<text x="135.10" y="344.45" font-size="6.3" text-anchor="middle" font-weight="normal" fill="#1a1a1a" textLength="16.1" lengthAdjust="spacingAndGlyphs" stroke="none">&lt;.001</text>
<text x="93.50" y="354.30" font-size="6.3" text-anchor="middle" font-weight="normal" fill="#1a1a1a" textLength="16.1" lengthAdjust="spacingAndGlyphs" stroke="none">&lt;.001</text>
<text x="114.30" y="354.30" font-size="6.3" text-anchor="middle" font-weight="normal" fill="#1a1a1a" textLength="16.1" lengthAdjust="spacingAndGlyphs" stroke="none">&lt;.001</text>
<line x1="134.30" y1="352.10" x2="135.90" y2="352.10" stroke="#333" stroke-width="0.8"/>
<text x="19.80" y="403.00" font-size="7.8" text-anchor="start" font-weight="normal" fill="#1a1a1a" textLength="35.2" lengthAdjust="spacingAndGlyphs" stroke="#1a1a1a" stroke-width="0.25">No. at risk</text>
<line x1="44.00" y1="412.00" x2="52.30" y2="412.00" stroke="#2a4a85" stroke-width="1.4"/>
<text x="62.90" y="414.85" font-size="8.1" text-anchor="middle" font-weight="normal" fill="#1a1a1a" textLength="11.55" lengthAdjust="spacingAndGlyphs" stroke="#1a1a1a" stroke-width="0.14">171</text>
<text x="82.00" y="414.85" font-size="8.1" text-anchor="middle" font-weight="normal" fill="#1a1a1a" textLength="11.55" lengthAdjust="spacingAndGlyphs" stroke="#1a1a1a" stroke-width="0.14">145</text>
<text x="101.10" y="414.85" font-size="8.1" text-anchor="middle" font-weight="normal" fill="#1a1a1a" textLength="7.7" lengthAdjust="spacingAndGlyphs" stroke="#1a1a1a" stroke-width="0.14">95</text>
<text x="120.20" y="414.85" font-size="8.1" text-anchor="middle" font-weight="normal" fill="#1a1a1a" textLength="7.7" lengthAdjust="spacingAndGlyphs" stroke="#1a1a1a" stroke-width="0.14">66</text>
<text x="139.30" y="414.85" font-size="8.1" text-anchor="middle" font-weight="normal" fill="#1a1a1a" textLength="7.7" lengthAdjust="spacingAndGlyphs" stroke="#1a1a1a" stroke-width="0.14">47</text>
<text x="158.40" y="414.85" font-size="8.1" text-anchor="middle" font-weight="normal" fill="#1a1a1a" textLength="7.7" lengthAdjust="spacingAndGlyphs" stroke="#1a1a1a" stroke-width="0.14">30</text>
<text x="177.50" y="414.85" font-size="8.1" text-anchor="middle" font-weight="normal" fill="#1a1a1a" textLength="7.7" lengthAdjust="spacingAndGlyphs" stroke="#1a1a1a" stroke-width="0.14">12</text>
<text x="196.60" y="414.85" font-size="8.1" text-anchor="middle" font-weight="normal" fill="#1a1a1a" textLength="3.85" lengthAdjust="spacingAndGlyphs" stroke="#1a1a1a" stroke-width="0.14">3</text>
<text x="215.70" y="414.85" font-size="8.1" text-anchor="middle" font-weight="normal" fill="#1a1a1a" textLength="3.85" lengthAdjust="spacingAndGlyphs" stroke="#1a1a1a" stroke-width="0.14">2</text>
<text x="234.80" y="414.85" font-size="8.1" text-anchor="middle" font-weight="normal" fill="#1a1a1a" textLength="3.85" lengthAdjust="spacingAndGlyphs" stroke="#1a1a1a" stroke-width="0.14">0</text>
<line x1="253.00" y1="412.30" x2="254.80" y2="412.30" stroke="#333" stroke-width="0.9"/>
<line x1="44.00" y1="423.60" x2="52.30" y2="423.60" stroke="#5ca238" stroke-width="1.4"/>
<text x="62.90" y="426.45" font-size="8.1" text-anchor="middle" font-weight="normal" fill="#1a1a1a" textLength="11.55" lengthAdjust="spacingAndGlyphs" stroke="#1a1a1a" stroke-width="0.14">109</text>
<text x="82.00" y="426.45" font-size="8.1" text-anchor="middle" font-weight="normal" fill="#1a1a1a" textLength="7.7" lengthAdjust="spacingAndGlyphs" stroke="#1a1a1a" stroke-width="0.14">92</text>
<text x="101.10" y="426.45" font-size="8.1" text-anchor="middle" font-weight="normal" fill="#1a1a1a" textLength="7.7" lengthAdjust="spacingAndGlyphs" stroke="#1a1a1a" stroke-width="0.14">63</text>
<text x="120.20" y="426.45" font-size="8.1" text-anchor="middle" font-weight="normal" fill="#1a1a1a" textLength="7.7" lengthAdjust="spacingAndGlyphs" stroke="#1a1a1a" stroke-width="0.14">35</text>
<text x="139.30" y="426.45" font-size="8.1" text-anchor="middle" font-weight="normal" fill="#1a1a1a" textLength="7.7" lengthAdjust="spacingAndGlyphs" stroke="#1a1a1a" stroke-width="0.14">22</text>
<text x="158.40" y="426.45" font-size="8.1" text-anchor="middle" font-weight="normal" fill="#1a1a1a" textLength="7.7" lengthAdjust="spacingAndGlyphs" stroke="#1a1a1a" stroke-width="0.14">11</text>
<text x="177.50" y="426.45" font-size="8.1" text-anchor="middle" font-weight="normal" fill="#1a1a1a" textLength="3.85" lengthAdjust="spacingAndGlyphs" stroke="#1a1a1a" stroke-width="0.14">6</text>
<text x="196.60" y="426.45" font-size="8.1" text-anchor="middle" font-weight="normal" fill="#1a1a1a" textLength="3.85" lengthAdjust="spacingAndGlyphs" stroke="#1a1a1a" stroke-width="0.14">4</text>
<text x="215.70" y="426.45" font-size="8.1" text-anchor="middle" font-weight="normal" fill="#1a1a1a" textLength="3.85" lengthAdjust="spacingAndGlyphs" stroke="#1a1a1a" stroke-width="0.14">1</text>
<text x="234.80" y="426.45" font-size="8.1" text-anchor="middle" font-weight="normal" fill="#1a1a1a" textLength="3.85" lengthAdjust="spacingAndGlyphs" stroke="#1a1a1a" stroke-width="0.14">1</text>
<text x="253.90" y="426.45" font-size="8.1" text-anchor="middle" font-weight="normal" fill="#1a1a1a" textLength="3.85" lengthAdjust="spacingAndGlyphs" stroke="#1a1a1a" stroke-width="0.14">0</text>
<line x1="44.00" y1="435.20" x2="52.30" y2="435.20" stroke="#a00024" stroke-width="1.4"/>
<text x="62.90" y="438.05" font-size="8.1" text-anchor="middle" font-weight="normal" fill="#1a1a1a" textLength="7.7" lengthAdjust="spacingAndGlyphs" stroke="#1a1a1a" stroke-width="0.14">53</text>
<text x="82.00" y="438.05" font-size="8.1" text-anchor="middle" font-weight="normal" fill="#1a1a1a" textLength="7.7" lengthAdjust="spacingAndGlyphs" stroke="#1a1a1a" stroke-width="0.14">36</text>
<text x="101.10" y="438.05" font-size="8.1" text-anchor="middle" font-weight="normal" fill="#1a1a1a" textLength="7.7" lengthAdjust="spacingAndGlyphs" stroke="#1a1a1a" stroke-width="0.14">15</text>
<text x="120.20" y="438.05" font-size="8.1" text-anchor="middle" font-weight="normal" fill="#1a1a1a" textLength="7.7" lengthAdjust="spacingAndGlyphs" stroke="#1a1a1a" stroke-width="0.14">13</text>
<text x="139.30" y="438.05" font-size="8.1" text-anchor="middle" font-weight="normal" fill="#1a1a1a" textLength="7.7" lengthAdjust="spacingAndGlyphs" stroke="#1a1a1a" stroke-width="0.14">10</text>
<text x="158.40" y="438.05" font-size="8.1" text-anchor="middle" font-weight="normal" fill="#1a1a1a" textLength="3.85" lengthAdjust="spacingAndGlyphs" stroke="#1a1a1a" stroke-width="0.14">3</text>
<text x="177.50" y="438.05" font-size="8.1" text-anchor="middle" font-weight="normal" fill="#1a1a1a" textLength="3.85" lengthAdjust="spacingAndGlyphs" stroke="#1a1a1a" stroke-width="0.14">2</text>
<text x="196.60" y="438.05" font-size="8.1" text-anchor="middle" font-weight="normal" fill="#1a1a1a" textLength="3.85" lengthAdjust="spacingAndGlyphs" stroke="#1a1a1a" stroke-width="0.14">1</text>
<text x="215.70" y="438.05" font-size="8.1" text-anchor="middle" font-weight="normal" fill="#1a1a1a" textLength="3.85" lengthAdjust="spacingAndGlyphs" stroke="#1a1a1a" stroke-width="0.14">1</text>
<text x="234.80" y="438.05" font-size="8.1" text-anchor="middle" font-weight="normal" fill="#1a1a1a" textLength="3.85" lengthAdjust="spacingAndGlyphs" stroke="#1a1a1a" stroke-width="0.14">0</text>
<line x1="253.00" y1="435.50" x2="254.80" y2="435.50" stroke="#333" stroke-width="0.9"/>
<text x="276.80" y="205.30" font-size="11.6" text-anchor="start" font-weight="bold" fill="#000">C</text>
<line x1="323.20" y1="224.40" x2="323.20" y2="364.10" stroke="#1a1a1a" stroke-width="1.2"/>
<line x1="322.60" y1="363.50" x2="512.00" y2="363.50" stroke="#1a1a1a" stroke-width="1.2"/>
<line x1="320.20" y1="358.50" x2="323.20" y2="358.50" stroke="#1a1a1a" stroke-width="1.2"/>
<text x="317.00" y="361.00" font-size="9.0" text-anchor="end" font-weight="normal" fill="#1a1a1a" textLength="4.8" lengthAdjust="spacingAndGlyphs" stroke="#1a1a1a" stroke-width="0.14">0</text>
<line x1="320.20" y1="332.75" x2="323.20" y2="332.75" stroke="#1a1a1a" stroke-width="1.2"/>
<text x="317.00" y="335.25" font-size="9.0" text-anchor="end" font-weight="normal" fill="#1a1a1a" textLength="9.6" lengthAdjust="spacingAndGlyphs" stroke="#1a1a1a" stroke-width="0.14">20</text>
<line x1="320.20" y1="307.00" x2="323.20" y2="307.00" stroke="#1a1a1a" stroke-width="1.2"/>
<text x="317.00" y="309.50" font-size="9.0" text-anchor="end" font-weight="normal" fill="#1a1a1a" textLength="9.6" lengthAdjust="spacingAndGlyphs" stroke="#1a1a1a" stroke-width="0.14">40</text>
<line x1="320.20" y1="281.25" x2="323.20" y2="281.25" stroke="#1a1a1a" stroke-width="1.2"/>
<text x="317.00" y="283.75" font-size="9.0" text-anchor="end" font-weight="normal" fill="#1a1a1a" textLength="9.6" lengthAdjust="spacingAndGlyphs" stroke="#1a1a1a" stroke-width="0.14">60</text>
<line x1="320.20" y1="255.50" x2="323.20" y2="255.50" stroke="#1a1a1a" stroke-width="1.2"/>
<text x="317.00" y="258.00" font-size="9.0" text-anchor="end" font-weight="normal" fill="#1a1a1a" textLength="9.6" lengthAdjust="spacingAndGlyphs" stroke="#1a1a1a" stroke-width="0.14">80</text>
<line x1="320.20" y1="229.75" x2="323.20" y2="229.75" stroke="#1a1a1a" stroke-width="1.2"/>
<text x="317.00" y="232.25" font-size="9.0" text-anchor="end" font-weight="normal" fill="#1a1a1a" textLength="13.8" lengthAdjust="spacingAndGlyphs" stroke="#1a1a1a" stroke-width="0.14">100</text>
<line x1="330.00" y1="363.50" x2="330.00" y2="366.70" stroke="#1a1a1a" stroke-width="1.2"/>
<text x="330.00" y="377.40" font-size="8.3" text-anchor="middle" font-weight="normal" fill="#1a1a1a" stroke="#1a1a1a" stroke-width="0.14">0</text>
<line x1="349.44" y1="363.50" x2="349.44" y2="366.70" stroke="#1a1a1a" stroke-width="1.2"/>
<text x="349.44" y="377.40" font-size="8.3" text-anchor="middle" font-weight="normal" fill="#1a1a1a" stroke="#1a1a1a" stroke-width="0.14">2</text>
<line x1="368.88" y1="363.50" x2="368.88" y2="366.70" stroke="#1a1a1a" stroke-width="1.2"/>
<text x="368.88" y="377.40" font-size="8.3" text-anchor="middle" font-weight="normal" fill="#1a1a1a" stroke="#1a1a1a" stroke-width="0.14">4</text>
<line x1="388.32" y1="363.50" x2="388.32" y2="366.70" stroke="#1a1a1a" stroke-width="1.2"/>
<text x="388.32" y="377.40" font-size="8.3" text-anchor="middle" font-weight="normal" fill="#1a1a1a" stroke="#1a1a1a" stroke-width="0.14">6</text>
<line x1="407.76" y1="363.50" x2="407.76" y2="366.70" stroke="#1a1a1a" stroke-width="1.2"/>
<text x="407.76" y="377.40" font-size="8.3" text-anchor="middle" font-weight="normal" fill="#1a1a1a" stroke="#1a1a1a" stroke-width="0.14">8</text>
<line x1="427.20" y1="363.50" x2="427.20" y2="366.70" stroke="#1a1a1a" stroke-width="1.2"/>
<text x="427.20" y="377.40" font-size="8.3" text-anchor="middle" font-weight="normal" fill="#1a1a1a" stroke="#1a1a1a" stroke-width="0.14">10</text>
<line x1="446.64" y1="363.50" x2="446.64" y2="366.70" stroke="#1a1a1a" stroke-width="1.2"/>
<text x="446.64" y="377.40" font-size="8.3" text-anchor="middle" font-weight="normal" fill="#1a1a1a" stroke="#1a1a1a" stroke-width="0.14">12</text>
<line x1="466.08" y1="363.50" x2="466.08" y2="366.70" stroke="#1a1a1a" stroke-width="1.2"/>
<text x="466.08" y="377.40" font-size="8.3" text-anchor="middle" font-weight="normal" fill="#1a1a1a" stroke="#1a1a1a" stroke-width="0.14">14</text>
<line x1="485.52" y1="363.50" x2="485.52" y2="366.70" stroke="#1a1a1a" stroke-width="1.2"/>
<text x="485.52" y="377.40" font-size="8.3" text-anchor="middle" font-weight="normal" fill="#1a1a1a" stroke="#1a1a1a" stroke-width="0.14">16</text>
<line x1="504.96" y1="363.50" x2="504.96" y2="366.70" stroke="#1a1a1a" stroke-width="1.2"/>
<text x="504.96" y="377.40" font-size="8.3" text-anchor="middle" font-weight="normal" fill="#1a1a1a" stroke="#1a1a1a" stroke-width="0.14">18</text>
<text x="417.50" y="391.00" font-size="10.2" text-anchor="middle" font-weight="normal" fill="#1a1a1a" textLength="17.8" lengthAdjust="spacingAndGlyphs" stroke="#1a1a1a" stroke-width="0.14">Years</text>
<text transform="translate(297.0,293.7) rotate(-90)" font-size="10.2" text-anchor="middle" fill="#1a1a1a" textLength="90.5" lengthAdjust="spacingAndGlyphs">Time to first treatment (%)</text>
<path d="M330.00,229.75 H339.40 V230.00 H348.40 V230.40 H349.50 V231.03 H350.60 V231.67 H351.70 V232.30 H353.20 V233.03 H354.70 V233.77 H356.20 V234.50 H358.45 V235.35 H360.70 V236.20 H361.52 V236.90 H362.35 V237.60 H363.18 V238.30 H364.00 V239.00 H364.85 V239.70 H365.70 V240.40 H366.55 V241.10 H367.40 V241.80 H369.05 V242.65 H370.70 V243.50 H372.95 V244.30 H375.20 V245.10 H376.90 V245.95 H378.60 V246.80 H380.00 V246.90 H380.40 V247.67 H380.80 V248.43 H381.20 V249.20 H389.30 V249.20 H389.52 V249.90 H389.74 V250.60 H389.96 V251.30 H390.18 V252.00 H390.40 V252.70 H390.64 V253.38 H390.88 V254.06 H391.12 V254.74 H391.36 V255.42 H391.60 V256.10 H396.80 V256.70 H397.57 V257.30 H398.33 V257.90 H399.10 V258.50 H399.67 V259.27 H400.23 V260.03 H400.80 V260.80 H406.00 V260.80 H406.55 V261.65 H407.10 V262.50 H411.80 V263.10 H412.37 V263.87 H412.93 V264.63 H413.50 V265.40 H423.30 V265.40 H423.90 V267.70 H430.20 V267.70 H430.44 V268.40 H430.68 V269.10 H430.92 V269.80 H431.16 V270.50 H431.40 V271.20 H493.90 V271.20" fill="none" stroke="#2a4a85" stroke-width="1.4"/>
<line x1="333.00" y1="227.95" x2="333.00" y2="231.55" stroke="#2a4a85" stroke-width="1.1"/>
<line x1="335.50" y1="227.95" x2="335.50" y2="231.55" stroke="#2a4a85" stroke-width="1.1"/>
<line x1="338.00" y1="227.95" x2="338.00" y2="231.55" stroke="#2a4a85" stroke-width="1.1"/>
<line x1="340.50" y1="228.20" x2="340.50" y2="231.80" stroke="#2a4a85" stroke-width="1.1"/>
<line x1="343.00" y1="228.20" x2="343.00" y2="231.80" stroke="#2a4a85" stroke-width="1.1"/>
<line x1="345.50" y1="228.20" x2="345.50" y2="231.80" stroke="#2a4a85" stroke-width="1.1"/>
<line x1="348.00" y1="228.20" x2="348.00" y2="231.80" stroke="#2a4a85" stroke-width="1.1"/>
<line x1="350.50" y1="229.23" x2="350.50" y2="232.83" stroke="#2a4a85" stroke-width="1.1"/>
<line x1="353.00" y1="230.50" x2="353.00" y2="234.10" stroke="#2a4a85" stroke-width="1.1"/>
<line x1="355.50" y1="231.97" x2="355.50" y2="235.57" stroke="#2a4a85" stroke-width="1.1"/>
<line x1="358.00" y1="232.70" x2="358.00" y2="236.30" stroke="#2a4a85" stroke-width="1.1"/>
<line x1="360.50" y1="233.55" x2="360.50" y2="237.15" stroke="#2a4a85" stroke-width="1.1"/>
<line x1="363.00" y1="235.80" x2="363.00" y2="239.40" stroke="#2a4a85" stroke-width="1.1"/>
<line x1="365.50" y1="237.90" x2="365.50" y2="241.50" stroke="#2a4a85" stroke-width="1.1"/>
<line x1="368.00" y1="240.00" x2="368.00" y2="243.60" stroke="#2a4a85" stroke-width="1.1"/>
<line x1="370.50" y1="240.85" x2="370.50" y2="244.45" stroke="#2a4a85" stroke-width="1.1"/>
<line x1="373.00" y1="242.50" x2="373.00" y2="246.10" stroke="#2a4a85" stroke-width="1.1"/>
<line x1="375.50" y1="243.30" x2="375.50" y2="246.90" stroke="#2a4a85" stroke-width="1.1"/>
<line x1="378.00" y1="244.15" x2="378.00" y2="247.75" stroke="#2a4a85" stroke-width="1.1"/>
<line x1="380.50" y1="245.87" x2="380.50" y2="249.47" stroke="#2a4a85" stroke-width="1.1"/>
<line x1="383.00" y1="247.40" x2="383.00" y2="251.00" stroke="#2a4a85" stroke-width="1.1"/>
<line x1="385.50" y1="247.40" x2="385.50" y2="251.00" stroke="#2a4a85" stroke-width="1.1"/>
<line x1="388.00" y1="247.40" x2="388.00" y2="251.00" stroke="#2a4a85" stroke-width="1.1"/>
<line x1="390.50" y1="250.90" x2="390.50" y2="254.50" stroke="#2a4a85" stroke-width="1.1"/>
<line x1="393.00" y1="254.30" x2="393.00" y2="257.90" stroke="#2a4a85" stroke-width="1.1"/>
<line x1="395.50" y1="254.30" x2="395.50" y2="257.90" stroke="#2a4a85" stroke-width="1.1"/>
<line x1="398.00" y1="255.50" x2="398.00" y2="259.10" stroke="#2a4a85" stroke-width="1.1"/>
<line x1="400.50" y1="258.23" x2="400.50" y2="261.83" stroke="#2a4a85" stroke-width="1.1"/>
<line x1="403.00" y1="259.00" x2="403.00" y2="262.60" stroke="#2a4a85" stroke-width="1.1"/>
<line x1="405.50" y1="259.00" x2="405.50" y2="262.60" stroke="#2a4a85" stroke-width="1.1"/>
<line x1="408.00" y1="260.70" x2="408.00" y2="264.30" stroke="#2a4a85" stroke-width="1.1"/>
<line x1="410.50" y1="260.70" x2="410.50" y2="264.30" stroke="#2a4a85" stroke-width="1.1"/>
<line x1="413.00" y1="262.83" x2="413.00" y2="266.43" stroke="#2a4a85" stroke-width="1.1"/>
<line x1="415.50" y1="263.60" x2="415.50" y2="267.20" stroke="#2a4a85" stroke-width="1.1"/>
<line x1="418.00" y1="263.60" x2="418.00" y2="267.20" stroke="#2a4a85" stroke-width="1.1"/>
<line x1="420.50" y1="263.60" x2="420.50" y2="267.20" stroke="#2a4a85" stroke-width="1.1"/>
<line x1="423.00" y1="263.60" x2="423.00" y2="267.20" stroke="#2a4a85" stroke-width="1.1"/>
<line x1="425.50" y1="265.90" x2="425.50" y2="269.50" stroke="#2a4a85" stroke-width="1.1"/>
<line x1="428.00" y1="265.90" x2="428.00" y2="269.50" stroke="#2a4a85" stroke-width="1.1"/>
<line x1="430.50" y1="266.60" x2="430.50" y2="270.20" stroke="#2a4a85" stroke-width="1.1"/>
<line x1="433.25" y1="269.40" x2="433.25" y2="273.00" stroke="#2a4a85" stroke-width="1.1"/>
<line x1="435.10" y1="269.40" x2="435.10" y2="273.00" stroke="#2a4a85" stroke-width="1.1"/>
<line x1="437.60" y1="269.40" x2="437.60" y2="273.00" stroke="#2a4a85" stroke-width="1.1"/>
<line x1="439.50" y1="269.40" x2="439.50" y2="273.00" stroke="#2a4a85" stroke-width="1.1"/>
<line x1="441.40" y1="269.40" x2="441.40" y2="273.00" stroke="#2a4a85" stroke-width="1.1"/>
<line x1="443.25" y1="269.40" x2="443.25" y2="273.00" stroke="#2a4a85" stroke-width="1.1"/>
<line x1="444.50" y1="269.40" x2="444.50" y2="273.00" stroke="#2a4a85" stroke-width="1.1"/>
<line x1="446.40" y1="269.40" x2="446.40" y2="273.00" stroke="#2a4a85" stroke-width="1.1"/>
<line x1="447.60" y1="269.40" x2="447.60" y2="273.00" stroke="#2a4a85" stroke-width="1.1"/>
<line x1="452.60" y1="269.40" x2="452.60" y2="273.00" stroke="#2a4a85" stroke-width="1.1"/>
<line x1="455.75" y1="269.40" x2="455.75" y2="273.00" stroke="#2a4a85" stroke-width="1.1"/>
<line x1="457.00" y1="269.40" x2="457.00" y2="273.00" stroke="#2a4a85" stroke-width="1.1"/>
<line x1="458.90" y1="269.40" x2="458.90" y2="273.00" stroke="#2a4a85" stroke-width="1.1"/>
<line x1="463.25" y1="269.40" x2="463.25" y2="273.00" stroke="#2a4a85" stroke-width="1.1"/>
<line x1="472.00" y1="269.40" x2="472.00" y2="273.00" stroke="#2a4a85" stroke-width="1.1"/>
<line x1="474.50" y1="269.40" x2="474.50" y2="273.00" stroke="#2a4a85" stroke-width="1.1"/>
<line x1="482.00" y1="269.40" x2="482.00" y2="273.00" stroke="#2a4a85" stroke-width="1.1"/>
<line x1="483.25" y1="269.40" x2="483.25" y2="273.00" stroke="#2a4a85" stroke-width="1.1"/>
<line x1="487.00" y1="269.40" x2="487.00" y2="273.00" stroke="#2a4a85" stroke-width="1.1"/>
<line x1="493.25" y1="269.40" x2="493.25" y2="273.00" stroke="#2a4a85" stroke-width="1.1"/>
<path d="M330.00,229.75 H331.67 V230.40 H333.33 V231.05 H335.00 V231.70 H336.10 V232.40 H337.20 V233.10 H338.30 V233.80 H339.40 V234.50 H340.90 V235.23 H342.40 V235.97 H343.90 V236.70 H344.80 V237.38 H345.70 V238.06 H346.60 V238.74 H347.50 V239.42 H348.40 V240.10 H348.77 V240.75 H349.13 V241.40 H349.50 V242.05 H349.87 V242.70 H350.23 V243.35 H350.60 V244.00 H351.17 V244.65 H351.73 V245.30 H352.30 V245.95 H352.87 V246.60 H353.43 V247.25 H354.00 V247.90 H355.10 V248.60 H356.20 V249.30 H357.30 V250.00 H358.40 V250.70 H358.78 V251.35 H359.17 V252.00 H359.55 V252.65 H359.93 V253.30 H360.32 V253.95 H360.70 V254.60 H361.52 V255.30 H362.35 V256.00 H363.18 V256.70 H364.00 V257.40 H364.68 V258.08 H365.36 V258.76 H366.04 V259.44 H366.72 V260.12 H367.40 V260.80 H367.77 V261.45 H368.13 V262.10 H368.50 V262.75 H368.87 V263.40 H369.23 V264.05 H369.60 V264.70 H370.28 V265.38 H370.96 V266.06 H371.64 V266.74 H372.32 V267.42 H373.00 V268.10 H373.37 V268.80 H373.73 V269.50 H374.10 V270.20 H376.00 V271.20 H376.46 V271.89 H376.92 V272.58 H377.38 V273.27 H377.84 V273.96 H378.30 V274.65 H379.15 V275.52 H380.00 V276.40 H386.40 V276.40 H387.55 V277.25 H388.70 V278.10 H389.04 V278.80 H389.38 V279.50 H389.72 V280.20 H390.06 V280.90 H390.40 V281.60 H391.85 V282.45 H393.30 V283.30 H394.45 V284.15 H395.60 V285.00 H397.35 V285.60 H399.10 V286.20 H400.80 V286.75 H402.50 V287.30 H402.80 V288.02 H403.10 V288.75 H403.40 V289.48 H403.70 V290.20 H404.85 V290.80 H406.00 V291.40 H407.15 V292.25 H408.30 V293.10 H416.40 V293.10 H417.85 V293.70 H419.30 V294.30 H420.07 V295.07 H420.83 V295.83 H421.60 V296.60 H422.53 V297.37 H423.47 V298.13 H424.40 V298.90 H438.90 V299.40 H439.36 V300.05 H439.82 V300.70 H440.29 V301.35 H440.75 V302.00 H442.20 V302.80 H443.65 V303.60 H445.10 V304.40 H453.25 V304.40 H453.90 V310.00 H490.75 V310.20" fill="none" stroke="#5ca238" stroke-width="1.4"/>
<line x1="333.00" y1="228.60" x2="333.00" y2="232.20" stroke="#5ca238" stroke-width="1.1"/>
<line x1="335.70" y1="229.90" x2="335.70" y2="233.50" stroke="#5ca238" stroke-width="1.1"/>
<line x1="338.40" y1="232.00" x2="338.40" y2="235.60" stroke="#5ca238" stroke-width="1.1"/>
<line x1="341.10" y1="233.43" x2="341.10" y2="237.03" stroke="#5ca238" stroke-width="1.1"/>
<line x1="343.80" y1="234.17" x2="343.80" y2="237.77" stroke="#5ca238" stroke-width="1.1"/>
<line x1="346.50" y1="236.26" x2="346.50" y2="239.86" stroke="#5ca238" stroke-width="1.1"/>
<line x1="349.20" y1="239.60" x2="349.20" y2="243.20" stroke="#5ca238" stroke-width="1.1"/>
<line x1="351.90" y1="243.50" x2="351.90" y2="247.10" stroke="#5ca238" stroke-width="1.1"/>
<line x1="354.60" y1="246.10" x2="354.60" y2="249.70" stroke="#5ca238" stroke-width="1.1"/>
<line x1="357.30" y1="248.20" x2="357.30" y2="251.80" stroke="#5ca238" stroke-width="1.1"/>
<line x1="360.00" y1="251.50" x2="360.00" y2="255.10" stroke="#5ca238" stroke-width="1.1"/>
<line x1="362.70" y1="254.20" x2="362.70" y2="257.80" stroke="#5ca238" stroke-width="1.1"/>
<line x1="365.40" y1="256.96" x2="365.40" y2="260.56" stroke="#5ca238" stroke-width="1.1"/>
<line x1="368.10" y1="259.65" x2="368.10" y2="263.25" stroke="#5ca238" stroke-width="1.1"/>
<line x1="370.80" y1="263.58" x2="370.80" y2="267.18" stroke="#5ca238" stroke-width="1.1"/>
<line x1="373.50" y1="267.00" x2="373.50" y2="270.60" stroke="#5ca238" stroke-width="1.1"/>
<line x1="376.20" y1="269.40" x2="376.20" y2="273.00" stroke="#5ca238" stroke-width="1.1"/>
<line x1="378.90" y1="272.85" x2="378.90" y2="276.45" stroke="#5ca238" stroke-width="1.1"/>
<line x1="381.60" y1="274.60" x2="381.60" y2="278.20" stroke="#5ca238" stroke-width="1.1"/>
<line x1="384.30" y1="274.60" x2="384.30" y2="278.20" stroke="#5ca238" stroke-width="1.1"/>
<line x1="387.00" y1="274.60" x2="387.00" y2="278.20" stroke="#5ca238" stroke-width="1.1"/>
<line x1="389.70" y1="277.70" x2="389.70" y2="281.30" stroke="#5ca238" stroke-width="1.1"/>
<line x1="392.40" y1="280.65" x2="392.40" y2="284.25" stroke="#5ca238" stroke-width="1.1"/>
<line x1="395.10" y1="282.35" x2="395.10" y2="285.95" stroke="#5ca238" stroke-width="1.1"/>
<line x1="397.80" y1="283.80" x2="397.80" y2="287.40" stroke="#5ca238" stroke-width="1.1"/>
<line x1="400.50" y1="284.40" x2="400.50" y2="288.00" stroke="#5ca238" stroke-width="1.1"/>
<line x1="403.20" y1="286.95" x2="403.20" y2="290.55" stroke="#5ca238" stroke-width="1.1"/>
<line x1="405.90" y1="289.00" x2="405.90" y2="292.60" stroke="#5ca238" stroke-width="1.1"/>
<line x1="408.60" y1="291.30" x2="408.60" y2="294.90" stroke="#5ca238" stroke-width="1.1"/>
<line x1="411.30" y1="291.30" x2="411.30" y2="294.90" stroke="#5ca238" stroke-width="1.1"/>
<line x1="414.00" y1="291.30" x2="414.00" y2="294.90" stroke="#5ca238" stroke-width="1.1"/>
<line x1="416.70" y1="291.30" x2="416.70" y2="294.90" stroke="#5ca238" stroke-width="1.1"/>
<line x1="419.40" y1="292.50" x2="419.40" y2="296.10" stroke="#5ca238" stroke-width="1.1"/>
<line x1="422.10" y1="294.80" x2="422.10" y2="298.40" stroke="#5ca238" stroke-width="1.1"/>
<line x1="424.80" y1="297.10" x2="424.80" y2="300.70" stroke="#5ca238" stroke-width="1.1"/>
<line x1="427.50" y1="297.10" x2="427.50" y2="300.70" stroke="#5ca238" stroke-width="1.1"/>
<line x1="430.20" y1="297.10" x2="430.20" y2="300.70" stroke="#5ca238" stroke-width="1.1"/>
<line x1="432.90" y1="297.10" x2="432.90" y2="300.70" stroke="#5ca238" stroke-width="1.1"/>
<line x1="433.90" y1="297.10" x2="433.90" y2="300.70" stroke="#5ca238" stroke-width="1.1"/>
<line x1="438.90" y1="297.60" x2="438.90" y2="301.20" stroke="#5ca238" stroke-width="1.1"/>
<line x1="448.25" y1="302.60" x2="448.25" y2="306.20" stroke="#5ca238" stroke-width="1.1"/>
<line x1="452.00" y1="302.60" x2="452.00" y2="306.20" stroke="#5ca238" stroke-width="1.1"/>
<line x1="457.00" y1="308.20" x2="457.00" y2="311.80" stroke="#5ca238" stroke-width="1.1"/>
<line x1="462.00" y1="308.20" x2="462.00" y2="311.80" stroke="#5ca238" stroke-width="1.1"/>
<line x1="468.25" y1="308.20" x2="468.25" y2="311.80" stroke="#5ca238" stroke-width="1.1"/>
<line x1="476.40" y1="308.20" x2="476.40" y2="311.80" stroke="#5ca238" stroke-width="1.1"/>
<line x1="487.00" y1="308.20" x2="487.00" y2="311.80" stroke="#5ca238" stroke-width="1.1"/>
<line x1="489.50" y1="308.20" x2="489.50" y2="311.80" stroke="#5ca238" stroke-width="1.1"/>
<path d="M330.00,229.75 H331.00 V230.00 H331.56 V230.56 H332.12 V231.12 H332.68 V231.68 H333.24 V232.24 H333.80 V232.80 H333.99 V233.42 H334.18 V234.04 H334.37 V234.67 H334.56 V235.29 H334.74 V235.91 H334.93 V236.53 H335.12 V237.16 H335.31 V237.78 H335.50 V238.40 H335.69 V239.02 H335.88 V239.64 H336.07 V240.27 H336.26 V240.89 H336.44 V241.51 H336.63 V242.13 H336.82 V242.76 H337.01 V243.38 H337.20 V244.00 H337.41 V244.62 H337.62 V245.25 H337.84 V245.88 H338.05 V246.50 H338.26 V247.12 H338.47 V247.75 H338.69 V248.38 H338.90 V249.00 H339.10 V249.64 H339.30 V250.28 H339.50 V250.91 H339.70 V251.55 H339.90 V252.19 H340.10 V252.82 H340.30 V253.46 H340.50 V254.10 H340.79 V254.66 H341.07 V255.22 H341.36 V255.79 H341.65 V256.35 H341.94 V256.91 H342.23 V257.48 H342.51 V258.04 H342.80 V258.60 H343.11 V259.23 H343.43 V259.86 H343.74 V260.49 H344.06 V261.11 H344.37 V261.74 H344.69 V262.37 H345.00 V263.00 H345.21 V263.62 H345.43 V264.25 H345.64 V264.88 H345.85 V265.50 H346.06 V266.12 H346.27 V266.75 H346.49 V267.38 H346.70 V268.00 H346.91 V268.56 H347.12 V269.12 H347.34 V269.69 H347.55 V270.25 H347.76 V270.81 H347.97 V271.38 H348.19 V271.94 H348.40 V272.50 H348.87 V273.05 H349.33 V273.60 H349.80 V274.15 H350.27 V274.70 H350.73 V275.25 H351.20 V275.80 H351.34 V276.36 H351.48 V276.93 H351.61 V277.49 H351.75 V278.05 H351.89 V278.61 H352.02 V279.18 H352.16 V279.74 H352.30 V280.30 H352.57 V280.87 H352.83 V281.43 H353.10 V282.00 H353.37 V282.57 H353.63 V283.13 H353.90 V283.70 H354.14 V284.33 H354.39 V284.96 H354.63 V285.59 H354.87 V286.21 H355.11 V286.84 H355.36 V287.47 H355.60 V288.10 H356.18 V288.68 H356.75 V289.25 H357.32 V289.82 H357.90 V290.40 H358.17 V290.95 H358.43 V291.50 H358.70 V292.05 H358.97 V292.60 H359.23 V293.15 H359.50 V293.70 H359.88 V294.27 H360.27 V294.83 H360.65 V295.40 H361.03 V295.97 H361.42 V296.53 H361.80 V297.10 H362.24 V297.76 H362.68 V298.42 H363.12 V299.08 H363.56 V299.74 H364.00 V300.40 H365.13 V300.97 H366.27 V301.53 H367.40 V302.10 H367.67 V302.67 H367.93 V303.23 H368.20 V303.80 H368.47 V304.37 H368.73 V304.93 H369.00 V305.50 H369.38 V306.05 H369.77 V306.60 H370.15 V307.15 H370.53 V307.70 H370.92 V308.25 H371.30 V308.80 H371.67 V309.37 H372.03 V309.93 H372.40 V310.50 H372.77 V311.07 H373.13 V311.63 H373.50 V312.20 H374.35 V312.75 H375.20 V313.30 H376.05 V313.85 H376.90 V314.40 H377.88 V314.97 H378.85 V315.55 H379.82 V316.12 H380.80 V316.70 H381.65 V317.40 H382.50 V318.10 H383.00 V318.73 H383.50 V319.36 H384.00 V319.99 H384.50 V320.62 H385.00 V321.25 H386.47 V321.87 H387.93 V322.48 H389.40 V323.10 H389.86 V323.73 H390.32 V324.35 H390.79 V324.98 H391.25 V325.60 H392.04 V326.23 H392.82 V326.85 H393.61 V327.48 H394.40 V328.10 H395.63 V328.73 H396.87 V329.37 H398.10 V330.00 H398.36 V330.62 H398.62 V331.24 H398.88 V331.86 H399.14 V332.48 H399.40 V333.10 H404.40 V333.10 H406.25 V333.75 H408.12 V334.38 H410.00 V335.00 H410.95 V335.62 H411.90 V336.25 H418.75 V336.25 H420.00 V336.88 H421.25 V337.50 H423.12 V338.00 H425.00 V338.50 H430.00 V339.40 H430.62 V340.00 H431.25 V340.60 H482.50 V340.60" fill="none" stroke="#a00024" stroke-width="1.4"/>
<line x1="333.00" y1="229.88" x2="333.00" y2="233.48" stroke="#a00024" stroke-width="1.1"/>
<line x1="335.60" y1="236.60" x2="335.60" y2="240.20" stroke="#a00024" stroke-width="1.1"/>
<line x1="338.20" y1="244.70" x2="338.20" y2="248.30" stroke="#a00024" stroke-width="1.1"/>
<line x1="340.80" y1="252.86" x2="340.80" y2="256.46" stroke="#a00024" stroke-width="1.1"/>
<line x1="343.40" y1="257.43" x2="343.40" y2="261.03" stroke="#a00024" stroke-width="1.1"/>
<line x1="346.00" y1="263.70" x2="346.00" y2="267.30" stroke="#a00024" stroke-width="1.1"/>
<line x1="348.60" y1="270.70" x2="348.60" y2="274.30" stroke="#a00024" stroke-width="1.1"/>
<line x1="351.20" y1="274.00" x2="351.20" y2="277.60" stroke="#a00024" stroke-width="1.1"/>
<line x1="353.80" y1="281.33" x2="353.80" y2="284.93" stroke="#a00024" stroke-width="1.1"/>
<line x1="356.40" y1="286.88" x2="356.40" y2="290.48" stroke="#a00024" stroke-width="1.1"/>
<line x1="359.00" y1="290.80" x2="359.00" y2="294.40" stroke="#a00024" stroke-width="1.1"/>
<line x1="361.60" y1="294.73" x2="361.60" y2="298.33" stroke="#a00024" stroke-width="1.1"/>
<line x1="364.20" y1="298.60" x2="364.20" y2="302.20" stroke="#a00024" stroke-width="1.1"/>
<line x1="366.80" y1="299.73" x2="366.80" y2="303.33" stroke="#a00024" stroke-width="1.1"/>
<line x1="369.40" y1="304.25" x2="369.40" y2="307.85" stroke="#a00024" stroke-width="1.1"/>
<line x1="372.00" y1="307.57" x2="372.00" y2="311.17" stroke="#a00024" stroke-width="1.1"/>
<line x1="374.60" y1="310.95" x2="374.60" y2="314.55" stroke="#a00024" stroke-width="1.1"/>
<line x1="377.20" y1="312.60" x2="377.20" y2="316.20" stroke="#a00024" stroke-width="1.1"/>
<line x1="379.80" y1="313.75" x2="379.80" y2="317.35" stroke="#a00024" stroke-width="1.1"/>
<line x1="382.40" y1="315.60" x2="382.40" y2="319.20" stroke="#a00024" stroke-width="1.1"/>
<line x1="385.00" y1="319.45" x2="385.00" y2="323.05" stroke="#a00024" stroke-width="1.1"/>
<line x1="387.60" y1="320.07" x2="387.60" y2="323.67" stroke="#a00024" stroke-width="1.1"/>
<line x1="390.20" y1="321.93" x2="390.20" y2="325.53" stroke="#a00024" stroke-width="1.1"/>
<line x1="392.80" y1="324.43" x2="392.80" y2="328.03" stroke="#a00024" stroke-width="1.1"/>
<line x1="395.40" y1="326.30" x2="395.40" y2="329.90" stroke="#a00024" stroke-width="1.1"/>
<line x1="398.00" y1="327.57" x2="398.00" y2="331.17" stroke="#a00024" stroke-width="1.1"/>
<line x1="400.60" y1="331.30" x2="400.60" y2="334.90" stroke="#a00024" stroke-width="1.1"/>
<line x1="403.20" y1="331.30" x2="403.20" y2="334.90" stroke="#a00024" stroke-width="1.1"/>
<line x1="405.80" y1="331.30" x2="405.80" y2="334.90" stroke="#a00024" stroke-width="1.1"/>
<line x1="408.40" y1="332.57" x2="408.40" y2="336.18" stroke="#a00024" stroke-width="1.1"/>
<line x1="411.00" y1="333.82" x2="411.00" y2="337.43" stroke="#a00024" stroke-width="1.1"/>
<line x1="413.60" y1="334.45" x2="413.60" y2="338.05" stroke="#a00024" stroke-width="1.1"/>
<line x1="416.20" y1="334.45" x2="416.20" y2="338.05" stroke="#a00024" stroke-width="1.1"/>
<line x1="418.80" y1="334.45" x2="418.80" y2="338.05" stroke="#a00024" stroke-width="1.1"/>
<line x1="421.40" y1="335.70" x2="421.40" y2="339.30" stroke="#a00024" stroke-width="1.1"/>
<line x1="424.00" y1="336.20" x2="424.00" y2="339.80" stroke="#a00024" stroke-width="1.1"/>
<line x1="426.60" y1="336.70" x2="426.60" y2="340.30" stroke="#a00024" stroke-width="1.1"/>
<line x1="429.20" y1="336.70" x2="429.20" y2="340.30" stroke="#a00024" stroke-width="1.1"/>
<line x1="435.00" y1="338.80" x2="435.00" y2="342.40" stroke="#a00024" stroke-width="1.1"/>
<line x1="448.75" y1="338.80" x2="448.75" y2="342.40" stroke="#a00024" stroke-width="1.1"/>
<line x1="452.50" y1="338.80" x2="452.50" y2="342.40" stroke="#a00024" stroke-width="1.1"/>
<line x1="461.00" y1="338.80" x2="461.00" y2="342.40" stroke="#a00024" stroke-width="1.1"/>
<line x1="473.10" y1="338.80" x2="473.10" y2="342.40" stroke="#a00024" stroke-width="1.1"/>
<line x1="481.25" y1="338.80" x2="481.25" y2="342.40" stroke="#a00024" stroke-width="1.1"/>
<text x="438.50" y="225.20" font-size="6.8" text-anchor="middle" font-weight="normal" fill="#1a1a1a" stroke="#1a1a1a" stroke-width="0.14">p</text>
<rect x="449.10" y="217.60" width="20.85" height="9.70" fill="#2c4a80"/>
<rect x="428.10" y="227.80" width="21.00" height="9.90" fill="#2c4a80"/>
<rect x="469.90" y="217.60" width="20.85" height="9.70" fill="#67a844"/>
<rect x="428.10" y="237.65" width="21.00" height="9.90" fill="#67a844"/>
<rect x="490.70" y="217.60" width="20.85" height="9.70" fill="#a60029"/>
<rect x="428.10" y="247.50" width="21.00" height="9.90" fill="#a60029"/>
<line x1="458.70" y1="232.70" x2="460.30" y2="232.70" stroke="#333" stroke-width="0.8"/>
<text x="480.30" y="234.90" font-size="6.3" text-anchor="middle" font-weight="normal" fill="#1a1a1a" textLength="16.1" lengthAdjust="spacingAndGlyphs" stroke="none">&lt;.001</text>
<text x="501.10" y="234.90" font-size="6.3" text-anchor="middle" font-weight="normal" fill="#1a1a1a" textLength="16.1" lengthAdjust="spacingAndGlyphs" stroke="none">&lt;.001</text>
<text x="459.50" y="244.75" font-size="6.3" text-anchor="middle" font-weight="normal" fill="#1a1a1a" textLength="16.1" lengthAdjust="spacingAndGlyphs" stroke="none">&lt;.001</text>
<line x1="479.50" y1="242.55" x2="481.10" y2="242.55" stroke="#333" stroke-width="0.8"/>
<text x="501.10" y="244.75" font-size="6.3" text-anchor="middle" font-weight="normal" fill="#1a1a1a" textLength="16.1" lengthAdjust="spacingAndGlyphs" stroke="none">&lt;.001</text>
<text x="459.50" y="254.60" font-size="6.3" text-anchor="middle" font-weight="normal" fill="#1a1a1a" textLength="16.1" lengthAdjust="spacingAndGlyphs" stroke="none">&lt;.001</text>
<text x="480.30" y="254.60" font-size="6.3" text-anchor="middle" font-weight="normal" fill="#1a1a1a" textLength="16.1" lengthAdjust="spacingAndGlyphs" stroke="none">&lt;.001</text>
<line x1="500.30" y1="252.40" x2="501.90" y2="252.40" stroke="#333" stroke-width="0.8"/>
<text x="287.50" y="403.00" font-size="7.8" text-anchor="start" font-weight="normal" fill="#1a1a1a" textLength="35.4" lengthAdjust="spacingAndGlyphs" stroke="#1a1a1a" stroke-width="0.25">No. at risk</text>
<line x1="311.90" y1="412.00" x2="319.80" y2="412.00" stroke="#2a4a85" stroke-width="1.4"/>
<text x="330.25" y="414.85" font-size="8.1" text-anchor="middle" font-weight="normal" fill="#1a1a1a" textLength="11.55" lengthAdjust="spacingAndGlyphs" stroke="#1a1a1a" stroke-width="0.14">180</text>
<text x="347.65" y="414.85" font-size="8.1" text-anchor="middle" font-weight="normal" fill="#1a1a1a" textLength="11.55" lengthAdjust="spacingAndGlyphs" stroke="#1a1a1a" stroke-width="0.14">136</text>
<text x="365.05" y="414.85" font-size="8.1" text-anchor="middle" font-weight="normal" fill="#1a1a1a" textLength="7.7" lengthAdjust="spacingAndGlyphs" stroke="#1a1a1a" stroke-width="0.14">93</text>
<text x="382.45" y="414.85" font-size="8.1" text-anchor="middle" font-weight="normal" fill="#1a1a1a" textLength="7.7" lengthAdjust="spacingAndGlyphs" stroke="#1a1a1a" stroke-width="0.14">65</text>
<text x="399.85" y="414.85" font-size="8.1" text-anchor="middle" font-weight="normal" fill="#1a1a1a" textLength="7.7" lengthAdjust="spacingAndGlyphs" stroke="#1a1a1a" stroke-width="0.14">41</text>
<text x="417.25" y="414.85" font-size="8.1" text-anchor="middle" font-weight="normal" fill="#1a1a1a" textLength="7.7" lengthAdjust="spacingAndGlyphs" stroke="#1a1a1a" stroke-width="0.14">31</text>
<text x="434.65" y="414.85" font-size="8.1" text-anchor="middle" font-weight="normal" fill="#1a1a1a" textLength="7.7" lengthAdjust="spacingAndGlyphs" stroke="#1a1a1a" stroke-width="0.14">14</text>
<text x="452.05" y="414.85" font-size="8.1" text-anchor="middle" font-weight="normal" fill="#1a1a1a" textLength="3.85" lengthAdjust="spacingAndGlyphs" stroke="#1a1a1a" stroke-width="0.14">6</text>
<text x="469.45" y="414.85" font-size="8.1" text-anchor="middle" font-weight="normal" fill="#1a1a1a" textLength="3.85" lengthAdjust="spacingAndGlyphs" stroke="#1a1a1a" stroke-width="0.14">2</text>
<text x="486.85" y="414.85" font-size="8.1" text-anchor="middle" font-weight="normal" fill="#1a1a1a" textLength="3.85" lengthAdjust="spacingAndGlyphs" stroke="#1a1a1a" stroke-width="0.14">0</text>
<line x1="503.35" y1="412.30" x2="505.15" y2="412.30" stroke="#333" stroke-width="0.9"/>
<line x1="311.90" y1="423.60" x2="319.80" y2="423.60" stroke="#5ca238" stroke-width="1.4"/>
<text x="330.25" y="426.45" font-size="8.1" text-anchor="middle" font-weight="normal" fill="#1a1a1a" textLength="11.55" lengthAdjust="spacingAndGlyphs" stroke="#1a1a1a" stroke-width="0.14">318</text>
<text x="347.65" y="426.45" font-size="8.1" text-anchor="middle" font-weight="normal" fill="#1a1a1a" textLength="11.55" lengthAdjust="spacingAndGlyphs" stroke="#1a1a1a" stroke-width="0.14">217</text>
<text x="365.05" y="426.45" font-size="8.1" text-anchor="middle" font-weight="normal" fill="#1a1a1a" textLength="11.55" lengthAdjust="spacingAndGlyphs" stroke="#1a1a1a" stroke-width="0.14">134</text>
<text x="382.45" y="426.45" font-size="8.1" text-anchor="middle" font-weight="normal" fill="#1a1a1a" textLength="7.7" lengthAdjust="spacingAndGlyphs" stroke="#1a1a1a" stroke-width="0.14">86</text>
<text x="399.85" y="426.45" font-size="8.1" text-anchor="middle" font-weight="normal" fill="#1a1a1a" textLength="7.7" lengthAdjust="spacingAndGlyphs" stroke="#1a1a1a" stroke-width="0.14">53</text>
<text x="417.25" y="426.45" font-size="8.1" text-anchor="middle" font-weight="normal" fill="#1a1a1a" textLength="7.7" lengthAdjust="spacingAndGlyphs" stroke="#1a1a1a" stroke-width="0.14">33</text>
<text x="434.65" y="426.45" font-size="8.1" text-anchor="middle" font-weight="normal" fill="#1a1a1a" textLength="7.7" lengthAdjust="spacingAndGlyphs" stroke="#1a1a1a" stroke-width="0.14">15</text>
<text x="452.05" y="426.45" font-size="8.1" text-anchor="middle" font-weight="normal" fill="#1a1a1a" textLength="3.85" lengthAdjust="spacingAndGlyphs" stroke="#1a1a1a" stroke-width="0.14">5</text>
<text x="469.45" y="426.45" font-size="8.1" text-anchor="middle" font-weight="normal" fill="#1a1a1a" textLength="3.85" lengthAdjust="spacingAndGlyphs" stroke="#1a1a1a" stroke-width="0.14">3</text>
<text x="486.85" y="426.45" font-size="8.1" text-anchor="middle" font-weight="normal" fill="#1a1a1a" textLength="3.85" lengthAdjust="spacingAndGlyphs" stroke="#1a1a1a" stroke-width="0.14">0</text>
<line x1="503.35" y1="423.90" x2="505.15" y2="423.90" stroke="#333" stroke-width="0.9"/>
<line x1="311.90" y1="435.20" x2="319.80" y2="435.20" stroke="#a00024" stroke-width="1.4"/>
<text x="330.25" y="438.05" font-size="8.1" text-anchor="middle" font-weight="normal" fill="#1a1a1a" textLength="11.55" lengthAdjust="spacingAndGlyphs" stroke="#1a1a1a" stroke-width="0.14">383</text>
<text x="347.65" y="438.05" font-size="8.1" text-anchor="middle" font-weight="normal" fill="#1a1a1a" textLength="11.55" lengthAdjust="spacingAndGlyphs" stroke="#1a1a1a" stroke-width="0.14">183</text>
<text x="365.05" y="438.05" font-size="8.1" text-anchor="middle" font-weight="normal" fill="#1a1a1a" textLength="7.7" lengthAdjust="spacingAndGlyphs" stroke="#1a1a1a" stroke-width="0.14">87</text>
<text x="382.45" y="438.05" font-size="8.1" text-anchor="middle" font-weight="normal" fill="#1a1a1a" textLength="7.7" lengthAdjust="spacingAndGlyphs" stroke="#1a1a1a" stroke-width="0.14">44</text>
<text x="399.85" y="438.05" font-size="8.1" text-anchor="middle" font-weight="normal" fill="#1a1a1a" textLength="7.7" lengthAdjust="spacingAndGlyphs" stroke="#1a1a1a" stroke-width="0.14">26</text>
<text x="417.25" y="438.05" font-size="8.1" text-anchor="middle" font-weight="normal" fill="#1a1a1a" textLength="7.7" lengthAdjust="spacingAndGlyphs" stroke="#1a1a1a" stroke-width="0.14">13</text>
<text x="434.65" y="438.05" font-size="8.1" text-anchor="middle" font-weight="normal" fill="#1a1a1a" textLength="3.85" lengthAdjust="spacingAndGlyphs" stroke="#1a1a1a" stroke-width="0.14">6</text>
<text x="452.05" y="438.05" font-size="8.1" text-anchor="middle" font-weight="normal" fill="#1a1a1a" textLength="3.85" lengthAdjust="spacingAndGlyphs" stroke="#1a1a1a" stroke-width="0.14">2</text>
<text x="469.45" y="438.05" font-size="8.1" text-anchor="middle" font-weight="normal" fill="#1a1a1a" textLength="3.85" lengthAdjust="spacingAndGlyphs" stroke="#1a1a1a" stroke-width="0.14">0</text>
<line x1="485.95" y1="435.50" x2="487.75" y2="435.50" stroke="#333" stroke-width="0.9"/>
<line x1="503.35" y1="435.50" x2="505.15" y2="435.50" stroke="#333" stroke-width="0.9"/>
<rect x="0.5" y="0.5" width="519" height="446" fill="none" stroke="#000" stroke-width="1"/>
</svg>
</body></html>
